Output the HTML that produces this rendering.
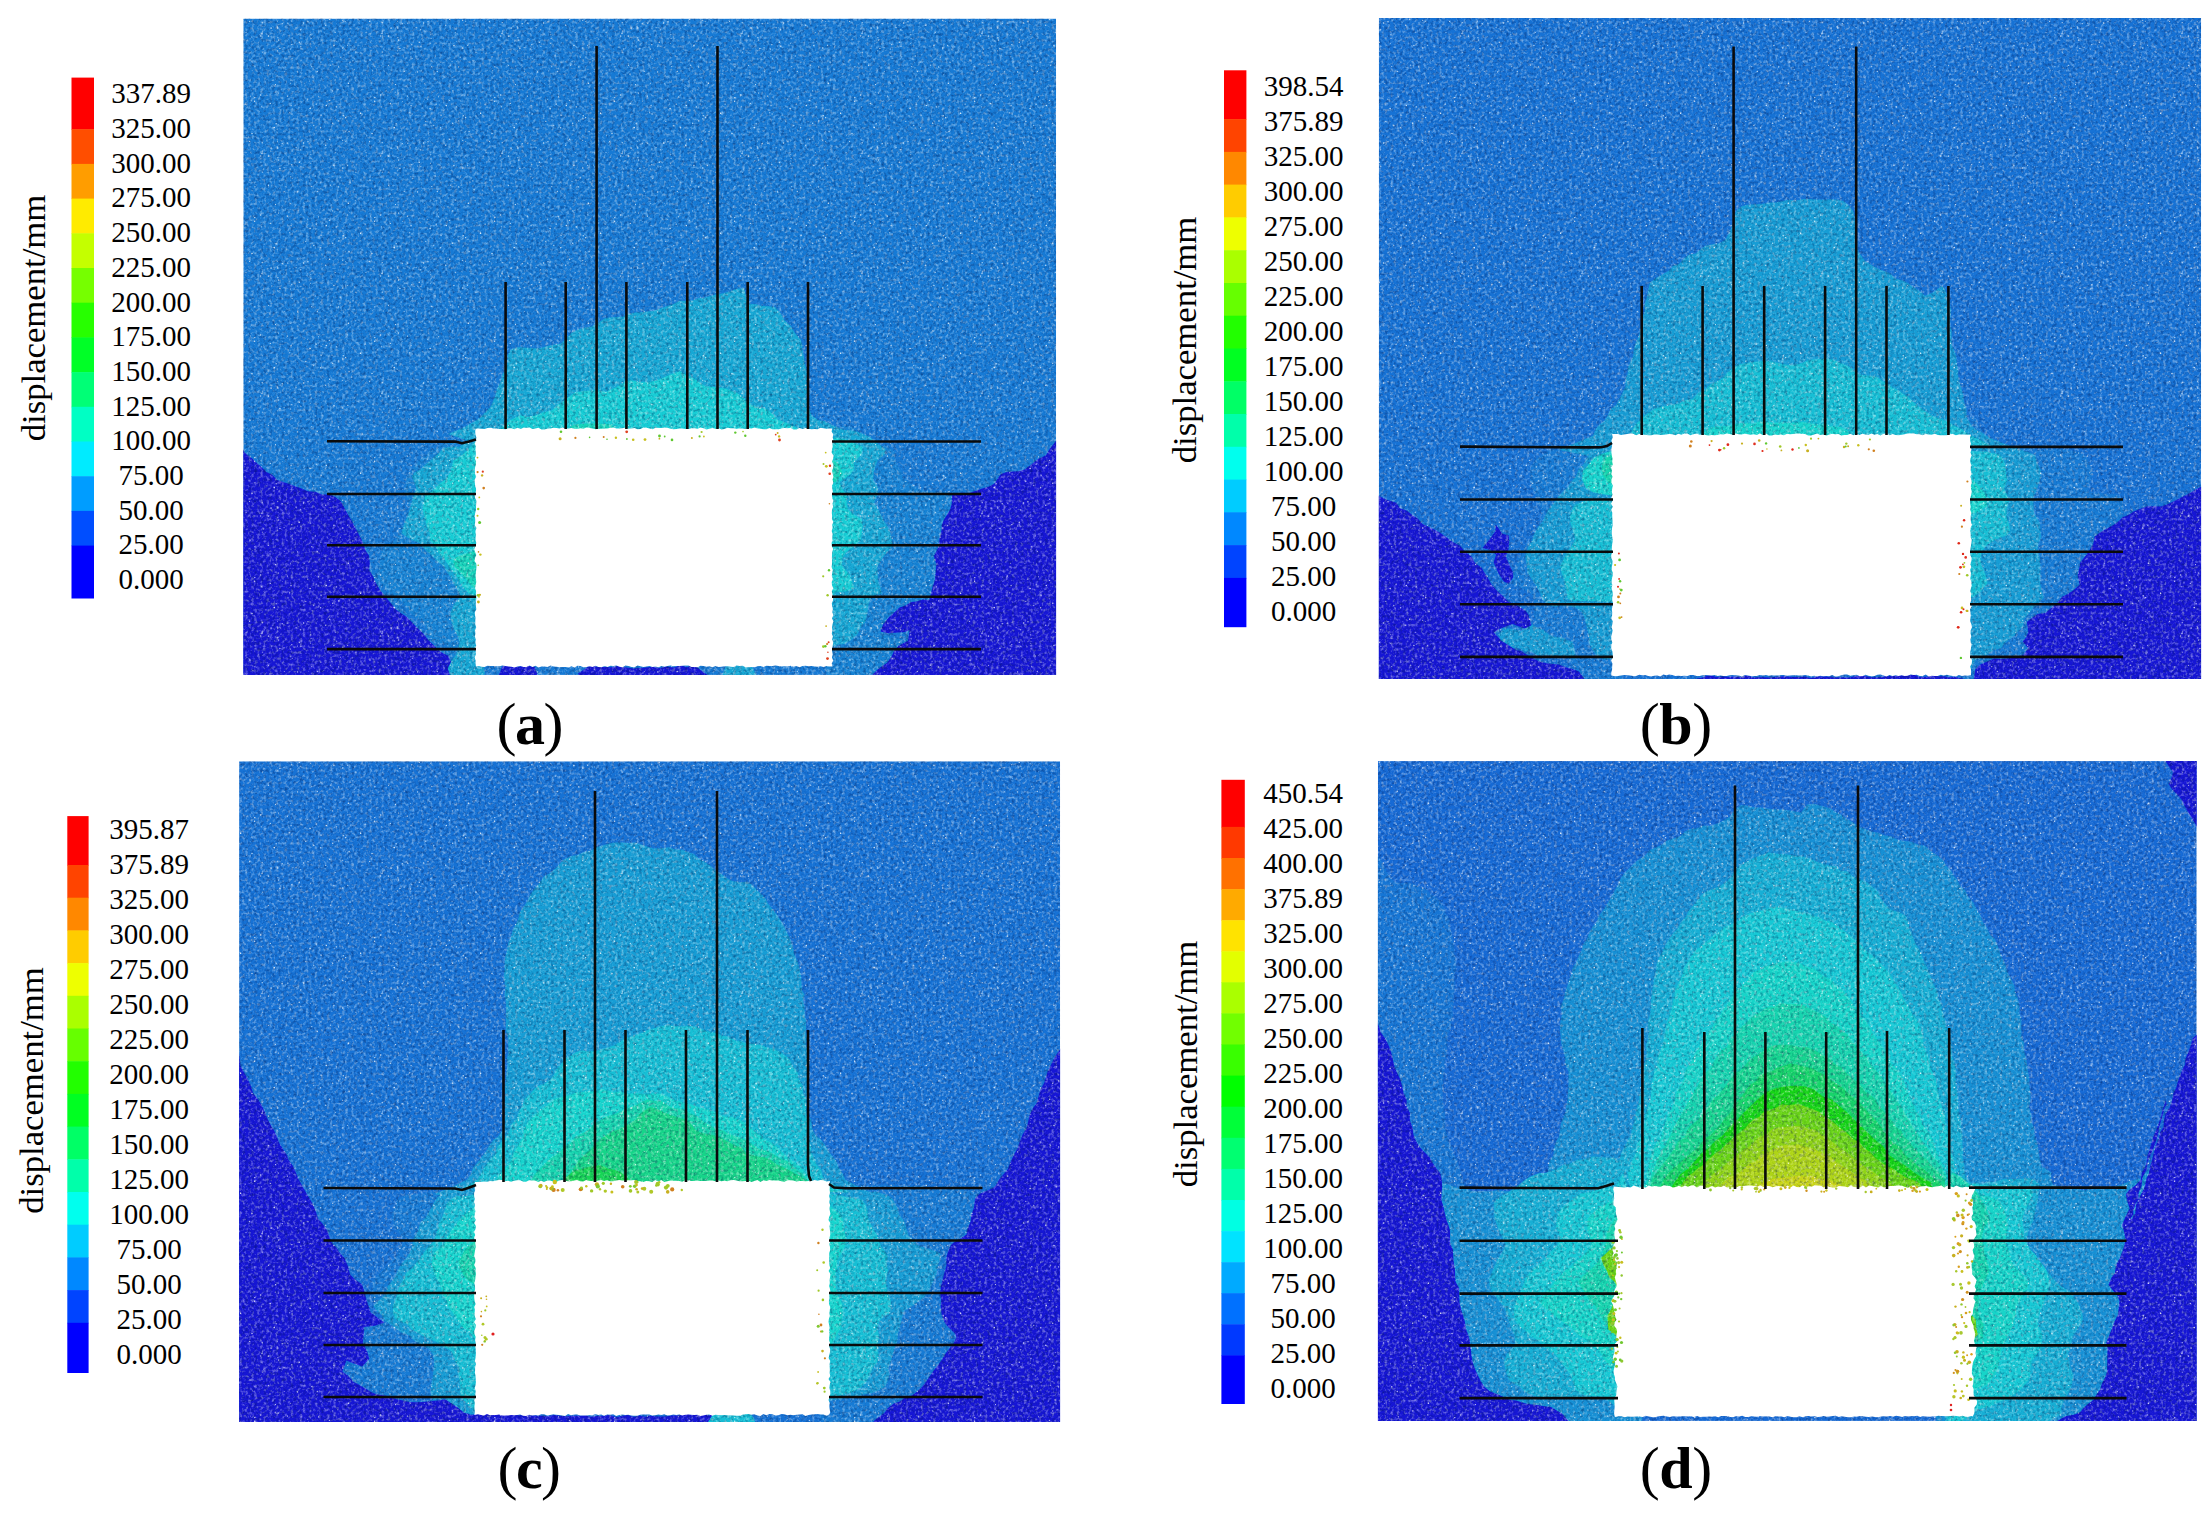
<!DOCTYPE html>
<html lang="en"><head><meta charset="utf-8"><title>Displacement contours</title>
<style>html,body{margin:0;padding:0;background:#fff}svg{display:block}text{font-family:"Liberation Serif","Times New Roman",serif;fill:#000}.lab{font-size:29px;text-anchor:middle}.ttl{font-size:34.7px;text-anchor:middle}.cap{font-size:60px;text-anchor:middle}.cap .b{font-weight:bold}</style></head><body>
<svg width="2212" height="1520" viewBox="0 0 2212 1520">
<defs>
<pattern id="sp" width="120" height="120" patternUnits="userSpaceOnUse"><circle cx="28.6" cy="65.3" r="0.60" fill="#fff" fill-opacity="0.65"/><circle cx="75.1" cy="7.9" r="0.46" fill="#fff" fill-opacity="0.77"/><circle cx="31.1" cy="28.1" r="0.85" fill="#fff" fill-opacity="0.59"/><circle cx="100.4" cy="57.2" r="0.71" fill="#fff" fill-opacity="0.43"/><circle cx="76.2" cy="104.2" r="0.66" fill="#fff" fill-opacity="0.72"/><circle cx="80.6" cy="7.7" r="0.75" fill="#fff" fill-opacity="0.65"/><circle cx="36.2" cy="3.7" r="0.80" fill="#fff" fill-opacity="0.59"/><circle cx="86.3" cy="105.5" r="0.74" fill="#fff" fill-opacity="0.81"/><circle cx="47.4" cy="96.1" r="0.63" fill="#fff" fill-opacity="0.82"/><circle cx="105.5" cy="11.7" r="0.50" fill="#fff" fill-opacity="0.46"/><circle cx="115.9" cy="52.3" r="0.70" fill="#fff" fill-opacity="0.50"/><circle cx="60.9" cy="46.3" r="0.59" fill="#fff" fill-opacity="0.64"/><circle cx="70.1" cy="108.5" r="0.72" fill="#fff" fill-opacity="0.81"/><circle cx="102.8" cy="118.9" r="0.72" fill="#fff" fill-opacity="0.43"/><circle cx="103.3" cy="115.8" r="0.81" fill="#fff" fill-opacity="0.63"/><circle cx="85.7" cy="25.3" r="0.78" fill="#fff" fill-opacity="0.64"/><circle cx="34.2" cy="7.6" r="0.79" fill="#fff" fill-opacity="0.84"/><circle cx="10.6" cy="96.1" r="0.61" fill="#fff" fill-opacity="0.43"/><circle cx="35.3" cy="92.3" r="0.80" fill="#fff" fill-opacity="0.37"/><circle cx="73.7" cy="5.4" r="0.74" fill="#fff" fill-opacity="0.52"/><circle cx="105.7" cy="117.7" r="0.65" fill="#fff" fill-opacity="0.85"/><circle cx="37.2" cy="9.2" r="0.69" fill="#fff" fill-opacity="0.37"/><circle cx="23.7" cy="49.0" r="0.69" fill="#fff" fill-opacity="0.43"/><circle cx="5.1" cy="104.1" r="0.58" fill="#fff" fill-opacity="0.83"/><circle cx="107.6" cy="45.3" r="0.63" fill="#fff" fill-opacity="0.61"/><circle cx="77.3" cy="71.5" r="0.67" fill="#fff" fill-opacity="0.66"/><circle cx="112.9" cy="60.8" r="0.62" fill="#fff" fill-opacity="0.71"/><circle cx="28.5" cy="36.1" r="0.84" fill="#fff" fill-opacity="0.61"/><circle cx="65.8" cy="1.4" r="0.62" fill="#fff" fill-opacity="0.64"/><circle cx="2.4" cy="73.9" r="0.70" fill="#fff" fill-opacity="0.38"/><circle cx="75.3" cy="56.0" r="0.72" fill="#fff" fill-opacity="0.53"/><circle cx="84.8" cy="88.6" r="0.46" fill="#fff" fill-opacity="0.38"/><circle cx="81.1" cy="115.6" r="0.55" fill="#fff" fill-opacity="0.58"/><circle cx="71.1" cy="38.4" r="0.60" fill="#fff" fill-opacity="0.51"/><circle cx="44.3" cy="71.5" r="0.57" fill="#fff" fill-opacity="0.54"/><circle cx="92.7" cy="3.2" r="0.68" fill="#fff" fill-opacity="0.72"/><circle cx="37.2" cy="26.7" r="0.77" fill="#fff" fill-opacity="0.47"/><circle cx="22.5" cy="52.2" r="0.73" fill="#fff" fill-opacity="0.40"/><circle cx="38.6" cy="40.1" r="0.78" fill="#fff" fill-opacity="0.57"/><circle cx="102.7" cy="20.3" r="0.58" fill="#fff" fill-opacity="0.68"/><circle cx="106.2" cy="54.1" r="0.54" fill="#fff" fill-opacity="0.41"/><circle cx="63.6" cy="22.9" r="0.77" fill="#fff" fill-opacity="0.77"/><circle cx="22.0" cy="33.4" r="0.77" fill="#fff" fill-opacity="0.67"/><circle cx="96.8" cy="41.4" r="0.50" fill="#fff" fill-opacity="0.50"/><circle cx="95.3" cy="32.5" r="0.59" fill="#fff" fill-opacity="0.56"/><circle cx="50.4" cy="49.1" r="0.82" fill="#fff" fill-opacity="0.43"/><circle cx="0.6" cy="113.2" r="0.80" fill="#fff" fill-opacity="0.84"/><circle cx="52.1" cy="114.0" r="0.82" fill="#fff" fill-opacity="0.46"/><circle cx="89.5" cy="100.4" r="0.72" fill="#fff" fill-opacity="0.61"/><circle cx="34.7" cy="40.9" r="0.54" fill="#fff" fill-opacity="0.38"/><circle cx="70.6" cy="34.4" r="0.77" fill="#fff" fill-opacity="0.37"/><circle cx="108.4" cy="83.2" r="0.82" fill="#fff" fill-opacity="0.80"/><circle cx="108.0" cy="69.2" r="0.46" fill="#fff" fill-opacity="0.72"/><circle cx="20.6" cy="36.0" r="0.72" fill="#fff" fill-opacity="0.61"/><circle cx="49.7" cy="112.7" r="0.69" fill="#fff" fill-opacity="0.52"/><circle cx="30.3" cy="103.4" r="0.64" fill="#fff" fill-opacity="0.74"/><circle cx="42.2" cy="23.7" r="0.66" fill="#fff" fill-opacity="0.76"/><circle cx="20.6" cy="95.0" r="0.82" fill="#fff" fill-opacity="0.75"/><circle cx="98.8" cy="0.9" r="0.70" fill="#fff" fill-opacity="0.78"/><circle cx="6.0" cy="32.6" r="0.56" fill="#fff" fill-opacity="0.61"/><circle cx="50.8" cy="56.7" r="0.76" fill="#fff" fill-opacity="0.35"/><circle cx="6.6" cy="15.2" r="0.50" fill="#fff" fill-opacity="0.38"/><circle cx="117.0" cy="102.5" r="0.48" fill="#fff" fill-opacity="0.60"/><circle cx="37.9" cy="37.7" r="0.59" fill="#fff" fill-opacity="0.67"/><circle cx="70.4" cy="43.3" r="0.53" fill="#fff" fill-opacity="0.51"/><circle cx="14.9" cy="66.7" r="0.74" fill="#fff" fill-opacity="0.54"/><circle cx="9.6" cy="21.4" r="0.60" fill="#fff" fill-opacity="0.65"/><circle cx="93.9" cy="45.6" r="0.77" fill="#fff" fill-opacity="0.66"/><circle cx="51.8" cy="44.7" r="0.65" fill="#fff" fill-opacity="0.70"/><circle cx="50.5" cy="83.3" r="0.63" fill="#fff" fill-opacity="0.47"/><circle cx="64.3" cy="83.4" r="0.48" fill="#fff" fill-opacity="0.56"/><circle cx="51.1" cy="105.6" r="0.82" fill="#fff" fill-opacity="0.54"/><circle cx="107.7" cy="94.9" r="0.55" fill="#fff" fill-opacity="0.58"/><circle cx="14.8" cy="97.6" r="0.71" fill="#fff" fill-opacity="0.79"/><circle cx="95.1" cy="80.1" r="0.74" fill="#fff" fill-opacity="0.63"/><circle cx="12.4" cy="70.5" r="0.45" fill="#fff" fill-opacity="0.42"/><circle cx="92.9" cy="5.3" r="0.49" fill="#fff" fill-opacity="0.40"/><circle cx="105.7" cy="21.5" r="0.46" fill="#fff" fill-opacity="0.77"/><circle cx="14.6" cy="101.3" r="0.72" fill="#fff" fill-opacity="0.77"/><circle cx="114.3" cy="69.5" r="0.77" fill="#fff" fill-opacity="0.37"/><circle cx="92.1" cy="61.4" r="0.74" fill="#fff" fill-opacity="0.40"/><circle cx="89.9" cy="112.1" r="0.47" fill="#fff" fill-opacity="0.51"/><circle cx="67.7" cy="99.4" r="0.55" fill="#fff" fill-opacity="0.44"/><circle cx="30.0" cy="73.9" r="0.75" fill="#fff" fill-opacity="0.55"/><circle cx="44.1" cy="47.6" r="0.59" fill="#fff" fill-opacity="0.56"/><circle cx="10.0" cy="60.0" r="0.84" fill="#fff" fill-opacity="0.56"/><circle cx="89.7" cy="19.3" r="0.73" fill="#fff" fill-opacity="0.73"/><circle cx="80.9" cy="62.1" r="0.64" fill="#fff" fill-opacity="0.67"/><circle cx="107.7" cy="17.9" r="0.49" fill="#fff" fill-opacity="0.72"/><circle cx="110.0" cy="62.1" r="0.63" fill="#fff" fill-opacity="0.71"/><circle cx="22.3" cy="32.1" r="0.53" fill="#fff" fill-opacity="0.64"/><circle cx="37.8" cy="27.9" r="0.73" fill="#fff" fill-opacity="0.83"/><circle cx="35.5" cy="84.6" r="0.62" fill="#fff" fill-opacity="0.78"/><circle cx="70.2" cy="32.1" r="0.54" fill="#fff" fill-opacity="0.36"/><circle cx="57.5" cy="45.9" r="0.52" fill="#fff" fill-opacity="0.53"/><circle cx="38.6" cy="92.9" r="0.51" fill="#fff" fill-opacity="0.85"/><circle cx="57.6" cy="71.9" r="0.64" fill="#fff" fill-opacity="0.77"/><circle cx="98.6" cy="66.9" r="0.64" fill="#fff" fill-opacity="0.71"/><circle cx="102.8" cy="48.0" r="0.74" fill="#fff" fill-opacity="0.83"/><circle cx="56.1" cy="27.6" r="0.54" fill="#fff" fill-opacity="0.71"/><circle cx="81.0" cy="115.0" r="0.79" fill="#fff" fill-opacity="0.47"/><circle cx="22.8" cy="31.0" r="0.52" fill="#fff" fill-opacity="0.70"/><circle cx="103.0" cy="108.0" r="0.55" fill="#fff" fill-opacity="0.78"/><circle cx="37.6" cy="50.8" r="0.74" fill="#fff" fill-opacity="0.39"/><circle cx="11.1" cy="100.1" r="0.57" fill="#fff" fill-opacity="0.53"/><circle cx="69.6" cy="81.1" r="0.45" fill="#fff" fill-opacity="0.52"/><circle cx="52.3" cy="58.3" r="0.53" fill="#fff" fill-opacity="0.64"/><circle cx="114.6" cy="46.9" r="0.67" fill="#fff" fill-opacity="0.41"/><circle cx="33.0" cy="79.9" r="0.50" fill="#fff" fill-opacity="0.79"/><circle cx="109.1" cy="11.6" r="0.83" fill="#fff" fill-opacity="0.54"/><circle cx="92.7" cy="90.9" r="0.57" fill="#fff" fill-opacity="0.69"/><circle cx="78.5" cy="96.7" r="0.56" fill="#fff" fill-opacity="0.73"/><circle cx="115.4" cy="80.7" r="0.66" fill="#fff" fill-opacity="0.41"/><circle cx="59.3" cy="42.3" r="0.74" fill="#fff" fill-opacity="0.69"/><circle cx="68.0" cy="21.8" r="0.71" fill="#fff" fill-opacity="0.67"/><circle cx="21.5" cy="106.8" r="0.71" fill="#fff" fill-opacity="0.41"/><circle cx="111.8" cy="17.0" r="0.58" fill="#fff" fill-opacity="0.71"/><circle cx="71.7" cy="66.6" r="0.71" fill="#fff" fill-opacity="0.58"/><circle cx="37.5" cy="21.2" r="0.48" fill="#fff" fill-opacity="0.71"/><circle cx="90.5" cy="65.2" r="0.75" fill="#fff" fill-opacity="0.53"/><circle cx="31.9" cy="46.0" r="0.80" fill="#fff" fill-opacity="0.37"/><circle cx="60.6" cy="29.7" r="0.76" fill="#fff" fill-opacity="0.53"/><circle cx="39.9" cy="48.4" r="0.67" fill="#fff" fill-opacity="0.74"/><circle cx="42.3" cy="101.6" r="0.49" fill="#fff" fill-opacity="0.49"/><circle cx="12.0" cy="13.5" r="0.76" fill="#fff" fill-opacity="0.71"/><circle cx="22.2" cy="22.7" r="0.62" fill="#fff" fill-opacity="0.72"/><circle cx="97.9" cy="89.8" r="0.69" fill="#fff" fill-opacity="0.42"/><circle cx="47.8" cy="23.2" r="0.66" fill="#fff" fill-opacity="0.63"/><circle cx="24.2" cy="30.0" r="0.76" fill="#fff" fill-opacity="0.37"/><circle cx="96.4" cy="106.9" r="0.83" fill="#fff" fill-opacity="0.54"/></pattern>
<filter id="mot" x="0" y="0" width="100%" height="100%" color-interpolation-filters="sRGB"><feTurbulence type="fractalNoise" baseFrequency="0.33" numOctaves="2" seed="4"/><feColorMatrix type="matrix" values="0 0 0 0 1 0 0 0 0 1 0 0 0 0 1 1.1 0 0 0 -0.53"/></filter>
<filter id="mod" x="0" y="0" width="100%" height="100%" color-interpolation-filters="sRGB"><feTurbulence type="fractalNoise" baseFrequency="0.33" numOctaves="2" seed="11"/><feColorMatrix type="matrix" values="0 0 0 0 0 0 0 0 0 0.08 0 0 0 0 0.3 0 1.0 0 0 -0.47"/></filter>
<clipPath id="c0"><rect x="243.3" y="18.6" width="812.8" height="656.3"/></clipPath>
<clipPath id="c1"><rect x="1378.8" y="18.0" width="822.3" height="661.0"/></clipPath>
<clipPath id="c2"><rect x="239.1" y="761.3" width="821.0" height="660.8"/></clipPath>
<clipPath id="c3"><rect x="1377.9" y="761.1" width="818.8" height="659.8"/></clipPath>
</defs>
<g clip-path="url(#c0)">
<rect x="243.3" y="18.6" width="812.8" height="656.3" fill="#167ad5"/>
<path d="M476.7,438 472,438.2 464.6,439.5 455.8,440.7 448.7,442.1 442.3,443.5 436.9,448.2 430.2,450 426.1,455.3 419.9,459.2 415.6,464.1 411.3,470.8 406.8,477.1 405.5,485.9 404.5,492.1 407.4,500.3 408.8,507.9 406.1,514.1 405,520.5 401.4,526.3 398.8,532.9 395.7,540.3 387.2,544.5 381.4,550.9 380.4,554.7 380.3,560.7 379,568.8 378.8,574 379.8,580.9 383.9,586.3 387.4,590.7 391.6,595.2 397,598 402.7,602.4 407,607.7 411.1,613.8 417.1,618.4 422.4,620.6 425.6,625.7 427.9,633.3 431.9,639.8 437.1,643.5 443.8,643.4 449.5,648.5 450,653.9 450.8,663.5 451.5,671.8 452.7,676.5 457.8,683.3 466.1,689.3 471.8,694.6 478.7,692.3 484.2,676.1 483.2,673.2 484.4,669.8 486.1,666 485.3,661.3 486,655 486.7,651.5 486.9,645.9 485.9,639.1 485.3,633.5 485.3,625.7 485.7,619.3 486.1,612.2 485.3,605.4 485.6,598.7 485.4,592.6 486.8,583.4 485.9,576.4 486.1,568.3 487.2,562.7 486.2,553.9 485.2,545.4 485.8,538.2 486.8,530.4 484.8,524.9 485.8,515.6 485.8,508.2 485.6,503.4 486.3,495.9 484.7,488.4 484.3,483 485,476.8 484.4,469.6 485.4,465.9 485.4,460.2 485.2,455.1 483.7,450 483.9,444.7 483,441.6 483.4,439.3Z" fill="#1683d5"/>
<path d="M828.7,443.2 832.9,434.4 838.8,427.5 844.1,425.7 851.8,427.1 860.9,432.2 869.3,435.6 876.1,441 880.9,444.4 887.6,446.7 895,451.5 895,459.7 897.7,465.7 901.4,471.3 903,478.5 907.8,481.1 911.3,484.7 918.9,489.2 924.2,491 934.2,491.6 939.7,492.2 947.1,492.1 954.1,496.2 953.3,503.9 950.9,511.5 944.5,519.1 941.7,524.7 940.6,531.9 939.5,538 937.2,545.5 935.5,550.7 934.7,557.6 935.1,565.1 936.4,571.4 934.9,578.7 932.5,587.2 927.8,599.7 922.9,600.6 917.2,601.7 910.1,602.7 904.7,605.8 898.6,608.4 893.1,611.8 889.1,617.4 883.5,624.6 882.1,630.2 885.7,634.7 892.2,638.2 903.1,639.6 899.4,648 896,652.2 891.6,655.9 886.7,662.7 888.2,669.1 882,676.3 877.7,677.7 872,682.3 866.9,687.1 858,690.7 851.6,692.3 844.8,695.3 836.5,693.4 831.4,686.7 828.8,677.2 826.1,672.9 826.3,668.9 824.9,664.7 825.6,659.4 824.6,655.4 822.8,649.8 823.7,644.5 821.9,639.7 823.3,633.3 821.2,625.1 820.7,619.6 821,611.1 821.1,605.8 821.8,597 820,591.1 820.9,583.1 819.6,573.9 821,567.2 819.5,560.7 820.8,552.7 819.6,545.2 819.6,537.6 820.7,528.9 821.1,522.9 820.6,513.7 821.5,506.8 820.7,499.7 820.9,493 821.9,486.8 823.4,480.5 823.3,474.2 823.4,468.2 823.7,462.9 825.4,459.2 824.8,454.4 827.2,449.4 827.7,446.4Z" fill="#1683d5"/>
<path d="M232.6,446.2 236.7,432.3 244.2,452.1 247.4,455.1 252.8,459 256.9,462.9 261.2,466.7 266.3,472.1 272.1,474.7 277.3,480 285.4,482.8 289.5,484.1 295.7,486.6 301.6,488.4 308,491.3 315.3,491.8 321.9,494.6 329.6,494.5 335.2,497 340.9,501.2 343.5,506.3 346.3,511.5 349.3,516.9 352.1,521.6 355.5,527.9 358.8,534.4 361.8,540.3 364.2,546.6 365.7,550.8 369.1,555.7 369.9,563.5 369.1,570.1 372.5,575.4 376.1,583.3 380,590 385.1,596.6 390.7,602.9 395.9,609.4 401.3,613.6 406.2,616.6 411.8,622 417,627.8 423.6,633.8 428.4,640.3 432.7,644.3 438.8,650.4 443.4,653.4 448,655.6 452.6,665.3 465.4,674.3 453.3,681.9 450.1,684 445.7,683.1 441.4,684.4 437.4,684.9 432.1,684.4 425.5,685.7 421.1,686.8 414.6,687.1 407.1,688.8 401.9,690.9 395.1,691 387.6,692.5 380.3,692.8 374,694.1 366.7,696.8 356.8,696.7 351.1,698.8 342.6,697.9 334.4,700.3 326.8,700 319.1,700.3 313.5,699.7 305.8,700.8 298.8,701.3 290.2,701.6 283.9,699.1 276.1,699.7 270.8,698.4 264,697.4 258.7,697.3 252.5,695.6 249.4,692.2 245,691.5 240.6,688 235.6,685.5 233.8,682.8 229.6,679.2 227,674.5 224.4,672.3 222.9,668 221.2,661.4 220.4,656 218.8,652.2 219.1,646 217.6,640.1 217.8,632.8 216.8,624.9 216.5,619 216.5,612.4 215.4,603.8 217.1,596.7 216.3,589.8 216.2,583.2 218.4,574.5 218.2,567 218.6,559.6 218.4,551.4 219.3,545.6 220.9,536.5 222.7,530.9 222.6,521.5 222.9,514.3 224.2,507.2 224.9,500.8 226.6,495.7 227.9,488.2 228,482.3 228.7,476 228.7,470.3 231.6,464.7 231.1,461.1 232.5,455.6 231.5,451.6 232.1,448.4Z" fill="#1616d5"/>
<path d="M1062.7,435.8 1056.7,440.3 1049.8,448.7 1046,455.2 1038,459.1 1030.1,465.5 1024.8,469.5 1018.6,471.3 1007.9,471.8 1000.9,474.1 994.5,483.5 988.6,486.7 982.3,488.6 975.2,491.1 968.9,493.1 960.9,492.8 952,495.2 951.8,503.3 950.2,509.5 943.8,520 942,524.6 941.5,530.5 939.6,538.1 939.2,544.8 936.8,550.7 933.9,556 936.4,564.6 935.9,570.2 934.9,580.3 932.5,587.4 929.4,600 923,599.6 916.3,601.4 911,602 905.3,605.7 899.5,607.5 894.9,611.9 889.2,616.8 882.9,624.9 880.6,631.4 888.4,633.3 894.9,632.7 904.8,632 909.7,630.1 908,640.7 898.6,645.8 894.1,650.8 891.3,657 887.2,662.8 879,668.3 869.5,677.5 883.5,680.8 886.6,682.1 889.9,682.7 893.9,682.8 899.2,684.6 906.3,685.3 912.2,686.7 917,689.6 924.7,690 929.8,691.6 937.7,694 944.6,694.1 953.8,694.6 960.3,697.7 968.8,697 974.8,698 984.6,699.3 991.8,701.5 998.4,700.3 1007.2,701.3 1012.7,701.3 1019.8,699.8 1025.7,700.1 1034.2,698.7 1040.2,695.6 1044,694.7 1050.8,693.4 1054,688.8 1058.1,685.9 1062.7,681.2 1064.5,679.3 1066.4,675.7 1067.5,670.6 1068.3,666.2 1070.8,660.8 1070.5,657.2 1071.6,650.2 1071.9,645.6 1073.3,640.6 1075.2,634.4 1074.1,625.7 1074,620.1 1075.6,613.1 1074.5,606 1075.3,599.4 1075.5,592.5 1075,583.4 1075.1,576.4 1074.1,569.1 1074,561.1 1072.3,553.7 1071.5,547.7 1071.9,538.8 1070.8,533 1070.4,523.8 1070.4,517.6 1070.1,509.1 1068.2,503.8 1068.3,497.2 1065.7,489.1 1065.2,482.4 1066.5,477.1 1065.8,470.7 1065,465.2 1063,460.6 1064.2,453.9 1062.9,450.4 1061.6,445.4 1061.1,441 1061.2,438.4Z" fill="#1616d5"/>
<path d="M502.4,666.3 508,665.9 518.4,666.7 526.4,665.6 534.7,667.1 537.2,673.5 535.7,682.1 532.1,682.1 524.6,684.1 517.8,683.4 510.1,684.8 503.8,683.2 499.7,681.8 498.6,675.7Z" fill="#1616d5"/>
<path d="M588.7,666.3 593.6,665.6 597,667 604.2,666.9 611,667.3 618.3,666 624.7,667.3 633.4,668.5 639,667.9 645.9,667.5 652.1,666.7 660.1,667.9 666.1,666.5 674.7,667.4 679.7,665.2 687.3,667.2 691.2,665.3 696,666.7 707.3,674.8 697.8,681.2 694.2,681.7 688.9,683.6 684.6,682.3 677.3,683.1 671.5,683.2 663.6,683.1 657.7,684.7 648.5,684 642.6,682.8 635.2,682.9 627.1,683.9 619.8,683.2 612.4,683.7 605.9,683.7 600,682.9 593.8,683 590.5,681.8 587.6,682.7 577.8,673.7Z" fill="#1616d5"/>
<path d="M725.9,666.6 733.1,664.3 743,664.4 752,666.4 755.7,673.9 754.6,682.7 749.6,682.1 742.8,683.4 736.3,682.9 729.3,684.4 724.6,682.8 721.9,676.1Z" fill="#16a8d5"/>
<path d="M471.8,442.1 447.9,434.1 463.9,427.5 478.7,418.7 485.4,412.1 490.7,406.6 493.3,400.8 495.1,396.6 497,388.7 500.4,382.3 502,375.3 504.8,370.4 507.6,363 507.6,355.5 510.7,349.5 518.6,347.2 527.8,347.8 535.7,348.4 540.8,347.9 548.5,345.7 554.9,344.4 560.5,343.7 565.2,339.4 571.2,332.8 578.1,329.6 585.5,327.4 591.5,326.8 597.7,322.9 604.7,318.4 609,317.6 616.5,317 622.7,316.8 628.2,314.1 635.3,312.5 640.3,312.2 646.8,311.4 652.9,311 659,309 666.7,306.2 673.9,303.8 679.4,300.8 685.3,300.9 693.7,300.3 698.9,298.1 703.4,298.1 711.4,295.7 717,294.2 723.5,293.3 729.5,291.6 737,288.8 744.1,288.2 746.2,296.4 749.2,303.8 756.3,304.3 760.9,305.8 768.4,306.3 774.9,306.9 779.9,312.3 784.5,320.3 790.8,326.1 794.5,332.6 800.6,339.4 802.1,344.2 802.3,348.9 803.5,354.8 804.8,363.1 806.5,370.2 807,375.2 806.8,382.8 807.5,390.5 806.3,398.1 808.4,403.4 808.9,408 811.8,415.6 818.5,420.2 824.8,421.3 830.8,424.6 855.8,434.4 836.2,441.4 833.1,442.2 829.2,442 826,442.2 821.4,442 817.5,441.1 812.1,442 807,442.8 802.1,440.8 796.8,443.1 791.9,441.3 785.5,441.1 781.2,442.7 775.2,443 767.5,442.7 761.8,443.4 756.4,443.6 747.9,443.6 743.1,443.9 734.3,442.2 727.2,441.8 721.8,443.8 714.1,443.9 706.7,442.6 698.1,442.2 692.2,442.5 683.6,443.1 675.4,442.7 668.4,443.8 661,442.9 654.8,443.3 647,443.6 637.4,443.1 630.8,444 623,443.8 616,442.6 609.3,442.3 601.8,442.5 592.5,442.5 587.1,444.4 578.1,443.2 572.3,443.8 564.6,443.1 558.2,443.8 551.3,444 544.8,442.2 539.5,442.8 531.8,443 525.7,443.3 521.4,443.2 515.6,442.1 509.6,442.1 505.5,441.2 500.5,440.9 494.1,441.4 491.3,441.8 485.8,442.6 481.4,441.4 478.4,441.9 475.6,441.5Z" fill="#16a8d5"/>
<path d="M515.2,440.6 495.8,436.5 499.9,428.5 510.7,420.1 520.2,415.3 528.6,417 537,415.1 542.7,412.6 551.8,410.5 558.5,404.3 564.1,400.8 570,395.9 574.9,392.5 584.5,390.9 590.2,390.4 596.6,390.3 606.3,391.9 611.5,389.2 617.1,386.7 623.8,382.6 630.7,380.2 640.3,382.2 649.3,382.3 657.4,380.1 663.9,377.6 671.5,374.1 679.7,371.2 687.1,375.2 694.4,378.7 705.1,386.2 711.6,386.7 719.3,387.7 725.3,388.6 731.7,391 737.4,393 745.3,399.8 750.6,404.6 758.1,407.2 766.5,408.9 772.6,414 777.4,419.5 789.4,424 804.3,431.8 809.6,436.9 793.3,441.6 792.1,441.2 786.6,441.6 783.9,442.2 779.6,442.2 775.8,442.1 770,443.3 764.3,442.9 759.3,443.2 753,443.9 747.6,441.8 741.2,442.8 734.1,443 728.5,443.8 721.6,442.8 714.3,444.1 708.9,443.7 700,444.4 693,443.1 685,444.5 679.1,444.2 670.7,444.1 662.5,445 655.2,444.3 648.7,444.7 640.3,443.5 632.9,443 626.1,443.6 618.7,443.3 610.1,443.2 603,443 594.8,444.2 588.5,443 581.7,443.4 575.3,443.7 569.4,442.9 563.8,443.9 555.7,443.7 551.9,443.5 544.5,443.4 540.5,441.2 534,443.3 531,441.4 525.3,440.9 521.7,442.2 518.4,440.4Z" fill="#16cdd5"/>
<path d="M568.3,441.7 564,434.1 571.6,425.7 577.1,424.2 584.7,423.7 590.5,423.5 598.3,423.5 605.2,424.1 611.2,424.5 618.9,432.3 619,439.9 615,441 609,442.5 601.7,443.7 592.2,443.8 585.2,443 578.1,443.3 571.2,441.6Z" fill="#16d5bb"/>
<path d="M485.1,441.2 479.9,426.7 472,429.4 466.6,440.3 459.6,446.8 451.1,446.6 443.9,448 437.6,453.8 430.9,460 425.5,464.4 420.4,469.4 414.6,472.4 411.9,476.6 414.1,481.6 416.3,488.2 413.5,496.1 410.4,506.7 408.1,515.2 404.9,522.2 401.4,533.1 406.5,536.9 411.7,540.1 419.9,543.3 422.7,547 427,551.5 433.7,557.2 437.9,562.1 443.3,566.3 446.6,570.9 450.7,577.7 453.6,583.6 458.1,591 460.7,597 454.4,603.5 450.4,612.6 450.8,619.9 454,629.4 457.4,635 459.6,642.3 458.2,647.7 456.1,654.8 452.1,659.7 447.8,668.3 450.5,676.9 455.8,681.4 461.2,688.9 471.2,695.4 479.9,691.9 483.8,675.7 484.8,672.7 484,668.6 484,666.1 484.6,662.3 484.9,657.2 485.2,650 486.9,645 487.2,639 485.8,634.4 487.5,628.2 487.7,619.8 487.6,614.5 487.3,608.1 486.9,601.1 488.1,591.6 486.5,585.8 488.4,577 487.2,571.1 486.9,563.9 487.6,554.4 487.3,548.2 487.4,540.9 486.6,533.8 487,526.1 487.5,518.3 486.8,512.1 488,505.2 486.9,497.3 485.5,492.4 486.8,485.7 485.7,479.1 487,473.8 485.9,467.1 485.2,463.3 484.9,458 485.1,454.1 485.3,448.6 483.1,444.9Z" fill="#16a8d5"/>
<path d="M483.8,447.6 477.1,440.3 465.8,451.6 459.9,456.4 453.4,460.5 450.6,472.1 445.7,479.2 439.1,484 432.4,490.9 425.1,495.9 424,501.1 422.7,509.4 424.5,516.8 426.9,526.7 429.7,533.1 430,540.5 435.5,546 439.7,554.4 445.5,560.4 449.7,567.4 454.4,573.5 459.3,581.3 462.7,586.9 466.7,591.2 475,600.6 485.2,592.5 483.4,589.8 485.3,584.6 485.2,580.3 485.2,574.2 484.3,570.8 486.5,563.3 485.9,556.1 486.6,549.6 487.1,543.2 486.8,536.2 485.5,526.5 485.4,519.2 485.1,511.3 486.2,505.8 485.9,498.6 486.9,489.2 486,483.1 484.7,477.8 484.8,470.6 485.5,465.8 485.3,459.2 484.5,453.9 485.5,451.9Z" fill="#16cdd5"/>
<path d="M483.3,449.7 476.6,453.9 474.7,465.5 479.7,470.2 484.7,471.8 485,466.3 483.6,455.8Z" fill="#16d5bb"/>
<path d="M484.6,551.1 478.7,548 470.5,552.4 462.5,554.8 456,557.3 453.2,561.2 454.6,566.9 460.5,572.8 466.2,578.9 470.9,585.3 478.1,590 484.9,588.6 484.1,583.2 484.7,577.6 486.9,569.1 485.9,560.6 486.1,554.3Z" fill="#16d5bb"/>
<path d="M827.9,442.4 831.3,433.6 838.6,430.3 844.6,430 853,430.4 861,433.3 870.6,437.6 876.2,442.3 882.3,446.9 885.7,449.1 884.8,454.4 877.8,460.1 875.4,466.2 873.5,472.6 873.4,480.4 877.8,487.2 878.3,491.6 876.8,495.8 874.2,502.7 877.4,507.7 881.2,515.4 884.2,521.6 889.2,529 891.1,537.8 893.1,544.9 889.4,549.8 884,556.1 881.6,559.6 877.3,566.5 877.7,575 878.1,580.7 880.9,588.7 881.8,593.7 875.4,595 870.6,598.8 868.6,604.2 867.4,613 865.3,622 860.9,626.8 857.6,634.3 852.5,639 844.6,643.9 838.2,644.6 832.9,647.1 826.5,647 827.4,643.6 826.5,640.2 828,636.1 826.6,630.9 826.5,625.7 825.5,620.4 827.3,613.4 826,607.2 825.7,599.3 826.5,592.9 824.3,585.5 824.2,579.9 823.3,570.7 824.7,563.3 822.8,556.6 823.9,548.7 824,540 824.2,533.8 822.1,524.7 823.1,518 822.5,509.7 822.8,502.4 823.3,497.1 822.4,489.5 824,481.9 824.4,477.4 823.7,470.2 825.2,464.8 824.6,460.6 826.1,454.4 825.4,450 826.6,447.8Z" fill="#16a8d5"/>
<path d="M826.5,448.9 831.1,440.6 835.9,437.2 845.8,439.4 851.7,441.5 859,445.1 862.7,446.9 861.5,454.6 854.1,461.8 853.9,469.2 850.8,474 844.2,479.1 839.6,481.8 841.9,488.5 846.5,495.3 846.7,504.4 848.2,510 854.4,515.1 861.9,519.3 862.5,526.3 861.7,532.9 860.8,539.5 854.7,545.5 846.1,552.1 842.3,558.4 841.9,565.6 849.2,574.4 852.1,582 854.3,588.2 846.2,591.3 836.1,592.1 830.2,597.9 826.1,586 825.1,582 824.6,578.5 824.7,573.8 823.5,567.9 825.2,561.7 824.2,556 823.3,550.5 823,543.1 822.5,534.2 824,527.7 821.8,520.1 822.6,513.5 821.7,504.8 823.7,498.7 821.8,490.6 822.4,484.5 823.2,478.3 823.9,471.2 824,466 824.5,460 825.1,455.9 826,450.4Z" fill="#16cdd5"/>
<path d="M826.7,459.6 832.7,459.9 838.7,463.8 842.6,473.5 835.7,482 826.1,482.6 824.5,476.3 825,466.8Z" fill="#16d5bb"/>
<rect x="243.3" y="18.6" width="812.8" height="656.3" filter="url(#mod)"/>
<rect x="243.3" y="18.6" width="812.8" height="656.3" filter="url(#mot)"/>
<rect x="243.3" y="18.6" width="812.8" height="656.3" fill="url(#sp)"/>
<path d="M475.5,428.7 478.5,428.4 481.5,428.7 484.5,428.9 487.5,427.9 490.5,427.8 493.5,428.5 496.5,428.6 499.5,429.1 502.5,428.9 505.5,429.2 508.5,428.3 511.5,428.3 514.5,429.3 517.5,427.7 520.5,428.9 523.5,427.8 526.5,427.8 529.5,427.6 532.5,429.1 535.5,428.6 538.5,427.7 541.5,429.5 544.5,429.4 547.5,428.4 550.5,428.5 553.5,427.7 556.5,428 559.5,428.4 562.5,427.5 565.5,428.5 568.5,428.5 571.5,428.1 574.5,428.7 577.5,428.8 580.5,428.3 583.5,428.8 586.5,427.6 589.5,428.1 592.5,428.4 595.5,429.3 598.5,428.8 601.5,428.7 604.5,428.4 607.5,428.4 610.5,427.7 613.5,427.6 616.5,428.5 619.5,428.6 622.5,428.3 625.5,427.5 628.5,428.8 631.5,428.4 634.5,427.9 637.5,429.2 640.5,428.9 643.5,427.5 646.5,427.8 649.5,428.5 652.5,429.3 655.5,427.7 658.5,428.1 661.5,427.9 664.5,427.5 667.5,427.7 670.5,428.7 673.5,429.2 676.5,428.9 679.5,428.5 682.5,428.5 685.5,429.1 688.5,429.1 691.5,428.2 694.5,428.3 697.5,428.8 700.5,427.5 703.5,428.2 706.5,429.4 709.5,428.7 712.5,427.9 715.5,428.9 718.5,428.1 721.5,429.5 724.5,428.9 727.5,427.8 730.5,428.3 733.5,428.2 736.5,429.1 739.5,428.5 742.5,428.4 745.5,429 748.5,428.2 751.5,428.4 754.5,427.5 757.5,428.4 760.5,428.7 763.5,429.3 766.5,429.2 769.5,428 772.5,429.3 775.5,429.3 778.5,429.2 781.5,428.5 784.5,427.9 787.5,428.3 790.5,427.9 793.5,429.4 796.5,429.5 799.5,428 802.5,428.9 805.5,428.1 808.5,428.8 811.5,429.2 814.5,429 817.5,429.3 820.5,427.7 823.5,428.3 826.5,428.8 829.5,428.6 832.3,428.5 831.6,431.5 833.3,434.5 832.7,437.5 833.4,440.6 832.4,443.6 832.7,446.6 832,449.6 831.6,452.6 833.4,455.6 833.2,458.6 832.1,461.6 833.3,464.7 833.1,467.7 832.1,470.7 832.7,473.7 833.4,476.7 832.5,479.7 833.4,482.7 832,485.7 832.3,488.8 832.9,491.8 831.9,494.8 832.1,497.8 833.3,500.8 832.5,503.8 833.1,506.8 832,509.8 831.8,512.9 832.2,515.9 831.9,518.9 833.4,521.9 832.1,524.9 832.6,527.9 831.7,530.9 832.6,533.9 832.3,537 832.3,540 831.6,543 831.7,546 833.2,549 832.2,552 832,555 831.9,558 832.1,561.1 832,564.1 831.6,567.1 832.8,570.1 832.2,573.1 831.8,576.1 832.9,579.1 831.7,582.1 832,585.2 833.2,588.2 831.8,591.2 832.4,594.2 833.2,597.2 833.1,600.2 831.8,603.2 832.2,606.2 832.9,609.3 832.3,612.3 833.4,615.3 831.9,618.3 833.4,621.3 832.5,624.3 832,627.3 832.4,630.3 831.8,633.4 832.9,636.4 832,639.4 833.3,642.4 832.7,645.4 832.2,648.4 832,651.4 832.7,654.4 831.9,657.5 833.2,660.5 831.7,663.5 832.5,666.5 829.5,666.6 826.5,666 823.5,667 820.5,666.3 817.5,666.8 814.5,666.6 811.5,666.1 808.5,666.3 805.5,665.7 802.5,665.9 799.5,667.2 796.5,666.1 793.5,666.8 790.5,665.7 787.5,666.6 784.5,666.2 781.5,666.5 778.5,666.1 775.5,665.6 772.5,666.1 769.5,666 766.5,665.8 763.5,666.9 760.5,666.1 757.5,666.3 754.5,667.3 751.5,667 748.5,667.3 745.5,667.2 742.5,665.8 739.5,666.1 736.5,665.6 733.5,666.9 730.5,666.8 727.5,666.2 724.5,666.3 721.5,666.8 718.5,666.9 715.5,666 712.5,667.2 709.5,666.2 706.5,666.8 703.5,665.9 700.5,665.7 697.5,667.3 694.5,667 691.5,666.9 688.5,665.6 685.5,665.6 682.5,665.8 679.5,665.9 676.5,666.1 673.5,666.3 670.5,665.6 667.5,666.1 664.5,666.8 661.5,665.9 658.5,667.2 655.5,666.6 652.5,666.9 649.5,666 646.5,666.4 643.5,666.9 640.5,666.2 637.5,665.5 634.5,667.2 631.5,667.1 628.5,666.1 625.5,665.6 622.5,667.2 619.5,666.7 616.5,665.6 613.5,666 610.5,665.7 607.5,667.1 604.5,665.9 601.5,667.3 598.5,667 595.5,665.7 592.5,666.9 589.5,666.3 586.5,667 583.5,667.2 580.5,666.1 577.5,665.7 574.5,667.4 571.5,666.3 568.5,667.4 565.5,666.9 562.5,667 559.5,667.2 556.5,666.8 553.5,666.4 550.5,665.6 547.5,666.9 544.5,666.4 541.5,666.5 538.5,667.4 535.5,665.8 532.5,667 529.5,665.6 526.5,666.9 523.5,667.1 520.5,666 517.5,666.6 514.5,667.4 511.5,666.8 508.5,666.6 505.5,666 502.5,665.6 499.5,666.2 496.5,666.3 493.5,665.9 490.5,666.1 487.5,665.8 484.5,666.9 481.5,666.8 478.5,666 476,666.5 475.5,663.5 475.6,660.5 474.6,657.5 475.8,654.4 475.9,651.4 474.7,648.4 476.2,645.4 475.4,642.4 475.8,639.4 474.9,636.4 475.4,633.4 475,630.3 476.2,627.3 475.2,624.3 475.3,621.3 475.6,618.3 475,615.3 474.8,612.3 476.3,609.3 475.9,606.2 475.8,603.2 476.1,600.2 476.4,597.2 475.9,594.2 476.1,591.2 475.1,588.2 475.6,585.2 476.3,582.1 475.9,579.1 475.6,576.1 475.8,573.1 476.2,570.1 476.4,567.1 476.5,564.1 474.5,561.1 475,558 476.3,555 475.1,552 474.5,549 475.4,546 476.3,543 475.5,540 475.6,537 476.1,533.9 475.4,530.9 476.5,527.9 474.7,524.9 475.2,521.9 475.2,518.9 474.6,515.9 475.2,512.9 476,509.8 476,506.8 476.2,503.8 476.4,500.8 475,497.8 474.8,494.8 475.9,491.8 476.1,488.8 475.2,485.7 474.8,482.7 474.6,479.7 476.2,476.7 474.9,473.7 474.8,470.7 475,467.7 475.8,464.7 476.1,461.6 474.8,458.6 475.9,455.6 475.8,452.6 475.4,449.6 475.8,446.6 474.8,443.6 476,440.6 476.4,437.5 475.4,434.5 475.2,431.5Z" fill="#fff"/>
<circle cx="659.5" cy="436.0" r="1.4" fill="#60c830"/>
<circle cx="659.4" cy="438.7" r="0.9" fill="#c8b020"/>
<circle cx="664.7" cy="436.5" r="0.9" fill="#60c830"/>
<circle cx="626.7" cy="431.8" r="1.4" fill="#e04020"/>
<circle cx="699.6" cy="436.4" r="1.1" fill="#60c830"/>
<circle cx="703.9" cy="436.5" r="0.9" fill="#c8c020"/>
<circle cx="743.0" cy="431.6" r="0.8" fill="#a0c828"/>
<circle cx="691.9" cy="438.0" r="1.0" fill="#c8b020"/>
<circle cx="745.3" cy="435.7" r="1.2" fill="#60c830"/>
<circle cx="561.0" cy="431.8" r="1.3" fill="#60c830"/>
<circle cx="779.5" cy="440.0" r="1.4" fill="#e04020"/>
<circle cx="615.9" cy="437.8" r="1.2" fill="#c8c020"/>
<circle cx="575.4" cy="437.9" r="1.1" fill="#d08020"/>
<circle cx="645.0" cy="439.6" r="1.4" fill="#c8c020"/>
<circle cx="607.0" cy="439.3" r="0.8" fill="#60c830"/>
<circle cx="775.7" cy="434.6" r="0.9" fill="#e04020"/>
<circle cx="603.7" cy="437.1" r="1.0" fill="#d08020"/>
<circle cx="633.2" cy="439.7" r="1.3" fill="#c8c020"/>
<circle cx="589.6" cy="437.4" r="0.8" fill="#60c830"/>
<circle cx="735.3" cy="432.6" r="1.2" fill="#60c830"/>
<circle cx="672.0" cy="439.9" r="1.3" fill="#60c830"/>
<circle cx="701.6" cy="432.0" r="1.1" fill="#a0c828"/>
<circle cx="560.1" cy="438.8" r="1.5" fill="#c8b020"/>
<circle cx="626.9" cy="439.0" r="0.9" fill="#60c830"/>
<circle cx="779.1" cy="436.4" r="1.2" fill="#c8c020"/>
<circle cx="777.6" cy="432.9" r="1.0" fill="#c8b020"/>
<circle cx="479.3" cy="497.4" r="0.9" fill="#c8c020"/>
<circle cx="478.5" cy="551.9" r="0.8" fill="#d08020"/>
<circle cx="479.6" cy="522.5" r="1.5" fill="#60c830"/>
<circle cx="482.8" cy="471.7" r="1.1" fill="#e04020"/>
<circle cx="478.1" cy="595.3" r="1.4" fill="#a0c828"/>
<circle cx="482.1" cy="475.4" r="1.2" fill="#c8b020"/>
<circle cx="478.4" cy="602.0" r="1.4" fill="#c8b020"/>
<circle cx="477.5" cy="457.6" r="0.9" fill="#c8b020"/>
<circle cx="483.7" cy="488.1" r="1.3" fill="#d08020"/>
<circle cx="479.9" cy="594.8" r="1.1" fill="#c8b020"/>
<circle cx="478.2" cy="565.3" r="0.8" fill="#a0c828"/>
<circle cx="480.4" cy="554.6" r="1.2" fill="#c8c020"/>
<circle cx="479.0" cy="596.8" r="0.9" fill="#c8c020"/>
<circle cx="477.5" cy="515.8" r="1.0" fill="#c8c020"/>
<circle cx="478.2" cy="509.0" r="1.2" fill="#a0c828"/>
<circle cx="477.6" cy="472.1" r="1.1" fill="#d08020"/>
<circle cx="827.6" cy="595.2" r="1.2" fill="#a0c828"/>
<circle cx="827.1" cy="644.0" r="1.1" fill="#d08020"/>
<circle cx="827.9" cy="652.2" r="0.8" fill="#e04020"/>
<circle cx="823.5" cy="464.1" r="1.0" fill="#a0c828"/>
<circle cx="830.0" cy="465.8" r="1.2" fill="#e04020"/>
<circle cx="823.3" cy="646.6" r="1.3" fill="#a0c828"/>
<circle cx="828.6" cy="642.2" r="1.0" fill="#e04020"/>
<circle cx="826.3" cy="466.3" r="1.4" fill="#c8c020"/>
<circle cx="829.0" cy="570.3" r="1.2" fill="#60c830"/>
<circle cx="825.7" cy="452.6" r="0.9" fill="#c8c020"/>
<circle cx="827.5" cy="658.6" r="1.4" fill="#e04020"/>
<circle cx="825.3" cy="646.2" r="1.3" fill="#60c830"/>
<circle cx="826.1" cy="626.1" r="0.9" fill="#c8b020"/>
<circle cx="823.2" cy="576.3" r="1.1" fill="#a0c828"/>
<circle cx="829.7" cy="473.7" r="1.3" fill="#e04020"/>
<circle cx="829.4" cy="503.7" r="0.8" fill="#d08020"/>
</g>
<path d="M596.6,46.0L596.6,429.0M717.5,46.0L717.5,429.0M505.6,282.0L505.6,429.0M565.7,282.0L565.7,429.0M626.4,282.0L626.4,429.0M687.3,282.0L687.3,429.0M747.7,282.0L747.7,429.0M808.0,282.0L808.0,429.0M327.0,494.0L476.0,494.0M327.0,545.2L476.0,545.2M327.0,596.8L476.0,596.8M327.0,649.1L476.0,649.1M832.0,441.5L981.0,441.5M832.0,494.0L981.0,494.0M832.0,545.2L981.0,545.2M832.0,596.8L981.0,596.8M832.0,649.1L981.0,649.1" stroke="#0a0a0a" stroke-width="2.6" fill="none" stroke-linecap="butt"/>
<path d="M327,441.2 455,441.6 462,443.2 469,441.5 476,439.5" stroke="#0a0a0a" stroke-width="2.6" fill="none"/>
<rect x="71.5" y="77.6" width="22.5" height="52.1" fill="#ff0000"/>
<rect x="71.5" y="129.2" width="22.5" height="35.2" fill="#ff4e00"/>
<rect x="71.5" y="163.9" width="22.5" height="35.2" fill="#ff9d00"/>
<rect x="71.5" y="198.6" width="22.5" height="35.2" fill="#ffeb00"/>
<rect x="71.5" y="233.3" width="22.5" height="35.2" fill="#c4ff00"/>
<rect x="71.5" y="268.0" width="22.5" height="35.2" fill="#76ff00"/>
<rect x="71.5" y="302.7" width="22.5" height="35.2" fill="#27ff00"/>
<rect x="71.5" y="337.4" width="22.5" height="35.2" fill="#00ff27"/>
<rect x="71.5" y="372.1" width="22.5" height="35.2" fill="#00ff76"/>
<rect x="71.5" y="406.8" width="22.5" height="35.2" fill="#00ffc4"/>
<rect x="71.5" y="441.5" width="22.5" height="35.2" fill="#00ebff"/>
<rect x="71.5" y="476.2" width="22.5" height="35.2" fill="#009dff"/>
<rect x="71.5" y="510.9" width="22.5" height="35.2" fill="#004eff"/>
<rect x="71.5" y="545.6" width="22.5" height="52.9" fill="#0000ff"/>
<text class="lab" x="151.0" y="103.1">337.89</text>
<text class="lab" x="151.0" y="138.0">325.00</text>
<text class="lab" x="151.0" y="172.7">300.00</text>
<text class="lab" x="151.0" y="207.4">275.00</text>
<text class="lab" x="151.0" y="242.1">250.00</text>
<text class="lab" x="151.0" y="276.8">225.00</text>
<text class="lab" x="151.0" y="311.5">200.00</text>
<text class="lab" x="151.0" y="346.2">175.00</text>
<text class="lab" x="151.0" y="380.9">150.00</text>
<text class="lab" x="151.0" y="415.6">125.00</text>
<text class="lab" x="151.0" y="450.3">100.00</text>
<text class="lab" x="151.0" y="485.0">75.00</text>
<text class="lab" x="151.0" y="519.7">50.00</text>
<text class="lab" x="151.0" y="554.4">25.00</text>
<text class="lab" x="151.0" y="589.1">0.000</text>
<text class="ttl" transform="translate(45.0,318.0) rotate(-90)">displacement/mm</text>
<text class="cap" x="530.0" y="743.5">(<tspan class="b" dx="-1.6">a</tspan><tspan dx="-1.6">)</tspan></text>
<g clip-path="url(#c1)">
<rect x="1378.8" y="18.0" width="822.3" height="661.0" fill="#1672d5"/>
<path d="M1608,435.9 1603.2,440 1596.5,444.1 1589.4,448.7 1583.5,451.5 1577.3,452.3 1569.4,453.6 1561,450.2 1554.8,449.7 1549.6,449.6 1542.3,454.7 1536.4,458.4 1531.4,464.9 1530.3,471.4 1530.2,479.7 1532.4,489.2 1535.3,494.3 1537.4,502 1541.2,508.7 1541.5,514.8 1540.1,521.8 1538,528.7 1533.4,534.7 1529.6,540 1526.3,544.1 1522.9,551.2 1519,556.9 1517.9,562.2 1515.2,566.6 1511.6,577.7 1512,583.5 1519,587.3 1525.3,590.2 1531.6,594.7 1533.4,599.8 1534.8,606.4 1533.9,613.2 1534.9,620.6 1531,626.1 1526,627 1518.8,627.9 1510.6,628.4 1503.9,628.9 1496.8,635.6 1501,637.2 1505.3,640.5 1511.4,645.8 1518.3,648.8 1525.7,650 1532.6,652.9 1537.7,653.9 1546,652.9 1554.8,654.6 1561.2,654.8 1566.8,656.7 1570.2,661.8 1572.6,668.1 1575.4,673.6 1579.4,679.5 1584.2,683.7 1589.7,687.9 1596.7,695.4 1602.4,701.1 1610,703.4 1617,698.9 1620,683.1 1621.9,681.3 1622.3,675.4 1622.4,671.5 1622.6,668.7 1621.8,664.2 1623.5,657.5 1622.5,652.5 1624.3,647.1 1622.7,639.8 1622.9,635.4 1623.2,628.3 1623.6,621.9 1623.9,613.8 1625.1,607.7 1624.7,601.1 1625.3,591.9 1623.9,584.9 1624.2,579.2 1624.9,569.6 1623.4,564 1624.5,555.4 1623.9,547.3 1624.7,540.3 1624.7,533.4 1622.6,525.3 1622.8,519.4 1623.6,510.2 1622.4,503.9 1623,497.5 1622.6,490.3 1621.5,484.4 1622.1,476.8 1622.2,473.1 1621.1,465.3 1622.4,460.2 1621.2,455.6 1621,451 1621.5,447.5 1622.4,441.2 1621.2,439.3 1621.8,436.1 1615.9,419.1Z" fill="#167bd5"/>
<path d="M1965.6,429.7 1970.1,417 1975.2,417.4 1979.4,426.9 1986.9,437.5 1993.6,443.6 1998.9,444.9 2003.8,445.7 2010.9,448 2018,447.1 2024.2,447.4 2031.1,447.6 2036.6,450 2045,449.4 2052.9,449.3 2059.4,448.9 2066.8,449.8 2074.2,451.2 2079.9,452.1 2087.1,457.8 2089.2,463.6 2092.7,472.5 2091,479.3 2088.2,487 2088.1,491.8 2094.5,493.1 2099.8,493.1 2107.2,494 2115.5,494.5 2119.7,496.3 2123.3,504 2123.2,510.2 2122.2,518.6 2118.5,521.6 2113.8,527 2105.7,528.5 2098.6,533 2096.3,538.2 2093.5,542.5 2087,554 2080.9,561.8 2079.6,567.5 2077.8,573.7 2079.5,584.5 2073.3,591 2068.2,593.7 2061.7,596.7 2057.7,603.2 2052.6,607.1 2044.9,612.3 2037.4,614 2030.9,617.4 2028.2,620.9 2030,631.9 2025.7,637.7 2022.5,642.8 2027.8,648.8 2022.9,653.2 2014.4,658.4 2007.9,658.3 2000.6,660.1 1993.2,658.9 1985.6,662 1978.7,663.4 1977.4,670.9 1976.8,677.7 1975.7,682.8 1966.6,682.4 1964.7,679.3 1964.7,676.6 1965.8,671.7 1966.6,667.8 1964.5,662.5 1965.8,659.2 1964.3,651.7 1965.7,646.5 1966,641.1 1965.1,634.5 1965.4,628.3 1964.1,622.7 1963.5,615.5 1963.3,608.3 1964,601.6 1963,593.6 1963.8,587.1 1965,578.9 1963.2,570.5 1963.2,563.4 1963.1,555.3 1964.3,548.8 1963.1,542.1 1962.9,533.5 1962.7,526.8 1964.5,518 1964.2,512.1 1963.1,503.9 1963.6,498.2 1962.9,491 1964,483.8 1964.1,478.5 1963.3,472.3 1963.8,466.2 1965.1,459.2 1965.3,455.8 1964.1,448.5 1963.9,446.1 1963.9,441.7 1964.5,437.4 1964.7,432.5Z" fill="#167bd5"/>
<path d="M1373.3,490.9 1379.3,496.3 1387.3,499.9 1396.3,502.7 1400,508.3 1406.9,510.7 1412.2,515.1 1417.7,518.4 1422.5,523.9 1428.9,527 1434.2,529.4 1440.1,532.7 1445.7,536.8 1452.8,542 1460.1,545.7 1465.1,551.7 1471.4,556.5 1475,563.1 1481.6,567.7 1483.5,571.3 1486.9,576.3 1491.3,584.2 1497.5,591.2 1502.4,595.5 1508.5,601.7 1514.2,604.1 1520.4,607.6 1525.7,610.9 1528.3,614.6 1531.8,626.4 1524.8,628.4 1518.3,626.2 1512.6,624.1 1501.4,628 1493.7,632.4 1500.9,640 1506.6,644 1515.7,649.9 1521.3,651.1 1526.6,654.8 1532.3,657.9 1540.1,661.8 1547.9,663.5 1558.8,664.6 1566.4,667.5 1572.3,669 1578.7,671.2 1583.8,678 1585,687.1 1582.1,686.6 1578.3,687.5 1573.1,688.1 1568.5,689.3 1564,689.5 1558.7,689.7 1552.2,689.7 1547.8,691.4 1540.5,692.3 1534.5,692.5 1526.1,694.9 1519.8,695.4 1513.5,696.9 1506.2,695.7 1497.6,698.5 1491.1,697.6 1482,698.6 1474.3,699.5 1468.4,700.5 1460,700 1452.5,702.5 1445.8,701.4 1438.1,702.3 1431.7,700.7 1424.7,701 1417.7,700.3 1410.9,699.9 1404.9,698.3 1398.6,698.6 1392.8,696.4 1389.4,695.1 1383.7,693.2 1380.7,690.8 1376.5,690.3 1372.2,686.7 1370.5,683.8 1366.7,678.6 1364.5,675 1363.2,670 1360.8,665.5 1360.4,659.2 1358.3,653.7 1358.8,646.4 1358.4,641 1356.7,634 1356.5,625.5 1357.6,619 1357.4,611.9 1358.8,605 1357.3,597 1359.1,589 1360.9,581.3 1360.9,574.9 1361.8,566.4 1363.1,559.8 1364.5,552.3 1365,543.6 1366.8,537.9 1368.1,531.9 1367.5,524.2 1368.4,519.7 1369.3,512.3 1371.7,508.2 1370.7,503.7 1372.8,498.9 1371.6,495.6Z" fill="#1616d5"/>
<path d="M1495.8,524.5 1502.4,533.7 1508.9,535.5 1509.1,542 1508.5,549.5 1505.8,556.3 1509.3,564.8 1512.7,571.6 1513.2,577.2 1508.6,583.7 1503.8,581.5 1498.6,573.4 1493.6,562.6 1496.1,554.8 1490.8,550 1482.5,548 1489.9,539 1495.3,531.3Z" fill="#1616d5"/>
<path d="M2207.8,482.8 2202.1,486.5 2195.7,489.5 2187.8,494.3 2181,497.6 2175.4,500.6 2167.7,504.3 2160.8,506.4 2153,506.2 2147.6,506.2 2141.2,508.6 2133.8,511.6 2128.3,514.9 2122.3,517.5 2117.9,522.1 2112.6,525.4 2106.9,528.5 2100.4,532.2 2094.5,536.8 2093.2,544.2 2087.2,553.8 2080,563 2079.6,567 2077.8,574.4 2079.5,585 2073.2,590.4 2068.1,593.8 2061.9,597.1 2057.7,602.6 2052.3,607.3 2045.4,613 2037.5,613.9 2031.4,618.6 2026.9,622 2028.3,632 2026.2,637.3 2022.8,641.4 2028.3,648.3 2023.3,655 2014.9,657.8 2006.8,658.4 2000.5,658.9 1994.3,658.5 1985.5,662.3 1979.9,664.7 1975.3,669.4 1974,677.5 1974.5,686.2 1977.9,685.9 1980.8,688.5 1984.3,688.8 1989.5,687.2 1993.6,688.7 1998.6,690 2003.9,690.9 2010,689.9 2016.8,690.7 2023.1,693.2 2029.8,693.3 2035.2,694.3 2042.3,695.5 2049.5,696.2 2057.3,696.6 2065.4,696.9 2071.6,699.5 2079.5,700 2088.3,699.8 2094.1,699.5 2103.4,700.1 2110,701.6 2116.5,701.8 2124,702.2 2132,702 2138.4,702.1 2145.4,701.3 2152.2,702.8 2159.4,702.5 2164.6,702 2171.9,700.9 2177.9,699.7 2182.6,698.8 2187.6,696.3 2192.2,695 2197.9,693 2202.9,690.6 2205.8,688.7 2209.1,687.5 2212.7,682.4 2214.5,679.8 2218.9,674.1 2220.2,670.8 2222.5,664.7 2224,659.3 2225.5,652.2 2226.4,646.8 2225.8,639.4 2225.8,634.1 2227,625.6 2226.1,618.2 2225.5,611 2225.3,605.2 2226.3,597.1 2224.3,588.7 2224.2,582 2223.2,573.6 2220.8,565.9 2221.2,558.8 2218.3,551.2 2217.7,542.5 2218,536.7 2216.3,528.5 2215.3,523.8 2214.4,517 2213.2,511.2 2211.7,504.7 2211.5,500.3 2210.9,494.3 2210.5,490.5 2210.1,485.7Z" fill="#1616d5"/>
<path d="M1701.1,677.7 1702.8,677.5 1706.7,675.7 1711.6,675.6 1716.5,677.1 1722.3,676.6 1727.3,676.8 1734.3,676.6 1741.1,677.1 1746.5,675.5 1754.1,677.4 1760.6,677 1769.2,677.6 1774.9,677 1782.8,676.2 1792.7,677 1800.3,677.1 1804.8,676.5 1810.4,678 1817,676.6 1821.9,676.5 1829.9,676.8 1836.5,677.6 1842.1,677.2 1848.9,677.5 1856.5,676 1865.6,676.1 1871.1,677.3 1879.3,677.2 1886,676.2 1894.5,676.1 1901.6,675.3 1908.2,675.2 1914.2,674.8 1919.8,677 1926.7,676.7 1932.2,675.6 1937.4,676.2 1944.5,676.2 1948.1,677.3 1953.7,676.8 1955.6,676.9 1959.9,677.9 1985.9,683.8 1960.3,689.7 1956.8,690.6 1954.1,690.3 1948.8,691.6 1943.7,691.4 1940.5,690.8 1934.8,691.4 1930.6,691.4 1924.6,689.9 1917.7,690.2 1913,692.1 1904.7,691.5 1899.2,690.2 1892,692 1885.6,690.9 1878.9,691 1871.1,691.3 1864.9,691.9 1857,692 1848.6,692.7 1841.8,692.1 1833.2,690.8 1826.4,692.4 1819.4,691.3 1810.3,691.7 1804.6,690.8 1796.9,690.8 1788.5,690.5 1781.3,691.2 1775.8,692.5 1767,690.9 1762.1,690.6 1754,691.1 1747.1,690.6 1741.7,690.8 1737.1,690.4 1729.7,691.9 1724.9,691.6 1720.3,691.3 1714.8,689.7 1711.5,690.4 1707,690.7 1703.8,689.6 1699.7,691 1677.6,683Z" fill="#1616d5"/>
<path d="M1587.3,456 1558.6,449.7 1576,442.8 1592.9,435.8 1595.8,429.1 1599,425 1604.6,420.5 1607.6,415.7 1610.7,409.1 1616,405 1619.7,398.5 1623,391.8 1625.5,386.6 1625.5,379.5 1627.8,373.1 1627.9,368 1630.6,361.3 1633.1,356.4 1633.9,348.9 1635.9,342 1638.4,337.4 1640.3,330.3 1641.1,323.5 1642.2,317.5 1644.8,311.1 1644.4,305.2 1647.2,295.5 1648.4,288.9 1650,282.7 1656,278.1 1663.1,274.1 1669.2,270.6 1673.4,265.5 1679.7,263.4 1684.2,258.3 1689.3,254.6 1695.6,253.4 1701.1,248.8 1706,245.5 1713.8,244 1719.3,243.2 1725.5,239.8 1729.2,232.5 1732.7,224.4 1733.6,218.4 1736,211 1741.2,206.6 1747,204.8 1754.8,204.3 1763.1,203.7 1770.7,202.3 1775.3,202.4 1781.6,201.3 1788.6,199.7 1796.3,200.5 1803,198.9 1809.6,198.9 1815.9,199.6 1824.7,199.7 1831.4,199.3 1838.3,199.7 1843.8,201.3 1848.9,205.4 1853.6,211.5 1854.9,220.8 1855.9,226.7 1856,234.5 1857.3,240.8 1857.4,248 1858.7,252.2 1865.2,261.1 1873.1,265.9 1880.4,269.8 1887,272 1890.5,273.8 1895.7,278.6 1902.6,280.6 1907.5,282.7 1912.7,286.4 1921.1,292 1924.9,295.7 1933.2,292.2 1941.3,285.9 1944.5,287.8 1948,297.1 1949.7,303.5 1951.1,310.4 1950.4,318.5 1950,324.6 1951.8,331.7 1951.6,337.3 1952,345.2 1954.6,351.5 1956.2,356.6 1956.8,362.9 1958.3,370.5 1958,375 1959.5,382.6 1961,386.8 1963.6,396.5 1963.9,401.4 1966.4,408.8 1966.8,417.2 1972,426.3 1976.8,429.9 1982.3,432.8 1989.3,437.6 2006.3,444.5 2024.3,450.8 1996.6,456.8 1993.9,457.2 1990.1,455.8 1987.2,455.9 1982.7,456.8 1979.1,457.7 1973.8,457.7 1970.3,457.4 1964.2,458.5 1960.4,456.6 1954.3,458.9 1949,457.6 1944.8,458.7 1938.7,458.6 1931.4,457.2 1927.6,459 1919.1,457.2 1913.3,459.4 1906.8,458.9 1901.9,458.9 1895.1,458 1886.5,457.5 1881,457.8 1874.5,459.3 1865.5,459.6 1858.2,458.9 1850.8,459.6 1845.4,460 1835.8,459.8 1829.7,459.8 1822.1,459.3 1814.8,459.8 1806.1,458 1799.7,458.6 1791.7,457.9 1785,458 1777.7,459.8 1769.2,458.2 1762.2,458.4 1754.2,458.1 1748.1,459.2 1739.2,458.1 1732.8,459.8 1725.8,458 1717.4,458.5 1711.2,458 1703.8,460 1697.3,457.6 1688.8,457.8 1683.5,458.9 1676.5,458.5 1669.8,458.8 1664,459.5 1658,459.1 1652.4,459.1 1646,457.1 1640.2,459 1634.1,458.9 1628.1,459 1623.6,458.3 1618.1,457.2 1613.6,457.1 1608.4,457.3 1606.2,457.7 1602,457.8 1597.9,458.2 1594.1,456.3 1589.5,456.5Z" fill="#169dd5"/>
<path d="M1621.2,455.9 1598.6,451.8 1612.3,443.2 1629.3,435.7 1633.5,428.3 1636.9,423 1642.7,417.4 1648.2,412.9 1655.2,408.6 1659.9,407 1666.1,405.9 1672.3,404.6 1679,403.6 1685.2,400.1 1692.6,399.3 1698,393 1706.1,389.1 1710,384.4 1716.9,381.6 1722.8,378.2 1727.1,372.7 1732,369.1 1738.1,364.5 1746.1,363.2 1751.6,361.9 1757.8,361.4 1765.7,360.5 1773.1,361.8 1780.9,363.6 1787.8,365.1 1796.5,364.5 1802.1,363 1808.8,360 1817.9,359.1 1826.6,358.7 1833.2,359.4 1839.7,362.6 1845.8,364.9 1851.9,368.6 1857,373.3 1861.9,374.9 1867.2,375.5 1877,376.7 1881.7,380.5 1887.2,383.2 1891.9,387 1899,390.7 1903.7,394.3 1908.1,396.4 1912.3,401.3 1919.2,407 1925.7,411.4 1932.3,415.9 1939.9,418.8 1948,421.3 1954.5,426.1 1961.3,428.8 1968.2,434.1 1982.6,441.2 1998.2,450.1 1974.1,456.5 1971.6,455.7 1967.6,457.7 1962.9,456 1959.3,456.3 1955.1,457.9 1949.6,456.7 1945.7,456.9 1940.1,457.7 1934.5,457 1929.6,458 1925.3,458.4 1917.3,457.7 1912.8,458.6 1906.8,459.7 1900.3,457.7 1893.9,458.8 1885.5,458 1880.1,458.2 1871.3,458.4 1866.2,458.9 1858.5,458.1 1850.6,458.7 1842.6,459.6 1835.5,458.3 1829.5,459.2 1820.1,458.1 1813.6,459.3 1804.6,459.2 1798.7,459.4 1789.9,459.3 1783.2,459.6 1774.5,460 1768.9,459.8 1761.2,458.9 1753.9,458.4 1744.9,459.4 1739.2,458.1 1730.3,457.9 1723.8,458.1 1716.2,459.5 1710.3,459.9 1703.1,459.2 1695.5,459.7 1689.6,458.5 1684,459.5 1677.9,459.5 1672.3,457.6 1667.1,457.4 1661.9,457.9 1654.8,459 1650,457.5 1645.2,458 1639.9,457.1 1635.9,458.1 1631.5,457.4 1628.4,456.8 1625.7,457.3Z" fill="#16bfd5"/>
<path d="M1696.4,455.9 1685.2,451.5 1692.2,440.9 1701.5,434.9 1706.5,429.7 1710.5,427.5 1718.2,426.3 1723.9,426.2 1731.4,425.3 1739.8,423.3 1748.2,423.1 1752.3,423.9 1759.1,421.5 1766.7,421.9 1775.5,423.1 1781.5,422.2 1789.6,423 1796.3,422.5 1802.5,422.1 1811.2,423.4 1818.7,424.7 1825.7,423.7 1829.3,426.3 1839.6,426.8 1846.7,429.9 1850.5,434.4 1859.8,442.3 1865.5,451 1855.6,456.5 1852.4,457.7 1846.8,457.3 1843.8,458.2 1838.6,457.2 1833.7,458.9 1825.9,458.3 1821.2,458 1813.1,460 1807.2,458.4 1799.5,458.8 1791.9,459.9 1783,458.6 1775.6,458.7 1767.5,458.4 1760.8,459 1752.6,459.3 1747.4,459.2 1738.9,459.4 1732.3,457.9 1725.9,457.3 1720.3,457.4 1713.9,459.1 1709.8,458.5 1704.9,457.7 1701,458.1Z" fill="#16d5ce"/>
<path d="M1620.2,442.9 1611.9,441.7 1605.7,444 1597.8,448.3 1592.4,451.5 1586.3,458.4 1583.8,463.9 1578.7,469.1 1575.8,476.6 1571.8,480.9 1568,486.9 1564.9,489.7 1558.4,496.3 1554.9,501.3 1548.7,509 1545.2,515.4 1542.2,522.1 1537.9,527.1 1534.4,532.9 1532.2,540.2 1528.5,546.1 1527.1,550.8 1525.1,556.1 1526.8,565.5 1527.5,573.1 1531.9,579.5 1535.6,585 1539.5,591.8 1541.9,599 1548.3,605.2 1555.8,606.7 1562.1,605.3 1570.8,606.7 1575.6,607.4 1581.6,611.9 1584.7,618.4 1586.1,625.1 1588.7,634.6 1589,642.9 1592.1,649.6 1597.3,656.5 1604.8,659.6 1611.6,659 1621.3,658.9 1620.2,655.6 1621.8,653.3 1621.7,649.4 1622,643.2 1621,639.2 1620.4,633.6 1620.6,626.6 1621.7,620.8 1622.7,616.3 1621.7,608.1 1620.9,602.1 1621.9,594.8 1622.4,588.1 1622.6,579.8 1620.9,573.1 1621.9,565.3 1622.4,557.7 1621.5,550.8 1622.5,544 1621.6,535.7 1623,529.4 1622.2,520 1621.8,514.1 1621.3,505.5 1623,500.6 1620.9,492.8 1622,485.9 1620.6,480.7 1622.2,473.9 1620.5,468.1 1620.4,464.1 1620.2,457.5 1621.9,452.6 1620.2,448.2 1620.2,445.6Z" fill="#169dd5"/>
<path d="M1532.8,624.5 1520.9,631 1512.7,629 1503.7,628.1 1498.9,634.6 1500.8,640.4 1508.9,645.1 1512.9,647.7 1518.9,648.3 1525,651.4 1531.3,651.5 1536.3,654.9 1542.4,655.8 1548.7,655.5 1558,657.1 1567.3,656.9 1575.6,659.1 1575.1,652.2 1572.6,641.6 1568.2,640.4 1562.9,637.7 1553.9,636.4 1549.3,634.8 1543.7,630 1537.7,627.9Z" fill="#169dd5"/>
<path d="M1620.3,497.5 1612,498.3 1605.8,498 1597.4,500 1589.6,499.8 1584.2,501 1575,504.9 1572,510.1 1569.9,515.9 1570.3,522 1573,530.9 1575.5,538.9 1571.3,546.4 1566.9,553.1 1562.6,560.9 1560.2,566.2 1561.8,573.3 1564.2,579 1565.1,585.1 1566.6,591.8 1567.5,598.6 1574.5,601.2 1582.6,600.9 1589.5,600.9 1597.8,601.3 1606.9,602.1 1611.3,602 1621.5,602.3 1621,599.2 1622.1,595.9 1621.1,589.7 1622.6,583.2 1622.7,577.1 1621.4,570.3 1622.1,561 1622.2,555 1622,546.5 1621.7,539.8 1622.3,530.7 1621.5,523.9 1622.8,518 1620.6,512.4 1620.2,506.2 1621,501.9Z" fill="#16bfd5"/>
<path d="M1620.7,448.1 1615.8,451.6 1609.3,451.6 1599.7,454.8 1593.6,458 1587.6,465.7 1582.8,471 1582.1,479.2 1586,487.9 1592.5,492.1 1599.6,493.7 1608.6,495.1 1614.9,496.4 1622.1,495.4 1621.9,489.9 1622.4,484.2 1622.2,477.1 1621.2,469 1620.7,459 1621.2,454.5Z" fill="#16d5ce"/>
<path d="M1621.9,453.6 1610.7,455.2 1605.8,456.9 1602.4,463.5 1601.7,469.9 1603.2,475.9 1607.5,481.5 1612.3,484 1619.7,486.3 1622.1,482.2 1621.4,473.3 1622.1,464.5 1621.9,458.6Z" fill="#16d5af"/>
<path d="M1961.8,445.9 1973.3,446.3 1977.7,446.5 1982.3,447.1 1990.4,445.7 1997.6,447.1 2002.8,446.7 2011.6,448.8 2016.6,449 2023.5,451.1 2027.1,451.4 2035.3,455.3 2037,462.5 2040.9,470.5 2040.4,479.2 2038.4,484.9 2036.1,491.4 2033.6,496.9 2033.4,505.8 2034.3,513.4 2036.5,517.1 2039.7,522.6 2040.4,528.5 2041.1,537.4 2038.6,543.1 2037.6,549.6 2039.9,557.7 2040.4,566.3 2040.5,572.8 2040.3,583.1 2041.7,590.6 2043.9,597.7 2038.6,602.7 2032.7,608.8 2028.1,614.4 2023.9,619.1 2023.2,626 2019.1,630.3 2014.2,635.8 2010.5,638.7 2005.3,642.4 2001.1,648.2 1993.8,650.1 1988.4,654 1981.5,658.2 1975.9,659.6 1968.9,673.9 1962.5,659.1 1962.1,656.4 1962.8,651.8 1961.7,647.8 1961.5,644.4 1961.8,637.7 1961.2,633.6 1960.7,627.4 1960.2,620.1 1960.2,615.2 1960.4,607.1 1960.1,600.3 1961.7,594.3 1962.1,587.6 1961.2,580.1 1960,572.6 1960.9,563.3 1961.6,557.2 1960.8,547.8 1962,541.7 1961.3,534.7 1960,525 1960.3,517.5 1961.7,511.7 1960.4,503.5 1960.6,497.7 1961.9,491.8 1961.2,485.4 1961.5,477.9 1961.2,471.7 1963,468 1962.5,461 1961.3,456.2 1961.9,453.3 1961.3,449Z" fill="#169dd5"/>
<path d="M1961.2,449.7 1967.5,451.5 1972.8,450.9 1980.2,451.5 1986.2,451.4 1994.4,453.5 1999.4,454.4 2002.5,458.1 2005.5,465.6 2005.8,472 2007.2,480.2 2004.1,489.1 2006.9,494.9 2008.9,500.9 2006.7,509 2006.4,516.8 2009,523.5 2010.1,530.6 2007.1,535.2 2000,537.8 1994.5,540.2 1986.8,545.1 1982.5,550.3 1980.4,558.1 1981.3,564.9 1985.1,573.4 1987.5,583.1 1980.5,591.7 1973,597.2 1967.9,597.7 1961.9,596.9 1961.3,593.5 1960,589.4 1961.3,585.4 1960.9,579.6 1960.8,574.7 1959.2,568 1960.6,560.6 1960.4,553.8 1959.7,548.1 1961,540.8 1959.8,532.2 1960.7,525 1959.9,517.6 1959.7,510.2 1959.9,500.7 1960.7,493.5 1960.5,486.3 1961.3,480.8 1960.8,473.5 1960.7,468.2 1959.8,463.9 1959.4,458.3 1959.7,455.1Z" fill="#16bfd5"/>
<path d="M1961.8,473.6 1964.2,476.4 1970.4,478.8 1975.8,482.6 1980.3,487.2 1985.5,494.4 1987.4,505.5 1982.7,508.6 1977.2,512.3 1966.6,515.2 1961.8,515.1 1961.5,511.1 1961.4,504.2 1960.6,495.2 1961.2,486.6 1959.6,480.6Z" fill="#16d5ce"/>
<rect x="1378.8" y="18.0" width="822.3" height="661.0" filter="url(#mod)"/>
<rect x="1378.8" y="18.0" width="822.3" height="661.0" filter="url(#mot)"/>
<rect x="1378.8" y="18.0" width="822.3" height="661.0" fill="url(#sp)"/>
<path d="M1612,433.9 1615,434.1 1618,434 1621.1,435 1624.1,434.6 1627.1,433.9 1630.1,433.6 1633.1,433.7 1636.1,435.2 1639.2,434.1 1642.2,434.4 1645.2,434.7 1648.2,435.2 1651.2,435.2 1654.2,434.6 1657.3,434.5 1660.3,435 1663.3,434.8 1666.3,434.4 1669.3,434 1672.3,434.3 1675.4,435.2 1678.4,433.7 1681.4,434.8 1684.4,433.6 1687.4,433.5 1690.4,435.2 1693.5,434.3 1696.5,433.6 1699.5,434.7 1702.5,434.4 1705.5,434.9 1708.5,435.4 1711.6,435.1 1714.6,435.3 1717.6,434.9 1720.6,434.2 1723.6,434.4 1726.6,433.6 1729.7,434.1 1732.7,434.8 1735.7,433.6 1738.7,434.2 1741.7,434.4 1744.7,433.8 1747.8,434.2 1750.8,434.8 1753.8,434.3 1756.8,434.9 1759.8,433.6 1762.8,435 1765.9,433.6 1768.9,435.4 1771.9,435.5 1774.9,434.4 1777.9,435.1 1780.9,434.5 1784,435.3 1787,433.8 1790,434.2 1793,434.1 1796,433.6 1799,433.5 1802.1,434.1 1805.1,434.1 1808.1,435.5 1811.1,435.4 1814.1,434.6 1817.1,433.6 1820.2,434.9 1823.2,434.4 1826.2,435.5 1829.2,434.7 1832.2,433.7 1835.2,434.3 1838.3,433.9 1841.3,435.5 1844.3,435.1 1847.3,435.1 1850.3,433.8 1853.3,435.3 1856.4,433.6 1859.4,435 1862.4,433.7 1865.4,434.5 1868.4,434.9 1871.4,433.6 1874.5,434.7 1877.5,434.1 1880.5,435.4 1883.5,433.8 1886.5,433.5 1889.5,435.3 1892.6,434 1895.6,435 1898.6,435.2 1901.6,434.8 1904.6,434.2 1907.6,433.6 1910.7,433.5 1913.7,433.5 1916.7,434.3 1919.7,434.2 1922.7,435.2 1925.7,434 1928.8,434.4 1931.8,434.8 1934.8,433.7 1937.8,435 1940.8,435.2 1943.8,435.2 1946.9,435.2 1949.9,434.3 1952.9,433.9 1955.9,435.2 1958.9,434.5 1961.9,434.4 1965,434.4 1968,434.7 1971.1,434.5 1970,437.5 1970.1,440.5 1970.8,443.5 1970.5,446.6 1971.5,449.6 1970.5,452.6 1971.6,455.6 1970.5,458.6 1970.2,461.6 1971,464.6 1970.8,467.6 1970.7,470.6 1971.5,473.7 1970.4,476.7 1971.3,479.7 1971.7,482.7 1970.9,485.7 1971,488.7 1971.8,491.7 1971.2,494.8 1970.4,497.8 1970.1,500.8 1970.2,503.8 1970.7,506.8 1970.2,509.8 1971.3,512.8 1970.8,515.8 1970.6,518.9 1971,521.9 1971.9,524.9 1970.5,527.9 1970.3,530.9 1970.6,533.9 1970.6,536.9 1971.8,539.9 1971.4,543 1970.9,546 1970.3,549 1970.1,552 1970.2,555 1971.7,558 1971.3,561 1970.3,564 1971.3,567 1970.1,570.1 1971,573.1 1970.7,576.1 1970.2,579.1 1971.5,582.1 1971.4,585.1 1971,588.1 1970.3,591.1 1971.3,594.2 1970.9,597.2 1971.3,600.2 1970.2,603.2 1971.8,606.2 1970,609.2 1970.4,612.2 1970.8,615.2 1970.4,618.3 1970.2,621.3 1971.4,624.3 1972,627.3 1970.7,630.3 1970.5,633.3 1971.3,636.3 1970.4,639.4 1970.8,642.4 1971.4,645.4 1970.9,648.4 1970.3,651.4 1970.1,654.4 1971.1,657.4 1972,660.4 1971.8,663.5 1970.2,666.5 1971,669.5 1971,672.5 1971,674.9 1968,675.8 1965,675.5 1961.9,676.1 1958.9,675.1 1955.9,676.4 1952.9,676.1 1949.9,675.4 1946.9,674.8 1943.8,675.5 1940.8,674.8 1937.8,675.9 1934.8,675.9 1931.8,675.7 1928.8,676.5 1925.7,674.6 1922.7,675.9 1919.7,676.1 1916.7,674.7 1913.7,675.1 1910.7,674.6 1907.6,675.7 1904.6,675.9 1901.6,675.2 1898.6,675.9 1895.6,675.2 1892.6,675.9 1889.5,675.1 1886.5,676.5 1883.5,675.4 1880.5,674.5 1877.5,674.7 1874.5,676 1871.4,676.2 1868.4,675.8 1865.4,674.8 1862.4,676.2 1859.4,675.9 1856.4,674.7 1853.3,675.3 1850.3,675.8 1847.3,674.5 1844.3,674.6 1841.3,675.2 1838.3,676.2 1835.2,676.5 1832.2,675.1 1829.2,676.3 1826.2,676.1 1823.2,676.2 1820.2,675.7 1817.1,676.4 1814.1,675.8 1811.1,676.4 1808.1,675.6 1805.1,674.9 1802.1,675.5 1799,675.5 1796,675.2 1793,675.2 1790,675.5 1787,675.7 1784,674.9 1780.9,675.1 1777.9,675.5 1774.9,675.5 1771.9,675.3 1768.9,675.8 1765.9,674.9 1762.8,675.6 1759.8,675.1 1756.8,676 1753.8,675.9 1750.8,676.1 1747.8,675.5 1744.7,675 1741.7,676.4 1738.7,675.5 1735.7,675.3 1732.7,675.1 1729.7,675.3 1726.6,675.9 1723.6,676.1 1720.6,675.5 1717.6,676 1714.6,674.9 1711.6,675.4 1708.5,675.2 1705.5,675.1 1702.5,675.2 1699.5,676 1696.5,676 1693.5,674.9 1690.4,675 1687.4,676.1 1684.4,675.8 1681.4,675.9 1678.4,675.8 1675.4,675.9 1672.3,675 1669.3,674.6 1666.3,675.2 1663.3,674.6 1660.3,676.4 1657.3,675.5 1654.2,675.8 1651.2,676.4 1648.2,676.1 1645.2,675 1642.2,675.2 1639.2,674.7 1636.1,676.1 1633.1,676 1630.1,675.5 1627.1,675.2 1624.1,675 1621.1,675.5 1618,675.9 1615,676.3 1611.3,675.5 1611.3,672.5 1612.1,669.5 1612.2,666.5 1612.4,663.5 1611.1,660.4 1612.6,657.4 1612.7,654.4 1612.4,651.4 1611.2,648.4 1611.3,645.4 1612.3,642.4 1611.3,639.4 1611.2,636.3 1612.1,633.3 1612.6,630.3 1611.5,627.3 1612.3,624.3 1612.8,621.3 1611.2,618.3 1612.1,615.2 1612.2,612.2 1611.8,609.2 1612.5,606.2 1613,603.2 1612.2,600.2 1612.2,597.2 1613,594.2 1612.3,591.1 1611.5,588.1 1612.3,585.1 1611.6,582.1 1611.8,579.1 1612.6,576.1 1613,573.1 1611.7,570.1 1611.8,567 1612.4,564 1612.6,561 1611.3,558 1611.2,555 1612.5,552 1611.8,549 1611.9,546 1612.4,543 1612.9,539.9 1612.3,536.9 1611.7,533.9 1611.8,530.9 1612,527.9 1612.8,524.9 1612.6,521.9 1612.4,518.9 1612.2,515.8 1612.3,512.8 1611.2,509.8 1612.8,506.8 1611,503.8 1612.5,500.8 1611.3,497.8 1612.5,494.8 1611.8,491.7 1612.2,488.7 1612.9,485.7 1611.4,482.7 1611.4,479.7 1612.5,476.7 1611.4,473.7 1612,470.6 1611,467.6 1612.9,464.6 1612.2,461.6 1612.5,458.6 1611.8,455.6 1611.4,452.6 1611.3,449.6 1611.9,446.6 1612.2,443.5 1611.4,440.5 1612.8,437.5Z" fill="#fff"/>
<circle cx="1780.2" cy="446.5" r="1.3" fill="#a0c828"/>
<circle cx="1762.5" cy="451.0" r="1.1" fill="#e02818"/>
<circle cx="1844.0" cy="447.0" r="1.2" fill="#c8b020"/>
<circle cx="1690.3" cy="446.1" r="1.5" fill="#d08020"/>
<circle cx="1720.8" cy="449.8" r="0.8" fill="#e03020"/>
<circle cx="1727.9" cy="444.7" r="1.4" fill="#e02818"/>
<circle cx="1766.9" cy="449.0" r="0.8" fill="#c8c020"/>
<circle cx="1845.7" cy="446.6" r="1.0" fill="#60c830"/>
<circle cx="1869.9" cy="439.5" r="1.1" fill="#a0c828"/>
<circle cx="1792.5" cy="449.5" r="1.2" fill="#e02818"/>
<circle cx="1858.3" cy="445.2" r="1.2" fill="#c8c020"/>
<circle cx="1766.1" cy="443.4" r="1.2" fill="#60c830"/>
<circle cx="1805.8" cy="445.0" r="1.2" fill="#c8c020"/>
<circle cx="1873.8" cy="450.7" r="1.3" fill="#d08020"/>
<circle cx="1868.8" cy="449.3" r="1.1" fill="#d08020"/>
<circle cx="1711.6" cy="441.1" r="1.1" fill="#c8b020"/>
<circle cx="1798.9" cy="447.9" r="0.9" fill="#60c830"/>
<circle cx="1846.3" cy="443.6" r="1.2" fill="#a0c828"/>
<circle cx="1818.4" cy="438.6" r="0.9" fill="#c8b020"/>
<circle cx="1709.5" cy="445.1" r="0.9" fill="#e02818"/>
<circle cx="1742.0" cy="443.6" r="1.1" fill="#c8b020"/>
<circle cx="1811.0" cy="438.7" r="1.1" fill="#a0c828"/>
<circle cx="1754.5" cy="443.9" r="1.3" fill="#e03020"/>
<circle cx="1781.4" cy="450.4" r="0.9" fill="#c8b020"/>
<circle cx="1759.2" cy="440.5" r="1.3" fill="#c8b020"/>
<circle cx="1691.3" cy="441.5" r="1.3" fill="#d08020"/>
<circle cx="1724.1" cy="448.3" r="1.2" fill="#a0c828"/>
<circle cx="1807.6" cy="450.8" r="1.5" fill="#c8b020"/>
<circle cx="1719.4" cy="450.1" r="1.4" fill="#e02818"/>
<circle cx="1848.1" cy="446.3" r="1.0" fill="#c8b020"/>
<circle cx="1618.0" cy="586.7" r="1.0" fill="#e02818"/>
<circle cx="1621.6" cy="617.1" r="0.9" fill="#d08020"/>
<circle cx="1618.9" cy="553.4" r="1.0" fill="#e03020"/>
<circle cx="1618.1" cy="602.2" r="1.3" fill="#a0c828"/>
<circle cx="1619.9" cy="589.1" r="0.8" fill="#c8c020"/>
<circle cx="1619.6" cy="559.9" r="1.4" fill="#60c830"/>
<circle cx="1615.1" cy="565.0" r="1.1" fill="#c8c020"/>
<circle cx="1618.5" cy="596.9" r="1.4" fill="#d08020"/>
<circle cx="1620.1" cy="581.3" r="1.2" fill="#60c830"/>
<circle cx="1620.3" cy="593.5" r="1.0" fill="#d08020"/>
<circle cx="1619.1" cy="578.9" r="0.9" fill="#e02818"/>
<circle cx="1619.7" cy="617.8" r="1.4" fill="#c8c020"/>
<circle cx="1621.3" cy="590.1" r="1.4" fill="#60c830"/>
<circle cx="1620.3" cy="603.3" r="0.9" fill="#d08020"/>
<circle cx="1967.3" cy="610.9" r="1.2" fill="#c8b020"/>
<circle cx="1964.1" cy="520.3" r="1.2" fill="#e02818"/>
<circle cx="1961.9" cy="526.7" r="1.1" fill="#d08020"/>
<circle cx="1958.8" cy="543.2" r="1.3" fill="#e02818"/>
<circle cx="1961.1" cy="612.2" r="1.3" fill="#e02818"/>
<circle cx="1964.4" cy="562.8" r="0.9" fill="#a0c828"/>
<circle cx="1962.9" cy="564.3" r="0.9" fill="#e02818"/>
<circle cx="1963.9" cy="566.8" r="1.4" fill="#c8c020"/>
<circle cx="1967.4" cy="481.5" r="1.1" fill="#d08020"/>
<circle cx="1966.5" cy="610.8" r="1.0" fill="#c8b020"/>
<circle cx="1967.2" cy="575.2" r="1.3" fill="#a0c828"/>
<circle cx="1963.0" cy="553.9" r="1.2" fill="#e02818"/>
<circle cx="1960.5" cy="567.3" r="1.4" fill="#e03020"/>
<circle cx="1965.7" cy="557.4" r="1.3" fill="#e03020"/>
<circle cx="1962.0" cy="607.9" r="1.3" fill="#c8c020"/>
<circle cx="1963.5" cy="609.3" r="1.0" fill="#e02818"/>
<circle cx="1958.2" cy="627.3" r="1.4" fill="#e02818"/>
<circle cx="1961.1" cy="505.8" r="1.0" fill="#c8b020"/>
<circle cx="1959.3" cy="574.0" r="1.1" fill="#d08020"/>
<circle cx="1960.9" cy="657.9" r="1.2" fill="#60c830"/>
</g>
<path d="M1733.6,46.5L1733.6,435.0M1856.2,46.5L1856.2,435.0M1641.7,286.0L1641.7,435.0M1702.6,286.0L1702.6,435.0M1764.2,286.0L1764.2,435.0M1825.1,286.0L1825.1,435.0M1886.5,286.0L1886.5,435.0M1948.4,286.0L1948.4,435.0M1460.0,499.5L1613.0,499.5M1460.0,551.7L1613.0,551.7M1460.0,604.2L1613.0,604.2M1460.0,656.9L1613.0,656.9M1970.0,446.9L2123.0,446.9M1970.0,499.5L2123.0,499.5M1970.0,551.7L2123.0,551.7M1970.0,604.2L2123.0,604.2M1970.0,656.9L2123.0,656.9" stroke="#0a0a0a" stroke-width="2.6" fill="none" stroke-linecap="butt"/>
<path d="M1460,446.6 1590,447.4 1601,447.2 1607,446 1612,443" stroke="#0a0a0a" stroke-width="2.6" fill="none"/>
<rect x="1224.0" y="70.3" width="22.4" height="49.3" fill="#ff0000"/>
<rect x="1224.0" y="119.1" width="22.4" height="33.3" fill="#ff4400"/>
<rect x="1224.0" y="151.9" width="22.4" height="33.3" fill="#ff8800"/>
<rect x="1224.0" y="184.6" width="22.4" height="33.3" fill="#ffcc00"/>
<rect x="1224.0" y="217.4" width="22.4" height="33.3" fill="#eeff00"/>
<rect x="1224.0" y="250.2" width="22.4" height="33.3" fill="#aaff00"/>
<rect x="1224.0" y="283.0" width="22.4" height="33.3" fill="#66ff00"/>
<rect x="1224.0" y="315.7" width="22.4" height="33.3" fill="#22ff00"/>
<rect x="1224.0" y="348.5" width="22.4" height="33.3" fill="#00ff22"/>
<rect x="1224.0" y="381.3" width="22.4" height="33.3" fill="#00ff66"/>
<rect x="1224.0" y="414.0" width="22.4" height="33.3" fill="#00ffaa"/>
<rect x="1224.0" y="446.8" width="22.4" height="33.3" fill="#00ffee"/>
<rect x="1224.0" y="479.6" width="22.4" height="33.3" fill="#00ccff"/>
<rect x="1224.0" y="512.3" width="22.4" height="33.3" fill="#0088ff"/>
<rect x="1224.0" y="545.1" width="22.4" height="33.3" fill="#0044ff"/>
<rect x="1224.0" y="577.9" width="22.4" height="49.3" fill="#0000ff"/>
<text class="lab" x="1303.5" y="96.3">398.54</text>
<text class="lab" x="1303.5" y="131.3">375.89</text>
<text class="lab" x="1303.5" y="166.3">325.00</text>
<text class="lab" x="1303.5" y="201.2">300.00</text>
<text class="lab" x="1303.5" y="236.2">275.00</text>
<text class="lab" x="1303.5" y="271.2">250.00</text>
<text class="lab" x="1303.5" y="306.2">225.00</text>
<text class="lab" x="1303.5" y="341.2">200.00</text>
<text class="lab" x="1303.5" y="376.1">175.00</text>
<text class="lab" x="1303.5" y="411.1">150.00</text>
<text class="lab" x="1303.5" y="446.1">125.00</text>
<text class="lab" x="1303.5" y="481.1">100.00</text>
<text class="lab" x="1303.5" y="516.1">75.00</text>
<text class="lab" x="1303.5" y="551.0">50.00</text>
<text class="lab" x="1303.5" y="586.0">25.00</text>
<text class="lab" x="1303.5" y="621.0">0.000</text>
<text class="ttl" transform="translate(1196.4,340.0) rotate(-90)">displacement/mm</text>
<text class="cap" x="1676.0" y="743.5">(<tspan class="b" dx="-0.35">b</tspan><tspan dx="-0.35">)</tspan></text>
<g clip-path="url(#c2)">
<rect x="239.1" y="761.3" width="821.0" height="660.8" fill="#1672d5"/>
<path d="M483.8,1179.2 474,1184.9 468.7,1184.8 463.4,1185 456.8,1186.6 450.8,1188.8 444.5,1189.8 438.7,1191.5 433.1,1191.4 425.3,1192.7 418.3,1193.9 411.7,1194.5 406.4,1194.3 402.5,1196.7 396.9,1200.1 395.3,1206.8 391.6,1214 392.1,1219.3 394.3,1227.5 399.2,1233.3 403.4,1239.9 400.3,1246.4 397,1254.7 391.9,1260.5 386.2,1266.8 381.1,1271.6 376.3,1276.7 372.4,1281.8 372.8,1289.9 371.9,1296.7 373.5,1301.8 376.6,1309.2 381.3,1314.3 382.1,1318.9 377.4,1322.6 369.3,1325.1 363.9,1329.2 363.3,1335.6 363.6,1341.8 366.4,1349.7 367.3,1356.8 366.5,1360.2 360.1,1364.1 351.8,1363.3 345.5,1363.3 346.3,1371.1 351.3,1377.9 355.4,1380.9 361.6,1386.6 367.4,1388.2 374.8,1391 382.5,1394.3 385.8,1396.3 392.6,1397 399.4,1397 406.2,1396.7 412.8,1397.5 417.1,1397.9 423.5,1397.7 430.8,1398.4 436.5,1399.6 443.8,1402 452.3,1402.7 459.2,1402.5 465,1402.9 470.7,1404.8 474.7,1403.8 483.4,1405.5 484.7,1401.4 485.5,1396.6 485.3,1393.1 485.6,1388.5 484.3,1384.6 484.6,1378.7 486,1371.8 485.7,1366.2 484.7,1359.4 486.5,1353.2 485.5,1346.7 484.4,1340.3 486.2,1333.5 485.3,1324.5 485.3,1318.4 486,1310 485.7,1301.8 486.7,1295 485.7,1288.1 485,1280.3 485.3,1272.9 484.7,1264.1 485.9,1257.2 485.3,1250.1 484.9,1242.6 484.3,1236.5 484.8,1229.8 485.5,1222.8 485.6,1215.3 485.9,1209.7 486,1205.3 485.4,1200 484.7,1194.7 485.9,1188.9 483.7,1185.3 484.6,1181Z" fill="#167bd5"/>
<path d="M821.9,1182.1 830,1184.2 833.1,1185.4 837.4,1185.3 843.2,1185.3 848.7,1186.3 853.6,1186.6 860.5,1184.5 868.7,1185.8 875.3,1184.9 883.3,1185.1 890.7,1185 898,1186.1 905.1,1185.7 912,1186.3 921,1185.3 928,1186.9 934,1187.5 942.5,1186 947.4,1186.5 953.3,1187.1 959.2,1188.1 963.5,1189.4 967.7,1191.1 971.9,1190.5 977.8,1194.8 980.6,1201.2 980.7,1210 978.4,1216.1 972,1224.6 968.9,1231.3 966,1234.6 959,1240.5 952,1240 945.6,1246 945,1249.8 942.2,1255.3 942.8,1261.8 941.5,1269.2 940.4,1276.5 939.7,1283.7 941.2,1289.5 940.3,1297.6 943,1301.8 944.6,1309.2 948.1,1314.4 949.3,1319.5 953.1,1326.1 953.2,1331.8 953.8,1338.1 950.8,1342.4 949.3,1348 946.5,1352.4 943.9,1358.4 940.5,1364.1 935.9,1370.8 930.8,1376 926.6,1381.5 922.6,1385.6 919.8,1388.3 914.5,1393.9 908.9,1397 903.3,1400.7 898.6,1403.8 892.1,1406.1 888.8,1409 884.5,1413 881.8,1419.8 882.8,1424.7 877.9,1430 875.6,1431.6 868.7,1436.8 861.4,1439.9 854.4,1444.9 847.6,1449.2 838.4,1449.4 832.1,1446.1 826.5,1442.2 822.1,1430.4 822.4,1425.8 822.3,1422.3 820.3,1419.6 819.1,1414.4 818.9,1409.8 818.3,1403.8 818.5,1398.2 817.9,1392.7 818.7,1386.5 819.2,1380.9 817.7,1373.9 819,1366.8 818.7,1360 819.1,1353.6 818.3,1347.5 817.1,1338.3 818.6,1332.1 818.7,1323.8 818.3,1316.1 818.3,1308.7 818.8,1301.1 818.2,1294.4 818,1287.2 819.1,1278.3 818.4,1271.6 819.6,1264.8 819.5,1256.8 821,1249.4 821.4,1244 821.7,1237.4 820.1,1230.6 821.2,1222.9 822.4,1217.9 822.1,1212 820.6,1207.3 821,1200.7 822.3,1195.8 822.1,1192.6 821.3,1188.4 821.5,1184.3Z" fill="#167bd5"/>
<path d="M230.7,1045.6 231.9,1020.8 237.9,1043.4 240.4,1065.4 244.4,1072.9 247.6,1078.7 251,1086.2 253.1,1093.3 258.2,1099.4 261.6,1105.2 264.5,1111.2 267.5,1118.9 271.1,1125.7 274.2,1130.7 277.2,1137.5 279.3,1143.2 283.6,1150.1 287,1155.3 288.5,1159.8 292.8,1165.8 295.5,1171.4 298.3,1178.7 301.5,1184.6 305.4,1191.6 308.6,1197 312.2,1203.1 315.7,1210.9 318.1,1219 322.4,1223.6 327.2,1230.4 329,1235.9 332,1243.3 336.7,1248.1 339.4,1252.6 344.4,1257.9 348.3,1267.1 350,1274.4 355.1,1279.4 361.9,1284.3 364.2,1290.7 365.5,1296.8 367.9,1304.3 370.7,1312.6 379,1318.7 384.6,1322.6 375,1325.7 363.9,1327.1 363.8,1334.1 362.8,1342.5 367.3,1352.1 369.3,1358.7 362.3,1366.6 353.1,1363.2 346.4,1360.4 342.3,1371.4 347.8,1375.6 353.9,1382.3 357.7,1384 364.6,1388 372.5,1392.8 377.1,1394.6 383.8,1395.2 391.3,1397.1 396.1,1399.2 401.9,1400.2 409.2,1402.1 415.7,1402.3 422.9,1402 427.3,1401.4 436.6,1400.7 444.7,1399.5 450.6,1399.6 459.4,1403 463.5,1408.4 468.8,1413.4 474,1420.7 491.2,1429.3 476.2,1435.5 472.3,1434.4 468.2,1435.5 464.6,1435.7 459.9,1437.4 454.9,1438.5 448.7,1440.4 444.8,1441.4 437.3,1442.7 433,1445.1 426.3,1444.4 420,1447.5 411.7,1449.7 406,1451.3 397.5,1452.1 390.5,1453.1 384,1455.4 375.4,1456.7 369.3,1458.2 361.6,1459.6 354.1,1459.5 345.2,1461.9 338.2,1463.8 330.3,1463.4 322.8,1464.2 315.6,1465.6 306.6,1464.3 301.5,1463.7 294.3,1463.3 287.1,1464.6 279.5,1462.8 273.1,1462.4 267.6,1460.7 261.3,1458.9 257.2,1457.2 252,1453.4 246,1450.9 241.1,1448.6 236.5,1444.2 234.2,1441 229.1,1434.7 228.5,1433.2 225.9,1429.5 224.9,1425.2 224.7,1420.1 221.8,1416.1 220.1,1412 220.2,1408.1 217.7,1403.7 217.6,1397.1 217.5,1393.4 215.2,1388.2 215.9,1380.8 213.3,1376.5 214.6,1368.7 214,1364.1 213.2,1357.9 213.7,1350.3 213.1,1345.1 211.6,1337.8 212.3,1331.4 212,1323.1 211.2,1316.7 210.9,1310.3 212.8,1301.6 212.5,1295.4 211.3,1288.3 213,1279.7 211.7,1272.2 213.6,1265.2 214.1,1256.9 212.8,1249.9 215,1241.9 213.5,1235.8 214.1,1228 214.6,1219.5 216.5,1213.5 216.4,1205 216.1,1197.3 217.2,1191 218.9,1183.7 219.1,1176.3 218.7,1168.4 219.8,1161 221.5,1153.9 221.1,1147.2 223,1141.2 222.7,1134 224.4,1128.8 223.9,1121.5 225.4,1114.5 224.6,1108.1 225.7,1103.8 225.4,1097.2 228,1091.8 227,1087.3 228.7,1081 227.3,1076.6 229.2,1072.6 229.3,1066.6 229.3,1062.2 229.5,1058.6 230.8,1055.9 231.1,1051.3 231.3,1047.3Z" fill="#1616d5"/>
<path d="M1070,1030.1 1067.6,1004 1064.7,1024.5 1060.8,1048.5 1056.9,1053.8 1053.6,1059.4 1051.2,1064.5 1047.7,1071.5 1046.3,1076.1 1044.3,1082.8 1040.4,1089.8 1038.3,1097.4 1036.6,1103.2 1032.7,1108.4 1029.4,1115.8 1028.1,1122 1026.5,1128.3 1022.5,1134.8 1019.6,1142.4 1017.8,1147.9 1014.4,1153.9 1010.9,1161.3 1007.9,1168.9 1004.9,1172.8 999.4,1178.9 995.8,1185.6 992.9,1188.2 985.9,1191 979.2,1194.1 975,1198.7 974,1207.6 971.1,1215.5 970.7,1221.3 967.6,1229.1 966.6,1234.4 960.4,1238.8 954.5,1242.1 951.2,1244.8 948.3,1250.8 946.3,1257.9 946.5,1265.8 944.4,1272.4 942.7,1279.8 941,1286.1 940.2,1292.7 941.2,1300.9 940.7,1307.3 941.6,1314.6 945.1,1323.2 948.4,1327.3 954.8,1333.3 956.5,1337.3 953.6,1343.3 949.6,1348.4 945.4,1353.8 941.8,1359.7 938.4,1364.7 934.1,1369.9 929.8,1376.2 925,1383.2 920.7,1388.6 914.7,1393.4 910.1,1396.6 904.5,1397.9 900.2,1401.2 893.5,1403.8 887.6,1408.3 884.8,1412.5 874.7,1420.3 867.3,1428.1 880.4,1435.5 884.1,1435.1 886.9,1436.3 890.8,1437.5 897.1,1439.5 901.1,1441.6 906.6,1443.5 912.7,1443.9 919.4,1447 926.1,1450 934.6,1450.8 941.3,1453.9 948.1,1455 956.5,1458.7 961.8,1459.1 970.1,1460.5 978,1463.8 984.6,1464.9 992.9,1464 1001.7,1465.3 1007.4,1465.2 1014.9,1465.2 1021.4,1465 1029.1,1464.5 1034.8,1463.2 1042.1,1461.7 1046.7,1459.5 1053.1,1455.4 1057.3,1451 1060.8,1447.7 1065.9,1440.5 1070,1436.2 1069.2,1432.6 1071,1428.8 1073.6,1424.6 1073.9,1421.5 1074.3,1417.2 1075.8,1413.6 1076.1,1408.3 1076.6,1402.4 1077.6,1397.1 1079.3,1391.9 1080.6,1386.2 1080.7,1382.4 1080.1,1375 1082.1,1369.7 1082.9,1363.2 1081.9,1358.4 1082.1,1352 1083.7,1343.6 1083,1338.6 1082.2,1331.6 1083.8,1324.4 1083.5,1315.9 1084.4,1308.7 1083.9,1303 1082.7,1295.6 1082.8,1288.5 1081.8,1281.5 1082.5,1273.7 1082.5,1266.2 1081.8,1258 1080.9,1250.3 1080.8,1243.6 1081.9,1235 1082.3,1228.7 1081.9,1219 1080.9,1213 1080.3,1203.7 1080.6,1197.2 1079.4,1190.6 1078.2,1181.3 1079.3,1174.5 1076.7,1166.8 1078.6,1161 1076.2,1152.4 1077.4,1146.6 1076.2,1138.3 1075.3,1133.4 1073.8,1125.4 1073.5,1120.2 1073.2,1113.5 1074.5,1106.6 1072.1,1100.3 1072.8,1093.8 1071.5,1087.9 1072.7,1081.3 1072.5,1076.4 1070.7,1070.6 1070.8,1066.4 1070.7,1062 1070.3,1056.4 1071.1,1051.1 1068.6,1047.1 1069,1042.5 1069.1,1038.5 1070.2,1036 1069.9,1033.2Z" fill="#1616d5"/>
<path d="M470.6,1415.1 473,1414.6 476.9,1413.9 482.6,1414.3 486.9,1413.2 494.3,1414.4 500.8,1412.9 505.5,1413.1 513.4,1414.9 520.1,1415.3 526.8,1415.1 534.7,1415.6 541,1415.7 547.3,1416.3 554,1415 559.8,1415.8 565.9,1416.2 571.9,1415.8 578.3,1415.8 585.9,1415.2 589.9,1416.7 597.1,1416 603.8,1415.8 609.2,1415 616.9,1417.2 621.6,1416 627.6,1415.1 634.7,1416.9 638.8,1415.5 645.3,1416.7 649.9,1415.7 657,1416.6 666,1416.4 671.6,1415.4 680.9,1415.3 686.4,1413.6 691.8,1414.7 697.7,1414.7 704.3,1414 709.3,1415.4 712.3,1414 732.5,1423.2 713.4,1433 711.4,1431.3 706.5,1432 703.4,1432.2 698.6,1433.5 693.3,1433.4 688.6,1434.1 684.6,1432.8 678.1,1432.4 671.7,1433.8 666,1433.2 658.2,1432.8 652.8,1433 645.4,1434.1 639.8,1434 631.1,1434.2 623.9,1434.7 616.3,1433.5 609.6,1435.1 601.5,1433.4 593.9,1433.5 586.8,1433.9 580.4,1433.9 572.2,1433.9 565.5,1435.1 557.3,1435.1 549.7,1435.2 543.2,1434.4 535.9,1433.3 528.5,1434.7 522.4,1434.2 516.2,1433.7 509.4,1432.7 503.7,1433.8 498.5,1432 493.5,1432.9 486.9,1432.4 482.5,1433.5 478.9,1432.2 474.2,1431.9 470.7,1431.8 468.7,1432.7 448.5,1424.1Z" fill="#1616d5"/>
<path d="M712.4,1415.1 717.3,1412.3 725.4,1412.1 732.9,1411 737.8,1409.9 745.8,1411.4 749.6,1412.4 754.2,1418.6 755.8,1425.7 752.4,1431.7 748.9,1432.6 741,1433.1 735.5,1435.3 727.6,1434.5 719.6,1433.2 713.1,1434.2 708.9,1432.3 707.1,1423.5Z" fill="#16bfd5"/>
<path d="M462.3,1201 434.3,1193.9 451.2,1187.6 467.5,1179.2 471.3,1173 473,1167.6 477.5,1162.4 481.6,1157.1 486.7,1150.6 488.9,1145.8 493.4,1140.1 498.2,1136.6 503.2,1129.1 503.1,1125.4 504.7,1117.2 504.9,1111.7 504.4,1102.5 505.4,1094.6 504.5,1088.7 505.5,1082.7 505.9,1077.5 506.7,1070.7 507.6,1063.4 506.8,1058.9 508.3,1052.4 508.1,1045.1 508.1,1038.9 506.2,1031.8 505.8,1026.9 505.9,1019.5 506,1012.4 506,1007.9 505.9,1001.9 504.6,994.1 505.5,988.6 504.5,981 503.9,975.4 504.7,968.7 504.7,961.2 505.5,956.2 507.2,949.6 508.3,942.7 510.8,937.3 512.6,930.6 514.5,926.4 518.2,919.5 519.5,912.5 524.6,905.6 527.4,900.7 530.1,895.1 534.4,888.7 538.6,884.1 544,876.6 549.9,873.3 555.1,868.7 560.6,862.8 563.8,859.4 571.7,856.1 577.6,855 583.2,852.2 591,850.6 596.6,847 602.6,845.5 610.7,842.9 615.5,842.4 622.5,842.4 628.7,842.9 635.4,842.4 642.2,844.7 648.6,847 653.8,848.5 662.2,848 669.2,847.3 674.6,849.3 682.4,849.8 689.5,852.4 693.9,854.1 699,858.4 704.7,861.7 710.1,865.4 716,870.8 721.1,873.8 726.1,877.5 732.1,881.1 740.4,882.2 747.1,881.8 751.6,884.6 756.2,888.9 762.1,895.1 766.1,899.3 768,903.5 772.1,908.6 776.6,914.4 780.4,920.1 784,926.1 787.6,933.6 790.5,939.9 792.7,946.6 794.2,954.5 797.8,961.7 799.8,969.9 801.1,976.5 801.4,982.1 802,990.6 804.5,994.6 803,1000.5 804.6,1006.7 804.7,1013.5 805.9,1021 806.1,1024.8 805.9,1032.2 807.1,1038.1 805.9,1043.9 807.6,1051.5 808.2,1056.1 807,1064.8 807.6,1071.1 807.1,1075.3 808.9,1082.6 808.2,1089.7 808.4,1097.9 809.5,1104.4 808.2,1110.4 808.2,1115 811.1,1119.4 812.3,1129.1 815.4,1134.9 820.4,1139 824.5,1144 828,1149.6 830.6,1154 836.2,1160.7 838.8,1167.4 843.3,1174.4 845.1,1179.5 861.6,1188.6 878.1,1195.2 850.8,1199.8 847,1201 842.7,1201.2 838.6,1200.5 836,1199.7 832.7,1200.6 826.5,1200.6 822.8,1200.8 816.5,1200.1 813.1,1200.3 806.7,1202.1 802.6,1202.3 795.2,1200.3 790.8,1201.9 783.8,1200.6 777.7,1201.2 771.7,1203 764.3,1200.9 758.8,1201.1 750.9,1201.9 745.9,1201.7 737.3,1202.1 729.8,1202 723.9,1201.9 716.9,1201.6 707.9,1202.7 701.3,1203.4 693.1,1203 686.9,1202.1 678.1,1202.7 672,1202.4 663.8,1202.9 656.5,1202.3 647.9,1202.4 641.2,1203.4 634.7,1202.6 625.6,1201.8 618.8,1203 610.4,1202.9 604.8,1202.1 597.4,1202.2 589.4,1203.2 581.2,1201.9 575.9,1201.2 567.3,1202.1 561.5,1202.4 555.2,1202.4 546.3,1200.9 539.9,1201.7 533.5,1201.9 528.7,1201 523.2,1201.4 517.6,1201.2 511.1,1201.5 504.7,1202 498.8,1200.6 494.4,1202 489.9,1199.9 484.8,1201.1 481.6,1199.8 477.3,1200.3 472.8,1200.3 468.9,1201.5 466.6,1201.2Z" fill="#169dd5"/>
<path d="M473.1,1200.5 446,1194 462.3,1188.4 477.8,1179.6 479.6,1176 483.7,1168.4 487,1163.5 490.3,1159.3 496,1153.3 497.4,1146.8 501.3,1141.9 506.6,1136.5 510,1129.4 511.3,1124 516.8,1119.1 519.1,1111.1 522.8,1104.6 524.6,1098.8 530.3,1093.7 534,1089.6 537.7,1086.2 544.6,1083.5 551.1,1079 553.9,1075 556,1069.8 561.2,1063.9 564.3,1059.4 570.6,1055.8 575.5,1052.5 581.9,1050.6 587.9,1051.2 595.5,1050.9 601.2,1049.5 608.9,1047.3 614.8,1045.2 620.7,1041 627.9,1037.4 633.9,1035.5 642.2,1032.4 647.6,1030.1 655.8,1027.8 661,1026.3 668.1,1024.7 674.2,1025.9 682,1026.4 687.5,1025.7 695,1026.4 701.2,1029 708.3,1031.5 715.2,1032.8 721.9,1035.6 728,1036.4 736.2,1040.7 740.8,1040.9 747.7,1043.8 754.1,1043.8 761.8,1045.3 768.1,1047.7 774.3,1048.8 780,1052 785.1,1055.5 789.7,1059.6 792.7,1066.5 797.7,1072.4 798.8,1079.4 802.8,1086 802.8,1093.4 805.9,1098.8 806.3,1107.6 806,1112.8 807.6,1119.8 807.9,1126.1 807.7,1131.3 807.6,1139.6 810.9,1146 810.9,1151.8 813.7,1157 816.7,1164.5 821.1,1170.3 822.7,1176.1 824.4,1180.2 841.2,1187.9 855.3,1194.4 830.7,1199.2 826,1199.6 823.8,1200.7 819.7,1201.3 816.3,1199.9 811.5,1200 806.2,1200.1 801,1200.7 797.9,1201.5 790.8,1200.6 786.5,1201.5 779.5,1200.5 774.9,1201.9 767.6,1202.4 761.8,1202 756.1,1201.5 750.5,1201.7 742.6,1202.1 736.7,1203.3 729.6,1202.3 722.4,1202.6 715.8,1203.4 708.1,1201.7 700.3,1202.2 692.1,1203.1 684.6,1202.9 677.7,1202.3 670.7,1203 663.8,1203.7 655.8,1201.9 647.9,1202.5 640.9,1202.4 631.9,1201.3 624.7,1202.5 616.8,1201.5 609.7,1201.4 601.6,1202.2 594.7,1202.3 587.8,1202 579.7,1201.1 573.7,1203.3 566.1,1201.8 559.3,1202.6 553,1202.7 545.3,1201 539.4,1201.5 533.6,1201.4 528.9,1201.5 522.1,1202.6 516.6,1201.6 511.5,1200.9 504.4,1202.3 500.5,1201.2 494.6,1201.5 490.8,1201.1 486.3,1201.6 482.5,1199.9 480,1199.7 475.1,1200.1Z" fill="#16bfd5"/>
<path d="M491.2,1199.1 466.1,1195.3 479.4,1186.8 495.7,1180.5 499.3,1174 504,1170 508.3,1164.9 511.6,1159.8 513.3,1153.4 517,1147.2 519.2,1143.4 522.6,1137.6 523.7,1130.9 526.8,1124.3 529.4,1121 534.8,1115.1 539.6,1111.2 545.9,1106.3 548.9,1103.4 555.7,1098.5 562.1,1097 570.2,1094.9 575.8,1092.5 582.7,1092 588.2,1091.5 596.1,1091 602.5,1089.1 607.5,1090.7 613.5,1092.4 621,1091.6 627.1,1094.1 634.5,1093.3 639.1,1093.6 646.7,1094.6 652.6,1093.6 661.2,1093.8 666.9,1096.2 673.9,1099.8 681,1101.8 687.6,1103.6 692.2,1104.7 699,1107.2 707.8,1109.6 713.9,1111.5 720,1115.1 725.7,1116.7 733.2,1117.3 740.8,1120.5 744.1,1122.1 748.9,1126.3 755.3,1132.1 761.1,1135.9 764.1,1139.4 770.6,1142.3 776.2,1146.3 779.1,1149.3 784.3,1154.6 790.8,1159.8 794.4,1162.2 801.1,1166.9 806.6,1174.5 811.6,1180.7 828,1187 841,1193.4 817.8,1200.3 815,1200.2 809.9,1199.7 807.4,1199.5 802,1200.1 799.3,1201 793.5,1202.1 789.1,1200.5 783.9,1202.1 778,1201.2 772.8,1202.7 767.1,1200.9 760.9,1201.3 754.4,1202.3 746.8,1201.9 740.9,1202.2 735.4,1202 728,1201.6 720.1,1202.2 713.6,1201.6 706.9,1202.3 698.6,1201.8 692.3,1203.4 685.1,1201.8 675.5,1202.8 667.8,1203.3 661.8,1202.1 653.6,1202.9 645.3,1202.2 639.2,1202.9 631.2,1201.5 622.8,1201.9 614.9,1202.8 608.8,1203.4 601.4,1203.3 593.9,1202.3 586.3,1202.1 580.9,1202.1 571.7,1201.7 565.4,1202.3 559.6,1201.9 554.1,1202.5 545.8,1200.6 541.2,1201.9 535.2,1201.5 528.1,1201.3 524.6,1201.5 517.5,1200.2 514.6,1201.1 508.1,1201.3 505.6,1201.6 500.8,1201.3 495.6,1200.3 493.9,1199.8Z" fill="#16d5ce"/>
<path d="M524.1,1200.9 505.1,1193.4 515.7,1187.2 531.1,1180.3 535.2,1173.7 539.8,1169.1 544.6,1164.2 549.7,1158.9 555,1155.4 561,1150.6 563.6,1147.1 569.8,1143.5 574.9,1137.7 580.5,1134.2 586.2,1131.2 591,1127 594.6,1123.6 600.5,1119.9 606.1,1116.8 613.8,1114.3 619.2,1112.5 627.2,1108 633.2,1106.5 639.4,1103.2 647.2,1099.2 655,1100.9 661.3,1100.8 667.1,1105.1 672.5,1107.9 678.5,1108.4 684.8,1109.7 689.5,1113.3 695.3,1115.6 700.4,1119.1 704.7,1122.6 709.5,1124.8 715.5,1128.8 723.5,1130.4 727.5,1133.3 733.6,1135.5 740.4,1137.8 746.4,1140.2 752.5,1144.4 758.1,1148.3 762.7,1149.8 768.6,1151.2 775.9,1155.4 781.7,1158.9 789.7,1162.1 794.7,1167.9 802.3,1173.3 806.9,1179.3 821,1186.5 833.8,1195.5 813.6,1199.5 809.3,1199.3 805.4,1199.4 801.8,1201.7 798.1,1200.5 792.3,1202 786.9,1201.9 783.6,1200.2 778.3,1201.8 771.2,1201.4 765.7,1201.7 760,1202.7 752.3,1200.7 746.7,1202.4 739.6,1201.1 731.2,1203.1 724.8,1202.2 719,1201.6 710.8,1201.3 703.2,1203 694.7,1203.1 689,1203.3 680.9,1203.6 673.1,1202.6 665.7,1203.2 657.6,1202.9 648.8,1202.1 641.6,1203.3 635.2,1201.9 628.2,1201.3 618.6,1201.9 611.4,1203.3 604.9,1201.9 599.1,1202.2 591.8,1201.9 584.7,1203 577.8,1201.9 572,1200.8 565.2,1201.6 561,1201.2 553.7,1202.3 548.7,1202 543.5,1201.3 539.2,1200.2 535.5,1201.2 531.6,1200.2 528,1200.3Z" fill="#16d5af"/>
<path d="M562,1201.1 544.6,1193.7 556.4,1186.7 568,1178.9 571,1171.9 576,1164.5 579.3,1159.6 584.8,1154.5 590.4,1149.8 595.5,1144.1 599.9,1139.4 605.5,1135.4 612.3,1131.2 619.1,1129.2 624.2,1126.4 630.4,1123.3 636,1119.4 639.2,1114.5 643.8,1110.7 650.2,1106.9 657.2,1109 663.3,1112.2 670.4,1114.9 676.8,1116.9 686.1,1119.7 690.1,1122.9 695.3,1129.5 699.7,1132.2 706.5,1134 712.8,1135 720.4,1137.5 728.8,1142 735.9,1146.1 741.5,1147.2 745.7,1153.1 753.4,1155.3 758.5,1156.7 763.8,1157.3 770.1,1159.5 775.8,1163.9 783.8,1167.4 789.5,1170.2 795.2,1173.8 800.2,1176.3 805.1,1179.6 815.8,1186.6 827.5,1195.2 809.3,1199.2 806.4,1201 802.6,1200.8 798.1,1199.7 795.3,1200.9 789.1,1201 786,1201 779.7,1201.2 773.8,1200.5 768.7,1201.9 761.2,1201.3 754.3,1203 749.2,1201.8 741.8,1202.3 733.8,1201.1 727.9,1201.5 720.2,1201.2 711.5,1201.6 705.5,1202.7 698.8,1202.9 690.1,1201.3 683.6,1202.5 675.8,1201.4 668.2,1202.4 659.2,1202.2 651.5,1202.6 644.5,1202.8 637.2,1202.7 631.3,1202.7 625.2,1201.6 617.9,1201.7 611.9,1202.6 605.3,1202 598.1,1202.5 594.1,1202.5 587.2,1202 582.9,1201.9 578.4,1200.8 573,1201.4 569.7,1200.6 566.6,1199.1Z" fill="#16d589"/>
<path d="M558.8,1199.9 554.8,1195.3 559.1,1187.6 564.3,1179.1 569.4,1174.4 574.8,1170.2 580.4,1169.5 586.9,1167.2 593.7,1166.1 600.5,1165.3 607.9,1168.6 614.9,1170.1 619.6,1171.5 625.1,1175.5 630.9,1180.9 633.4,1187.1 638.2,1194.3 633.4,1199.2 628.4,1200.8 624.4,1201.3 617.4,1202.8 610.8,1202 603,1202.4 596.6,1202.2 588.9,1202.4 580,1203.3 573.9,1202 569.6,1200.7 562.5,1200.1Z" fill="#16d555"/>
<path d="M483.6,1184.6 475.5,1185.2 469.6,1187.5 462.4,1188.4 456.7,1190.4 448.1,1192.5 442.4,1194.1 437.5,1197 433.2,1203.8 429.9,1210.1 426,1217 420.2,1223.1 418.2,1230.7 413.7,1237.9 412,1245.3 410.4,1251.3 406.5,1257.9 401.7,1263.6 398.5,1269.3 395.5,1275.9 391.2,1282.1 387.7,1286.3 385.8,1293.2 381.4,1297.8 375.7,1303.2 373.3,1305.8 377.4,1311.4 382.3,1316 384.8,1320.2 391,1324.8 395.9,1328.5 401.6,1332.7 408.2,1334.8 414,1340.4 417.8,1342.9 423.4,1346.1 429,1348.8 433.3,1355.3 434.1,1361.5 433.8,1367.7 432.8,1376.9 431.2,1384.3 430.7,1391.6 431,1397 433.3,1400.1 443.9,1398.2 449.3,1402.1 457,1407.1 464.6,1412.9 473.3,1414.4 479.6,1411.3 484.6,1398.8 484.3,1395.4 486.4,1391.8 486.8,1388.4 485.7,1383.2 485.5,1379 487.2,1371.5 487.2,1366.5 487.8,1359.8 488.5,1354.1 486.6,1347.9 488.7,1339.7 488.3,1333.8 488.7,1324.6 488.6,1317.5 488.5,1311 487.6,1303.9 488.3,1296.4 488.6,1287.7 487.9,1280.2 487,1272.2 487,1263.9 486.3,1258 487.5,1250.3 486.9,1242.7 486.4,1236.1 484.9,1228.9 487,1221.8 485.6,1215.3 484.8,1211.3 484.1,1205.7 485.8,1200.7 484.3,1196.2 484.4,1190.7 485.6,1187.1Z" fill="#169dd5"/>
<path d="M484.8,1190.5 475.5,1193.4 470.2,1195.5 463.4,1196.5 457.2,1196 451.5,1198.7 446.4,1203.7 444.2,1212.8 441,1220.1 438.5,1224.5 436.8,1232 435.6,1236.4 432.4,1242.7 427.3,1248 423,1254.1 418.6,1259.8 412.8,1267.4 406.2,1272.8 403.5,1279 399.5,1285.9 397.9,1292 396.7,1296.5 393.2,1305.2 392.9,1312.5 395.1,1318.7 402.8,1322.4 407.7,1324.8 412.2,1329.9 418.3,1333 423.3,1335.9 431,1339.5 438,1342.8 444.2,1347 450.4,1350.4 453.1,1355 455.2,1362 458.6,1366.2 458.4,1374.6 459.9,1383 460.2,1390.1 460.3,1396.2 468.3,1404.9 477.1,1412.8 484.8,1395.9 483.8,1393.1 484,1388.8 484.3,1386.2 486.4,1379.7 486.4,1376.5 486.2,1369.7 486.8,1363.3 485.1,1359.3 485.6,1352.8 486.9,1344 485.4,1338.5 485.6,1331.5 486.9,1323.2 486.4,1315.8 487.3,1309.3 486.8,1301.8 485.3,1294.9 486.9,1286.4 486.4,1278.9 486.7,1271.5 485.5,1264.1 485.2,1255.6 485.8,1250.6 486.2,1242.2 485.6,1236.4 485.6,1229.7 485.3,1224.1 486.1,1217.9 485.7,1212.8 484,1206.7 484.3,1202.3 484.6,1197.9 485.7,1195.2Z" fill="#16bfd5"/>
<path d="M484.1,1202.2 479,1203.5 472.1,1208.9 463.6,1215.4 460.7,1218.8 454.8,1225.9 450.9,1231.2 446.8,1238.2 444.3,1243.8 439.3,1248 434.8,1252.1 432.4,1257.8 432,1264 433,1270.6 435.4,1275.5 439.8,1283.6 442.2,1292.4 446.4,1300.1 448,1306.4 452,1311.4 456.2,1318 458.9,1321.3 463,1328.1 470.2,1331.8 477.6,1341.9 485.5,1335.8 485.5,1332.4 484.2,1327 484.1,1322.9 484.4,1316.6 484.8,1312.4 486.4,1304.4 486.9,1297.3 484.9,1290.6 486.6,1282.6 486.5,1276.1 486.5,1268 484.6,1259.9 486.2,1253.3 486.2,1245.2 484.9,1238.1 486.1,1232.5 484.3,1226.1 483.9,1219.5 484.3,1214.7 485.2,1209.7 483.8,1204Z" fill="#16d5ce"/>
<path d="M484.7,1240.7 476.2,1239.7 470,1245 464.7,1250.1 461.9,1255.6 458.8,1261.4 460,1267.8 464,1275.9 468.3,1280.5 473.5,1283.4 485,1287.3 485,1282.7 484.7,1275.3 486.5,1268 485.8,1258.2 486.9,1251.3 485.7,1244.2Z" fill="#16d5af"/>
<path d="M816.5,1189 827.4,1192.4 832.7,1192.2 838.6,1192.3 844.6,1192.8 853.3,1191.8 860.2,1190.6 869.1,1192.4 876.2,1191.6 881.9,1193.6 887,1195 892.2,1198.5 895,1203.4 897.7,1208 899.3,1214.9 904.1,1220.7 906.7,1229.7 908.9,1236 913.9,1240.6 916.8,1244.5 922.2,1246.9 930.4,1249.4 936.6,1251.2 940.4,1253.4 940,1259.5 937.5,1267.2 936.2,1275.2 932.3,1283.4 929.6,1289.2 924.3,1297.1 920.2,1299.9 914.6,1304.4 910.2,1307.3 903.9,1311.1 901.3,1320.6 900.2,1326.5 897.9,1333.6 897.3,1341.5 894.7,1347.4 892.5,1355 890.7,1362 888.3,1368.4 889.5,1374.8 887.4,1381.8 884.9,1387.1 878.9,1390.3 872,1392.9 864.4,1394.2 857.7,1396.4 851.8,1396.9 844.5,1397.7 837.4,1400.1 830.5,1400.2 823.1,1412.5 818.3,1398.2 817.9,1396.4 817.7,1391.5 815.9,1388.2 817,1383.9 815.9,1378.6 817.6,1372.5 817.2,1368.4 816.7,1361.1 816,1354.8 815.3,1347.3 815.6,1340.7 817,1334.2 816.9,1327.5 816.9,1321 816.5,1312.6 815.3,1305.4 815.5,1298.5 814.9,1290.5 815.6,1282.5 816.1,1276.4 817.2,1267.5 817.2,1261.6 816.2,1253.5 815.5,1247.1 816.2,1240.2 817.4,1233.3 816.9,1226.8 815.7,1220.6 815.6,1214.2 817.9,1209.3 816,1204.4 815.9,1200.2 816.5,1195.1 817.6,1193.1Z" fill="#169dd5"/>
<path d="M816.2,1193.2 826.6,1194 831.9,1193.4 839.3,1195.1 847.5,1197 855,1197.9 861.8,1199.8 865.5,1204.8 867.8,1211.3 868.1,1218.5 872,1226.5 876.8,1234.6 878.8,1240.2 881.1,1246.7 884.8,1250.9 887.6,1257.1 886.4,1264.1 888.1,1269.8 886,1278.1 886.3,1284.9 887.5,1291.4 890.8,1300.7 890.9,1307.4 889.3,1313.6 883.7,1316 879,1321.7 877.2,1328.3 879.3,1336.2 878.1,1342.4 877.6,1350 878.6,1354.7 877.5,1362 873.2,1367.2 869.7,1375.3 866.4,1381.4 861.4,1386.7 854,1391.4 849.3,1393.1 842,1395.1 836.4,1396.3 831,1397.2 823.8,1409.9 817.6,1397.9 817.9,1393.1 816.1,1390.8 815.9,1386.5 817.8,1381.2 817.7,1376 817.1,1370.6 815.7,1363.5 816.9,1358.3 815.3,1352.2 815.6,1344.9 817,1338.9 816.7,1332.3 815.9,1324.2 815.9,1316.7 816.7,1310.6 815.5,1302.7 815.4,1293.5 816.5,1287.8 815.7,1280.9 816.6,1271.9 816.8,1265.8 815.4,1258.8 816.1,1250.2 816.1,1244 816.5,1236.8 815.5,1231.2 817.1,1225.3 816.4,1219.9 815.6,1212.7 815.8,1208.7 817.1,1203.3 817.2,1198.5 816.2,1197.1Z" fill="#16bfd5"/>
<path d="M818.3,1200.7 826.8,1204.3 833.8,1208.8 840.8,1215.6 843.2,1221 843.5,1227.5 845,1234.8 846.3,1241.3 844.4,1247 840.7,1254.4 836.9,1260.8 836.9,1267.4 835.3,1273.8 835.7,1279.9 835.8,1287.4 837.2,1293.7 840.8,1301.1 842.5,1306.4 842.9,1314.3 841.3,1322.2 840.5,1328 836.6,1335 832.5,1343 826.7,1349.2 817.6,1347.9 816.1,1344 816.6,1340.8 816.1,1335.7 816.2,1330.5 817,1324.6 817.1,1318.5 815.4,1311.9 816.3,1305.2 817.3,1297 817.1,1289.2 816.6,1281.1 817,1274.6 816.1,1267.1 815.9,1258.9 816.8,1252.4 815.3,1244.3 817.5,1237.4 816,1231.4 816.3,1226.1 817.9,1218.3 816.2,1213.1 816.9,1208.6 817.6,1206Z" fill="#16d5ce"/>
<rect x="239.1" y="761.3" width="821.0" height="660.8" filter="url(#mod)"/>
<rect x="239.1" y="761.3" width="821.0" height="660.8" filter="url(#mot)"/>
<rect x="239.1" y="761.3" width="821.0" height="660.8" fill="url(#sp)"/>
<path d="M475,1181.9 478,1181.9 481,1181.8 484,1181.4 487,1181.7 490,1181.1 493,1181.3 496,1180.5 499,1180.1 502,1180 505,1181.2 508,1180.7 511.1,1181.7 514.1,1180.8 517.1,1180.2 520.1,1180.2 523.1,1181.7 526.1,1181.7 529.1,1180.2 532.1,1180.6 535.1,1180.5 538.1,1181.9 541.1,1180.8 544.1,1182 547.1,1180.5 550.1,1180.4 553.1,1181.4 556.1,1182 559.1,1180.5 562.1,1180 565.1,1180.8 568.1,1181.3 571.1,1181.3 574.1,1180.4 577.1,1180.1 580.1,1181.3 583.2,1181.6 586.2,1180 589.2,1181.1 592.2,1181.1 595.2,1181.4 598.2,1180.6 601.2,1180 604.2,1181.1 607.2,1180.3 610.2,1181.2 613.2,1181.2 616.2,1180.4 619.2,1180.1 622.2,1180.5 625.2,1180.6 628.2,1180.3 631.2,1180.2 634.2,1180.1 637.2,1180.9 640.2,1181.2 643.2,1182 646.2,1180.9 649.2,1181.3 652.2,1182 655.3,1180 658.3,1181.4 661.3,1180.1 664.3,1182 667.3,1181.3 670.3,1180.4 673.3,1180.7 676.3,1180.7 679.3,1181 682.3,1181.8 685.3,1180.3 688.3,1180.5 691.3,1181 694.3,1180.9 697.3,1180.4 700.3,1181 703.3,1181 706.3,1181 709.3,1180.5 712.3,1180.5 715.3,1181.3 718.3,1180.4 721.3,1181.2 724.4,1180.7 727.4,1181.2 730.4,1180.2 733.4,1180.1 736.4,1180.4 739.4,1181.2 742.4,1181.3 745.4,1181.1 748.4,1180.8 751.4,1181.9 754.4,1180.9 757.4,1180.1 760.4,1181.9 763.4,1180.2 766.4,1180.9 769.4,1180 772.4,1180.6 775.4,1180.6 778.4,1180.5 781.4,1181.2 784.4,1181.8 787.4,1180.3 790.4,1180.2 793.4,1180.6 796.5,1181.6 799.5,1181 802.5,1181 805.5,1181.3 808.5,1181 811.5,1181.1 814.5,1180 817.5,1180.7 820.5,1180 823.5,1180.2 826.5,1181.6 830,1181 829.3,1184 829.7,1187 829.6,1190 830,1193 829.1,1196 829.9,1199 829.2,1202 830.1,1205 829.5,1208 829.8,1211 830.5,1214 829.1,1217 828.5,1220 830.3,1223 829.5,1226 829.8,1229 830.2,1232 830.3,1235 829.3,1238 830.5,1241 829.3,1244 830,1247 830.2,1250 829.2,1253 829.3,1256 829.2,1259 829.2,1262 829.3,1265 830.2,1268 828.6,1271 830.5,1274 830.1,1277 829.6,1280 829.8,1283 829.1,1286 830,1289 830.2,1292 829.3,1295 829.5,1298 828.9,1301 829,1304 830.2,1307 829.8,1310 829.4,1313 829.8,1316 828.9,1319 828.5,1322 829.2,1325 829.7,1328 828.9,1331 829.6,1334 829.2,1337 829,1340 830,1343 829.2,1346 830,1349 830,1352 829.3,1355 828.6,1358 830.2,1361 829.6,1364 829.7,1367 829.9,1370 829.6,1373 830.3,1376 828.5,1379 830.4,1382 829.7,1385 829.3,1388 830.3,1391 830.3,1394 829.7,1397 828.5,1400 829.7,1403 829.3,1406 829.6,1409 830.2,1412 829.5,1414.3 826.5,1415.7 823.5,1414.6 820.5,1414.5 817.5,1414.1 814.5,1414.2 811.5,1414.5 808.5,1415.1 805.5,1415.9 802.5,1414.3 799.5,1414.6 796.5,1414.7 793.4,1415.3 790.4,1414.7 787.4,1415.3 784.4,1414.3 781.4,1414.1 778.4,1415.2 775.4,1415.4 772.4,1414.3 769.4,1414.1 766.4,1415.3 763.4,1414.1 760.4,1415.9 757.4,1415.4 754.4,1414.3 751.4,1414.8 748.4,1414.1 745.4,1414.2 742.4,1414.7 739.4,1415.8 736.4,1415.8 733.4,1415.5 730.4,1415.3 727.4,1415.2 724.4,1415 721.3,1415.3 718.3,1415 715.3,1414.8 712.3,1415.7 709.3,1414.6 706.3,1414.8 703.3,1415.4 700.3,1415.9 697.3,1414.7 694.3,1414.9 691.3,1414.8 688.3,1414.4 685.3,1414.7 682.3,1415.6 679.3,1414.4 676.3,1415 673.3,1414.6 670.3,1415.2 667.3,1415.5 664.3,1414.2 661.3,1415 658.3,1414.4 655.3,1415.3 652.2,1415.4 649.2,1414.4 646.2,1414.5 643.2,1414.6 640.2,1414.7 637.2,1415.8 634.2,1415.7 631.2,1415.6 628.2,1414.8 625.2,1414.9 622.2,1414.4 619.2,1414.9 616.2,1415.9 613.2,1414.2 610.2,1414.8 607.2,1414.4 604.2,1415.7 601.2,1414.6 598.2,1415 595.2,1414.1 592.2,1415.4 589.2,1415 586.2,1415.6 583.2,1415.4 580.1,1415.5 577.1,1414.5 574.1,1414.5 571.1,1415.2 568.1,1414.1 565.1,1415.9 562.1,1415.4 559.1,1415 556.1,1414.7 553.1,1414.2 550.1,1415.1 547.1,1415.5 544.1,1414.2 541.1,1414.2 538.1,1415.4 535.1,1414.9 532.1,1415.6 529.1,1414.8 526.1,1416 523.1,1415.7 520.1,1414.6 517.1,1415.1 514.1,1415.2 511.1,1414.9 508,1415.6 505,1415.4 502,1415.6 499,1414.5 496,1415 493,1415.1 490,1415.2 487,1414 484,1415.6 481,1414.9 478,1414.3 474.3,1415 474.9,1412 474.5,1409 474.5,1406 474.8,1403 474.2,1400 475.9,1397 475.3,1394 475.7,1391 474.7,1388 475.6,1385 475.9,1382 475.7,1379 475.7,1376 474.9,1373 475.1,1370 475.1,1367 476,1364 474.9,1361 475.5,1358 475.8,1355 475.9,1352 475.7,1349 475.2,1346 475.7,1343 475.1,1340 475.7,1337 474.5,1334 474.2,1331 475.4,1328 475.9,1325 474.1,1322 475.8,1319 474.7,1316 474.5,1313 475,1310 474.2,1307 475.7,1304 474.6,1301 474.2,1298 474.2,1295 474.3,1292 475.1,1289 475,1286 474.3,1283 475.2,1280 475.5,1277 475.9,1274 475.6,1271 475.7,1268 474.1,1265 475.4,1262 475.3,1259 474.1,1256 474.6,1253 475.1,1250 475.8,1247 475.3,1244 475.4,1241 474.1,1238 475.2,1235 474.1,1232 475.5,1229 475.9,1226 474.2,1223 475.8,1220 474.4,1217 474.8,1214 475.4,1211 474.3,1208 475.1,1205 474,1202 474.9,1199 474.1,1196 474.1,1193 475.2,1190 474.6,1187 474.5,1184Z" fill="#fff"/>
<circle cx="581.4" cy="1188.9" r="1.8" fill="#a0c828"/>
<circle cx="644.3" cy="1188.7" r="2.0" fill="#b0c828"/>
<circle cx="657.4" cy="1183.3" r="1.6" fill="#a0c828"/>
<circle cx="659.2" cy="1182.3" r="1.2" fill="#b0c828"/>
<circle cx="637.3" cy="1182.1" r="1.3" fill="#a0c828"/>
<circle cx="553.6" cy="1189.9" r="2.1" fill="#d08020"/>
<circle cx="672.2" cy="1189.4" r="2.1" fill="#d08020"/>
<circle cx="596.9" cy="1184.3" r="2.1" fill="#c8b020"/>
<circle cx="630.3" cy="1186.3" r="1.4" fill="#80c830"/>
<circle cx="642.2" cy="1188.6" r="1.4" fill="#c8b020"/>
<circle cx="667.7" cy="1191.9" r="1.8" fill="#c8b020"/>
<circle cx="637.8" cy="1191.9" r="1.5" fill="#b0c828"/>
<circle cx="610.9" cy="1183.8" r="1.2" fill="#c8b020"/>
<circle cx="597.0" cy="1185.7" r="1.3" fill="#d08020"/>
<circle cx="603.3" cy="1183.3" r="1.6" fill="#a0c828"/>
<circle cx="630.5" cy="1190.9" r="1.8" fill="#a0c828"/>
<circle cx="551.7" cy="1188.5" r="2.1" fill="#80c830"/>
<circle cx="540.3" cy="1186.2" r="2.0" fill="#a0c828"/>
<circle cx="562.7" cy="1190.1" r="2.0" fill="#b0c828"/>
<circle cx="580.6" cy="1189.3" r="1.9" fill="#d08020"/>
<circle cx="681.8" cy="1190.0" r="1.2" fill="#b0c828"/>
<circle cx="600.0" cy="1189.2" r="1.2" fill="#b0c828"/>
<circle cx="636.6" cy="1189.2" r="1.3" fill="#c8b020"/>
<circle cx="546.8" cy="1189.0" r="1.0" fill="#c8b020"/>
<circle cx="656.4" cy="1185.4" r="1.4" fill="#a0c828"/>
<circle cx="666.0" cy="1187.6" r="2.1" fill="#a0c828"/>
<circle cx="551.1" cy="1188.4" r="1.7" fill="#c8b020"/>
<circle cx="651.2" cy="1191.7" r="2.0" fill="#b0c828"/>
<circle cx="554.8" cy="1182.0" r="2.2" fill="#c8c020"/>
<circle cx="605.3" cy="1191.1" r="1.7" fill="#b0c828"/>
<circle cx="552.4" cy="1186.7" r="1.4" fill="#c8c020"/>
<circle cx="540.9" cy="1185.3" r="1.6" fill="#c8b020"/>
<circle cx="622.7" cy="1186.7" r="1.8" fill="#d08020"/>
<circle cx="667.8" cy="1185.8" r="1.9" fill="#a0c828"/>
<circle cx="658.1" cy="1184.6" r="1.8" fill="#a0c828"/>
<circle cx="581.4" cy="1187.9" r="1.4" fill="#a0c828"/>
<circle cx="634.7" cy="1186.3" r="1.8" fill="#80c830"/>
<circle cx="546.1" cy="1186.0" r="1.1" fill="#c8c020"/>
<circle cx="636.0" cy="1182.0" r="1.9" fill="#a0c828"/>
<circle cx="611.9" cy="1191.9" r="1.5" fill="#c8c020"/>
<circle cx="586.3" cy="1186.3" r="1.2" fill="#c8c020"/>
<circle cx="557.9" cy="1190.2" r="1.3" fill="#d08020"/>
<circle cx="636.5" cy="1184.9" r="1.4" fill="#c8c020"/>
<circle cx="597.8" cy="1186.4" r="2.1" fill="#80c830"/>
<circle cx="547.0" cy="1187.4" r="1.2" fill="#c8c020"/>
<circle cx="591.6" cy="1190.9" r="1.7" fill="#a0c828"/>
<circle cx="486.3" cy="1339.2" r="1.4" fill="#b0c828"/>
<circle cx="481.0" cy="1316.3" r="1.1" fill="#d08020"/>
<circle cx="481.8" cy="1335.2" r="0.8" fill="#a0c828"/>
<circle cx="484.7" cy="1341.4" r="1.2" fill="#80c830"/>
<circle cx="481.4" cy="1311.6" r="0.8" fill="#c8b020"/>
<circle cx="486.3" cy="1296.3" r="0.9" fill="#c8b020"/>
<circle cx="485.3" cy="1310.4" r="1.1" fill="#a0c828"/>
<circle cx="486.7" cy="1306.4" r="0.9" fill="#c8c020"/>
<circle cx="486.5" cy="1299.2" r="0.8" fill="#c8b020"/>
<circle cx="485.0" cy="1337.6" r="1.5" fill="#b0c828"/>
<circle cx="483.0" cy="1324.2" r="1.4" fill="#b0c828"/>
<circle cx="484.9" cy="1340.5" r="0.8" fill="#c8c020"/>
<circle cx="482.2" cy="1344.8" r="1.1" fill="#d08020"/>
<circle cx="481.1" cy="1298.2" r="1.0" fill="#c8b020"/>
<circle cx="493.0" cy="1334.0" r="1.6" fill="#e02020"/>
<circle cx="817.2" cy="1270.3" r="1.0" fill="#a0c828"/>
<circle cx="824.6" cy="1391.7" r="1.1" fill="#a0c828"/>
<circle cx="824.9" cy="1358.3" r="1.1" fill="#d08020"/>
<circle cx="818.2" cy="1326.2" r="1.5" fill="#80c830"/>
<circle cx="818.6" cy="1290.7" r="1.1" fill="#a0c828"/>
<circle cx="817.2" cy="1383.5" r="1.1" fill="#c8b020"/>
<circle cx="818.4" cy="1243.0" r="1.2" fill="#d08020"/>
<circle cx="817.6" cy="1383.1" r="1.2" fill="#b0c828"/>
<circle cx="823.7" cy="1262.5" r="1.3" fill="#b0c828"/>
<circle cx="822.5" cy="1229.7" r="1.2" fill="#b0c828"/>
<circle cx="818.1" cy="1372.0" r="0.9" fill="#c8c020"/>
<circle cx="822.9" cy="1299.9" r="1.3" fill="#a0c828"/>
<circle cx="820.9" cy="1331.4" r="1.0" fill="#c8b020"/>
<circle cx="821.0" cy="1325.0" r="1.4" fill="#d08020"/>
<circle cx="822.2" cy="1331.4" r="1.2" fill="#80c830"/>
<circle cx="818.9" cy="1314.3" r="0.8" fill="#d08020"/>
<circle cx="824.3" cy="1388.1" r="1.4" fill="#a0c828"/>
<circle cx="822.5" cy="1351.1" r="1.3" fill="#c8b020"/>
</g>
<path d="M595.0,791.0L595.0,1182.0M717.0,791.0L717.0,1182.0M503.5,1030.0L503.5,1182.0M564.5,1030.0L564.5,1182.0M625.5,1030.0L625.5,1182.0M686.0,1030.0L686.0,1182.0M747.5,1030.0L747.5,1182.0M323.5,1240.5L476.0,1240.5M323.5,1293.0L476.0,1293.0M323.5,1345.0L476.0,1345.0M323.5,1397.0L476.0,1397.0M829.0,1240.5L982.5,1240.5M829.0,1293.0L982.5,1293.0M829.0,1345.0L982.5,1345.0M829.0,1397.0L982.5,1397.0" stroke="#0a0a0a" stroke-width="2.6" fill="none" stroke-linecap="butt"/>
<path d="M323.5,1188 455,1188.5 462,1190 468,1188 476,1185" stroke="#0a0a0a" stroke-width="2.6" fill="none"/>
<path d="M808,1030 808,1165 809,1176 811,1181" stroke="#0a0a0a" stroke-width="2.6" fill="none"/>
<path d="M829,1184 834,1187.5 845,1188.3 982.5,1188" stroke="#0a0a0a" stroke-width="2.6" fill="none"/>
<rect x="67.3" y="816.1" width="21.3" height="49.4" fill="#ff0000"/>
<rect x="67.3" y="865.0" width="21.3" height="33.2" fill="#ff4400"/>
<rect x="67.3" y="897.7" width="21.3" height="33.2" fill="#ff8800"/>
<rect x="67.3" y="930.4" width="21.3" height="33.2" fill="#ffcc00"/>
<rect x="67.3" y="963.1" width="21.3" height="33.2" fill="#eeff00"/>
<rect x="67.3" y="995.8" width="21.3" height="33.2" fill="#aaff00"/>
<rect x="67.3" y="1028.5" width="21.3" height="33.2" fill="#66ff00"/>
<rect x="67.3" y="1061.2" width="21.3" height="33.2" fill="#22ff00"/>
<rect x="67.3" y="1093.9" width="21.3" height="33.2" fill="#00ff22"/>
<rect x="67.3" y="1126.6" width="21.3" height="33.2" fill="#00ff66"/>
<rect x="67.3" y="1159.3" width="21.3" height="33.2" fill="#00ffaa"/>
<rect x="67.3" y="1192.0" width="21.3" height="33.2" fill="#00ffee"/>
<rect x="67.3" y="1224.7" width="21.3" height="33.2" fill="#00ccff"/>
<rect x="67.3" y="1257.4" width="21.3" height="33.2" fill="#0088ff"/>
<rect x="67.3" y="1290.1" width="21.3" height="33.2" fill="#0044ff"/>
<rect x="67.3" y="1322.8" width="21.3" height="50.2" fill="#0000ff"/>
<text class="lab" x="149.0" y="838.5">395.87</text>
<text class="lab" x="149.0" y="873.5">375.89</text>
<text class="lab" x="149.0" y="908.6">325.00</text>
<text class="lab" x="149.0" y="943.6">300.00</text>
<text class="lab" x="149.0" y="978.6">275.00</text>
<text class="lab" x="149.0" y="1013.6">250.00</text>
<text class="lab" x="149.0" y="1048.7">225.00</text>
<text class="lab" x="149.0" y="1083.7">200.00</text>
<text class="lab" x="149.0" y="1118.7">175.00</text>
<text class="lab" x="149.0" y="1153.8">150.00</text>
<text class="lab" x="149.0" y="1188.8">125.00</text>
<text class="lab" x="149.0" y="1223.8">100.00</text>
<text class="lab" x="149.0" y="1258.9">75.00</text>
<text class="lab" x="149.0" y="1293.9">50.00</text>
<text class="lab" x="149.0" y="1328.9">25.00</text>
<text class="lab" x="149.0" y="1364.0">0.000</text>
<text class="ttl" transform="translate(43.2,1090.5) rotate(-90)">displacement/mm</text>
<text class="cap" x="529.3" y="1487.6">(<tspan class="b" dx="-1.6">c</tspan><tspan dx="-1.6">)</tspan></text>
<g clip-path="url(#c3)">
<rect x="1377.9" y="761.1" width="818.8" height="659.8" fill="#166ad5"/>
<path d="M1369.9,878.4 1374.5,855.9 1379.9,857.2 1387,872.2 1394,881.8 1401.1,882.9 1408.3,882.4 1413.3,883.8 1420.6,887.5 1426.4,889 1429.5,893.2 1436.2,897.2 1441.1,902.5 1444.6,908.5 1445.7,913.9 1449.1,917.5 1449.7,924.9 1451.5,932.2 1452.6,938.1 1454.1,946.4 1454.3,953.9 1455.6,958.6 1456.2,965.3 1455.7,970.6 1453.8,976.1 1454.9,982.3 1454.5,989.4 1453.4,997 1453.9,1003.3 1452.4,1009.1 1453.1,1016 1451.5,1020.5 1451.2,1026.9 1448.2,1034.6 1447.3,1041.1 1447.3,1045.9 1446.7,1054.1 1445.1,1060.2 1444.7,1065.2 1444.3,1072.5 1443.7,1076.8 1442.7,1084.6 1442.6,1089.7 1442.8,1096 1443.1,1102.3 1444,1108.8 1445.1,1114.8 1445.1,1122.2 1445,1128.2 1447.3,1134.8 1448.4,1141 1452.2,1147.8 1453.2,1153.5 1457.2,1159.1 1458.6,1166.4 1460.7,1171.4 1461.7,1179.5 1464.8,1184.7 1467.8,1191 1470.3,1199.8 1474.9,1205.2 1476,1211.3 1476.5,1218.2 1476,1223 1472,1227.9 1467.8,1227.6 1462.1,1231.8 1456.6,1235.6 1450,1237.2 1445.3,1241.7 1436.8,1245.7 1427.9,1248.3 1420.6,1252 1413.6,1253.8 1404.3,1254.2 1398.5,1253.2 1390,1252.5 1385.1,1247.7 1378.6,1243.6 1373.4,1237.1 1368.6,1226.9 1368.2,1224.1 1368.4,1219.8 1366.3,1216.8 1366.9,1212.2 1366.3,1208.8 1364.5,1203.5 1365.3,1197.6 1365,1192.6 1364.7,1187.9 1364.3,1183 1363.4,1176 1362.3,1170.5 1362.9,1163.9 1362.8,1157.1 1361.7,1150.4 1360.6,1144.1 1360.2,1137.9 1361.4,1130.6 1361.8,1123.9 1361.4,1115.6 1360.6,1108.2 1360.2,1102.9 1360.1,1094.8 1360.8,1087.6 1362,1080.4 1362.4,1073.2 1361.1,1065.6 1362.1,1056.3 1361.3,1049.3 1362.7,1040.7 1363,1034.4 1362.5,1026.2 1362.2,1018.7 1363.3,1011.3 1363.6,1005 1362.3,995.6 1364.7,988.7 1364.6,982.1 1363.5,974.1 1364.3,968.6 1363.7,960.3 1364.6,955.8 1366,947.8 1365.5,941.8 1366.6,935.3 1366.1,929.9 1366.1,923.9 1367.6,918.5 1366.3,912.8 1367.8,907.4 1367.7,903.3 1367.9,897.7 1369.4,893.1 1369.8,889.1 1369.2,886.3 1369.1,883Z" fill="#1676d5"/>
<path d="M1428.3,1191 1430.4,1185.6 1437.6,1184.2 1443.6,1183.3 1449.5,1185.1 1457.4,1187.5 1463.9,1188.2 1472.4,1191.3 1478.6,1191.6 1484.1,1191.2 1491.1,1191.2 1497.4,1189.9 1503.8,1191.1 1511.3,1191.4 1517,1189.3 1524.3,1189.7 1530.5,1190.1 1536.3,1189 1542.2,1190.6 1549.3,1190.9 1556.6,1190 1563.4,1188.6 1568.4,1189.9 1574,1190.6 1580.5,1189.8 1587.3,1188.9 1594.7,1187.6 1601.1,1187.3 1609.1,1184.7 1616.5,1184 1620.6,1184.5 1625.9,1186.2 1631.1,1187.9 1632.6,1192.2 1633.3,1194.6 1634.4,1199.2 1635.4,1202.4 1633.4,1207.3 1634.7,1214 1633.1,1222.7 1631.8,1233 1633.1,1244.4 1632.6,1250.3 1632.5,1254.2 1633.1,1259.2 1633.7,1264 1635.6,1270.6 1636.6,1275.7 1636.1,1282.1 1638,1288.6 1638.4,1294.9 1639.1,1302.1 1640.9,1309.4 1642,1317.1 1641.4,1324.3 1643.7,1332.1 1644.3,1339.2 1644.5,1345.5 1645.6,1354.1 1645.7,1360.6 1646.4,1368.4 1645.5,1376.6 1646.7,1382.8 1646.7,1389.7 1645.2,1396.9 1645.9,1402.5 1644,1408.2 1642,1414.9 1642.5,1419.6 1640,1425.1 1636.9,1428.8 1635.2,1433.6 1632.8,1437.4 1631.1,1440.2 1625.8,1442.1 1623.6,1445.8 1618.3,1447.2 1612.7,1449.3 1609.3,1451.4 1602.3,1454.2 1596.9,1455.1 1590.8,1457.5 1585,1457.4 1576.5,1458.4 1569.4,1459.5 1561.6,1461.6 1554.8,1461.9 1548.5,1462.3 1539.1,1461.9 1533.4,1462 1525.1,1461.3 1518,1461.2 1509.3,1460.6 1502.1,1459.2 1495.2,1460 1487.9,1457.1 1480.2,1457.9 1472.7,1456.1 1467.5,1454.8 1460.3,1452.2 1455.2,1451 1449.3,1450.2 1444.4,1447.5 1440.1,1447.1 1435.5,1443.8 1431.2,1442.3 1427.8,1440.9 1423,1438.1 1419.7,1432.9 1417.6,1427.6 1415.9,1423.1 1414.3,1417.2 1411.4,1412.4 1411,1405.9 1410.7,1400.1 1412.1,1393.2 1411.2,1384.8 1413,1377.7 1414.2,1371.6 1415.9,1364.9 1416.4,1357.6 1417.4,1349 1417.7,1342.7 1420.4,1335.4 1421.3,1327.9 1423.4,1320.9 1422.5,1315.7 1424.7,1309.2 1425.8,1302.1 1423.9,1296.7 1424.7,1289 1425.2,1281.3 1425.4,1273.8 1423.5,1267.8 1423,1260.2 1422.8,1252.2 1423,1244.8 1423.6,1239.5 1423.6,1231 1421.4,1225.2 1423.2,1219.4 1424,1214.7 1423.7,1207.6 1423.7,1202.2 1424.5,1199.4 1425.5,1194.1Z" fill="#1690d5"/>
<path d="M1945.5,1179.6 1949.3,1170.2 1953.4,1164.7 1959.6,1160.9 1964.8,1159 1971.1,1156.2 1979.8,1155.1 1986.1,1156 1993.1,1156.8 2000.9,1158.6 2008.6,1160 2015.8,1161.9 2022.1,1162.5 2028.3,1164.7 2033.1,1167.4 2039.1,1167.8 2043.4,1167.3 2051.4,1172.5 2051,1179.3 2053.2,1184.9 2060.4,1186.2 2067,1187.9 2077,1188.8 2082.9,1190.3 2089.6,1189.2 2096.6,1188.9 2103.2,1188.2 2110.7,1188.8 2116.3,1186.3 2121.7,1184.3 2130,1181.3 2135.7,1179.4 2141,1178.1 2149.1,1169.1 2154.9,1160.1 2161.1,1178 2160.8,1182 2162.3,1184.8 2161.1,1189 2163,1193.9 2163.9,1199.5 2163.7,1204.3 2163.8,1209.8 2165.8,1214.6 2166.7,1220.4 2168.2,1227.6 2168.9,1234.4 2168.1,1241.3 2169.9,1247.3 2171,1255.3 2171.8,1261.2 2173.3,1270.2 2172.8,1277.6 2174.9,1283.7 2173.7,1291.1 2175.1,1298.5 2175.1,1307.5 2175.2,1314.8 2176.6,1322.7 2176.6,1329.7 2176.8,1336.1 2178.5,1344.4 2177.3,1353.1 2177.4,1359.3 2176.7,1366.1 2178.2,1373.9 2177.7,1380.9 2175.7,1385.3 2174.8,1393 2174.9,1398.3 2174.2,1403.7 2172.8,1409.6 2170.2,1415.6 2168.7,1420.5 2168.3,1424.1 2165.6,1427.6 2162.6,1432.5 2160.7,1435.4 2157.4,1438.3 2153,1442.8 2149.4,1444.5 2145.7,1447.4 2139,1450.2 2134.3,1454.2 2127.1,1456.8 2122.5,1458.7 2115.4,1459.6 2107.9,1460.9 2102.8,1462.4 2095.7,1465 2088.4,1464.4 2079.8,1466.9 2071.9,1466.1 2063.6,1467.2 2057.2,1466.6 2048.8,1467.7 2040.9,1467.8 2034.9,1466.5 2025.6,1466.2 2018.5,1464.3 2012.2,1464.3 2004,1462.3 1998.1,1462.5 1990.5,1460 1983.7,1457.8 1978.4,1455.3 1972.6,1453.6 1965.7,1450.1 1961.4,1447.4 1957,1445.6 1952.9,1443.1 1949,1439.5 1944.5,1436.2 1944,1432.2 1941.4,1428.5 1938.4,1423.4 1936.5,1420.3 1935.5,1416 1933.3,1411 1931.5,1403.3 1930.3,1398.9 1930,1392.2 1927.3,1387.1 1926.8,1381 1927,1372.6 1926.3,1367.3 1925.2,1360.7 1924.4,1351.6 1925.5,1345.6 1925.4,1338.8 1924.5,1329.2 1925.4,1322.4 1925.3,1314.9 1926.7,1307.1 1926.7,1300.1 1926.2,1293.4 1926.7,1284.4 1927.2,1277.8 1929.1,1269.6 1928.4,1262.8 1929.8,1255.5 1931.4,1247.2 1930.9,1242.2 1933.9,1233.8 1933.3,1228.1 1935.9,1221.5 1937.2,1214.9 1938.2,1209 1938.6,1205.7 1940.1,1200.4 1940.4,1195.6 1942.9,1189.4 1943.7,1186.8 1943.5,1181.7Z" fill="#1690d5"/>
<path d="M1538.3,1211.7 1502.4,1205.4 1522.3,1196.1 1542.9,1189.3 1544.7,1181.8 1547.8,1173.5 1548.7,1164 1549.8,1160.6 1553.6,1155.2 1553.7,1149.2 1556,1141.8 1558.9,1137 1560.1,1130 1560.7,1123.9 1562.9,1118.2 1565.4,1112.7 1565.9,1108.2 1567.6,1098.9 1567.8,1093 1568.5,1085.8 1568.3,1078.3 1568.5,1071.4 1565.4,1065.1 1565,1057.8 1563.3,1050.6 1561.1,1042.9 1560.7,1036.4 1559.8,1027.8 1560.4,1021.5 1562,1014.3 1560.5,1006.7 1563.9,998.5 1564.8,992.7 1567.4,985.3 1568.7,980.7 1571.7,974 1572.4,968.6 1575.8,963 1578.4,956.5 1581.4,950.7 1583.2,944.3 1587,938.7 1589.1,933.1 1592.1,927.5 1596.4,921.9 1598.5,916.1 1602,911.8 1605.7,906.2 1609,900.5 1612.2,895 1615.3,889.2 1618.1,884.5 1620.1,878.9 1624.3,873.2 1628.8,868.7 1634.7,862.6 1639.8,858.7 1645.3,855.2 1649.8,850.1 1657.1,846.7 1661.5,845 1666.5,840.7 1673.5,838.2 1680.4,836 1684.8,831.4 1690.6,828.8 1696,828.6 1703.6,825.6 1709.7,825.9 1718.7,823.1 1724.7,819.7 1730.3,816.3 1734.2,810.3 1741,805.1 1745.9,805.4 1753.6,807.3 1760.9,807.6 1767.8,808.5 1776.2,809.6 1783.7,809.4 1793.8,811.2 1801,812.5 1807,804.6 1814.3,803.8 1825.3,807.1 1830.1,808.2 1835,811.5 1841.4,814.8 1846.4,818.7 1852.6,821.9 1859.3,827.1 1864.2,828.4 1870.6,831.2 1879.1,833.1 1885.2,835.5 1891,836.3 1898.7,840.2 1905.7,840.9 1911.5,841.8 1919.3,844.9 1925.2,845.8 1931.2,851.5 1938.2,855.9 1943.8,861 1945.9,865.2 1951.5,871 1953.4,875.3 1957.6,880.3 1960.3,886.2 1965.3,889.9 1967.8,896.2 1973.5,902.7 1977,909.8 1980.1,914.6 1982.9,922.3 1986.9,927.4 1989.9,934.7 1995,939 1997.8,946.1 1999.6,951.3 2001.9,957.8 2005.2,963.7 2006.2,968.4 2008.3,973.7 2012.1,980.7 2014.4,986.3 2015.2,991.9 2017.9,998.2 2019.5,1006.4 2019.3,1012.8 2021.4,1019.7 2021.3,1027 2021.5,1035.9 2024.2,1043 2023.9,1050 2025.7,1056.5 2027,1063 2027.9,1070.8 2029.3,1078.8 2029.3,1085 2030.6,1093.5 2030.4,1100.8 2028.9,1107.3 2031.5,1115.3 2031.5,1121.8 2034.1,1127.9 2034.8,1136.8 2037.4,1143.5 2038.7,1151.2 2039.6,1157.4 2041.8,1165.9 2042.3,1174 2044.1,1181.3 2044.9,1189.5 2063,1198 2083.9,1206.2 2047.6,1210.6 2044.1,1210.7 2041.1,1211.4 2036.7,1211.4 2034,1212.4 2028.9,1212.7 2024.4,1213 2021.1,1213 2016.7,1213.7 2012.2,1212.5 2007.1,1212.9 2001.3,1212.4 1997.4,1213.7 1992.4,1213.5 1985.8,1212.9 1980.7,1213.6 1975.5,1213.9 1968.2,1212.9 1961.4,1214.1 1956.1,1213.3 1949,1213.6 1944.6,1213.2 1937.7,1214.4 1930.9,1214.1 1923.2,1214.3 1917.2,1215.1 1910.2,1213.6 1904.1,1214.3 1895.7,1214.5 1888.1,1213.4 1882.7,1214.1 1875.3,1213.5 1867.2,1213.6 1860.6,1214.5 1852.2,1214 1844.3,1213.6 1838,1213.9 1829.1,1214.1 1822.4,1215.6 1814.6,1214.2 1808.5,1214.9 1799.6,1214.2 1791.5,1213.6 1784.5,1214.7 1776,1214.4 1768.6,1214.6 1761.5,1214.8 1755,1214.1 1746.5,1213.3 1738.6,1214.6 1732.6,1213.4 1725.6,1215.3 1716.8,1214.3 1710.2,1213.8 1702.2,1214.7 1695.3,1214 1688.4,1213.2 1681.1,1213.6 1673.4,1214.1 1667.8,1214 1660.6,1214.3 1653.7,1215 1646.6,1212.6 1640.9,1214.2 1634.1,1213.4 1627.7,1212.9 1622.6,1214.3 1615.4,1213.5 1609.9,1212.4 1604.8,1213.3 1599.8,1214.1 1594.1,1212.5 1586.9,1213.7 1581.7,1213.3 1576.9,1213.2 1571.8,1211.6 1569,1212.6 1563.6,1213.5 1560,1211.6 1555.7,1211.9 1551.2,1211.6 1546.9,1211.4 1543.5,1211 1541.6,1211.4Z" fill="#1690d5"/>
<path d="M1356.1,1010.7 1360,982.1 1366.8,991.2 1373.5,1011.3 1379.3,1027.8 1380.9,1032.6 1385.6,1039.2 1389.1,1046.4 1391.6,1053.9 1393.1,1061 1394.6,1066.9 1397,1072.8 1399.9,1078.5 1402.4,1087.1 1403.4,1092.6 1406.6,1100.1 1406.5,1106.3 1410.1,1113 1409.8,1120.3 1412.6,1127.9 1413.3,1134.1 1414.9,1139 1419.2,1146.4 1422.9,1150.8 1429.4,1156.9 1432.1,1162.1 1436.2,1167.9 1440.4,1173.8 1441.8,1180.5 1442.2,1187 1441.5,1193.2 1441.5,1200.2 1443.2,1205.7 1444.5,1211.8 1446.1,1218.7 1448.5,1225.6 1450.1,1231.1 1450,1237.3 1450.3,1244.1 1452.9,1249.4 1453.2,1256.5 1453.8,1262.7 1455,1269.7 1455.1,1276 1455.6,1281.7 1459.1,1288.3 1459.2,1296.2 1459.6,1302.8 1461.3,1310 1463,1315.5 1464.8,1321.4 1466,1329.1 1468.4,1335.6 1469.8,1340.8 1470.8,1348 1471.6,1356.8 1473.3,1364.2 1475.5,1370.3 1480.1,1379.9 1484.4,1386.8 1489.7,1391.3 1495.6,1393.4 1503.7,1397 1510.1,1400 1516.2,1400.4 1524.5,1403.3 1529.8,1404.2 1537.3,1405 1544.3,1406.2 1551,1407 1556.7,1410.5 1561.8,1413.3 1568.2,1420.6 1580.8,1428.9 1568.7,1434.7 1565.6,1435.5 1560.5,1437.3 1557.5,1436.8 1552.1,1439.2 1546.7,1439.7 1541.5,1443 1534.5,1443.2 1529.2,1447 1523.9,1446.7 1516.2,1449.2 1508.2,1451.3 1501.7,1455.5 1495.4,1456.1 1487.8,1458.8 1478.2,1461.2 1471.1,1463.2 1463.1,1464.5 1456.4,1464.9 1448,1466 1441.9,1466.9 1435,1467.3 1427.6,1466.5 1420.1,1467.3 1413.5,1466 1405.9,1466 1399.1,1463.2 1394.4,1461.7 1387.9,1457.5 1383.2,1455.1 1377.1,1451 1372.3,1447.5 1369.9,1442.5 1366.2,1434.5 1364.1,1433.3 1361.6,1428.3 1360.7,1424.2 1359.7,1421.4 1358,1417.8 1357.7,1411.8 1355.8,1408 1355.4,1403.2 1353.9,1397.8 1353.9,1392 1353.1,1388.4 1352.5,1381.1 1351.9,1375.3 1350.1,1369.2 1350.4,1363.5 1349.2,1357.2 1350.2,1350.9 1349.2,1346 1348.2,1338.8 1347.5,1332.6 1348.1,1324 1347.8,1317.2 1347,1310.2 1346.8,1304.2 1347.2,1296.2 1345.5,1289.2 1347.5,1282.1 1346.7,1275.2 1346.7,1268.1 1347.5,1260.1 1347.1,1251.1 1345.9,1244.9 1346.7,1237.7 1347.3,1228.8 1346,1221.9 1346,1213.9 1346.6,1206.1 1347.7,1199 1347.8,1190.1 1348.7,1184.1 1349,1176.4 1348.7,1169.6 1349.2,1161.6 1347.8,1152.8 1349.7,1147.5 1349.2,1138.8 1349.7,1133.2 1350.8,1124.5 1349.8,1117.7 1351.4,1111 1352.1,1104.7 1350.7,1098.2 1350.9,1092.9 1351,1085.5 1352.2,1078.4 1352.1,1074.7 1354,1067.5 1354.3,1063 1354.6,1057.1 1354.2,1051.3 1354.8,1046.4 1355.7,1040.4 1355.8,1037.1 1354.9,1032.9 1354.7,1027.5 1355.6,1024.8 1355,1020.7 1356.1,1017.4 1355.4,1013.4Z" fill="#1616d5"/>
<path d="M2216.9,1010.9 2213.1,984.8 2207.7,993.1 2201,1016.1 2198.1,1033.6 2192.7,1038.3 2190.6,1046 2188.1,1052.8 2185.3,1059.6 2185.2,1064.2 2182.1,1070 2180.3,1075.2 2177.9,1081.6 2176.3,1087.8 2173.5,1093 2172.1,1100.3 2169.8,1107.3 2165.6,1113.9 2164.3,1119.3 2163.5,1127.1 2160.2,1132.3 2158.9,1138.9 2155.8,1145.6 2153.6,1153.9 2151.8,1161.2 2149.8,1167.4 2148.8,1173.7 2146.3,1179.1 2144.3,1188.1 2140.5,1195.2 2136.1,1204.7 2135.2,1213.3 2131.2,1220 2129.4,1223.2 2131.7,1219.5 2130.6,1218.5 2133.4,1214.7 2133.3,1210.8 2135.9,1203.4 2138.5,1199.2 2138.5,1193.2 2141.6,1185.7 2142.5,1177.4 2146.6,1169.4 2147.5,1161.9 2150.8,1154.5 2153.6,1147.7 2155.9,1141.4 2158.5,1132.7 2159,1127.5 2160.8,1121.8 2162.5,1115.7 2163.7,1111.3 2164.8,1106.8 2166.7,1105 2165.8,1099.9 2163,1108.8 2159.7,1120.6 2156.6,1129.2 2153.8,1135.1 2151.5,1143.1 2149.5,1150 2147.5,1155.4 2146.9,1161 2145.2,1167.5 2141.9,1172.5 2140.8,1179.4 2135.6,1185.2 2129.4,1189.8 2125.9,1194.2 2127.2,1200.9 2129.6,1208.4 2125.6,1216.5 2122,1225 2123.8,1230.7 2125.5,1239.1 2124.3,1245.6 2122.5,1251.2 2119.6,1258.5 2116.2,1264.7 2114.9,1272.9 2111.8,1276.9 2108.5,1284.7 2112,1289.4 2117.5,1295.7 2119.5,1301 2118.5,1309 2118.2,1314.3 2114.1,1322.4 2111.6,1329.2 2109.2,1335.5 2106.2,1342.7 2107.5,1348.9 2107.3,1357.3 2107.3,1363 2107.1,1370.9 2105.6,1376.6 2101.9,1383.8 2100.2,1389.6 2096.3,1394.9 2093.6,1399.7 2088.3,1403.7 2083.6,1407.9 2080.1,1412.2 2074.5,1414.6 2065.3,1416.3 2059.3,1419.7 2046.1,1428.5 2056.7,1436.5 2059,1435.7 2063.8,1436.8 2066.8,1438.4 2072.2,1439.8 2078.8,1442.2 2084.5,1444.6 2089.6,1448.3 2097.9,1450.8 2104.4,1452.3 2111.4,1456.6 2119.4,1458.5 2126.5,1459.9 2132.6,1463.7 2140,1464 2148.4,1466.5 2156.5,1467.8 2164.3,1466.8 2169.6,1466.2 2176.6,1465.3 2184.5,1464.8 2189.4,1461.1 2196.1,1458.2 2200.9,1453.9 2204.3,1448.4 2209,1442.3 2212.5,1435.8 2212.8,1431.2 2214.6,1428.4 2215.4,1424.7 2215.7,1420.2 2217.9,1417.3 2218.7,1412.9 2219,1407.2 2220.7,1403.2 2220.3,1397.6 2220.8,1394.1 2221.5,1388.3 2221.3,1382.2 2222.2,1375.6 2222.8,1370 2224,1364 2224.9,1357.1 2225.2,1351.4 2225.4,1344.8 2224.4,1339.4 2225.5,1332.2 2225.4,1325.4 2226.7,1318.5 2226.8,1310.5 2225.3,1304.6 2226.7,1297.4 2225.7,1288.9 2227,1281 2225.1,1273.5 2225.4,1266.6 2225.5,1259.2 2224.6,1251.3 2225.6,1243 2225.4,1237.5 2225.7,1229.9 2226,1221.2 2223.8,1212.5 2224.9,1206.8 2224.1,1197.5 2224.9,1190.9 2224,1182.4 2223.9,1175.9 2224,1169.2 2222.2,1161.7 2222.5,1153.3 2222.3,1147 2222.2,1138.1 2222,1131.1 2220.5,1123.9 2221.1,1117.9 2219.9,1110.4 2221.7,1104.7 2221.6,1098.1 2221.2,1092.1 2219.5,1084.2 2218.6,1079.9 2219.6,1072.7 2218.1,1067.7 2219.6,1061.1 2219.5,1056.3 2217.3,1050.2 2218.2,1046.9 2216.8,1040.4 2216.4,1035.6 2216.4,1031.6 2216.2,1028 2216,1023 2216.2,1019 2215.2,1015.3 2214.9,1013.4Z" fill="#1616d5"/>
<path d="M2164.9,760 2168.4,765.7 2173,772.3 2171.4,778.2 2168.9,784.2 2171.8,789.1 2176.5,794 2181.3,799.3 2185.7,808 2190,815.6 2195,823.3 2197.8,828.9 2206.5,829.7 2205.9,825 2206.2,821.5 2207.6,814.9 2209.1,806.1 2208.1,799.9 2208.5,791.3 2210.3,783.2 2208.9,777 2209.4,770.4 2208,763.3 2204.9,758.9 2202.1,755.9 2194.8,755.5 2184.9,756 2176.8,755.7 2169.8,759.7Z" fill="#1616d5"/>
<path d="M1608.1,1211.2 1581.8,1207.6 1587,1201.1 1602.2,1192 1612.9,1186.5 1614.5,1179.9 1614.7,1172.5 1617.8,1166.1 1619.4,1160.2 1621.1,1153.5 1624.7,1146.6 1627.5,1141 1631.2,1134.5 1631.9,1127.9 1634.2,1122.2 1635.2,1114.9 1636.8,1109.1 1639.4,1100.3 1639.1,1094.8 1641.3,1090.3 1641.7,1082.4 1643.2,1077.4 1643.7,1070 1644.4,1063.3 1646.2,1057.6 1646.6,1051.8 1646,1044.7 1647.7,1039.7 1648.9,1031.6 1647.9,1025.3 1648.3,1020.2 1650.4,1013.9 1650.9,1004.8 1651.3,998 1651.9,992.4 1653.4,985 1654,978.9 1656,970.8 1656.7,963 1659.8,955.7 1662.6,951.6 1666.4,943.4 1668.9,939.6 1672.9,933.5 1678,928 1680.8,922.5 1686.2,916.2 1688.3,911.6 1693,906.1 1696.8,901 1700.8,895.4 1705.8,891.7 1710.5,889.7 1718.1,886.9 1721.7,884.8 1728,880.6 1731.2,876.6 1735.3,869.7 1740.1,865.2 1745.4,862.2 1752.9,858.5 1760.5,855.2 1768.6,852.4 1777.7,853.7 1787.3,854.6 1794.3,855.4 1803.5,856.4 1809.8,858.6 1817.4,861.9 1825.1,864.3 1829.1,865.4 1836.4,866.3 1840.4,870.8 1847.8,871.5 1852.4,876.2 1859.2,879.1 1866.3,882 1873.3,887.5 1878.4,891.7 1880.4,898.1 1885.1,903.9 1891.1,909.7 1899.4,912.2 1905.5,915.6 1908.6,922.4 1909.1,928 1911.4,932.7 1914.3,940.3 1915.9,944.5 1919.7,950.3 1922.7,958 1924.3,962.4 1927.1,967.6 1930.2,975.3 1932,980.1 1934.6,986.6 1937.5,991.1 1937.9,998.2 1941.1,1003.8 1942,1009.6 1943.6,1014.3 1945,1021.2 1947,1028.6 1949.7,1034.8 1950.3,1041.8 1951.4,1048.7 1952,1056 1954.9,1064.6 1955.8,1071 1955.8,1077.6 1956,1086.8 1957.5,1092.6 1958.1,1100.1 1958.3,1107.1 1959.3,1115.5 1961.1,1121.3 1960.8,1128.4 1962.7,1135.6 1962.3,1142.5 1963,1150.6 1962.5,1157 1964.2,1165 1964.4,1170.5 1965.6,1176.4 1969.2,1181.4 1974,1185.5 1985.7,1190.2 2001.4,1199.4 2006.7,1206.9 1981.3,1211.9 1976.7,1212.5 1974.6,1211.9 1971.3,1211 1967.3,1212 1962.2,1213.2 1956.9,1212.6 1951.8,1211.7 1949.2,1212.3 1942.8,1212.2 1938.7,1213.3 1932.9,1212.9 1926.2,1212.9 1920.6,1214.2 1914.5,1214 1907.6,1215 1900.5,1213.2 1895.5,1215.2 1889.3,1213.6 1882.7,1214.2 1874.9,1214.7 1868,1215.3 1861.5,1214.1 1854.3,1214.1 1846.5,1213.8 1839.1,1214.2 1832.5,1215.1 1823.6,1215.8 1815.5,1215.3 1809.2,1213.6 1801.2,1213.9 1795,1213.8 1786.6,1214.9 1777.8,1215.8 1771.3,1215 1763.1,1213.9 1755.8,1213.6 1748.1,1214.6 1741.2,1215.2 1733.3,1213.9 1727,1215 1719.4,1213.7 1711.9,1214 1705.6,1215 1698.5,1213.8 1693,1213.4 1684.8,1215.1 1680.5,1213.5 1672.7,1213.7 1666.4,1214.4 1662.1,1214.1 1655.2,1214.2 1651,1212.5 1645,1212.4 1640.6,1213.7 1634.3,1213.4 1629.4,1211.6 1625.4,1211.5 1621.1,1213.2 1617.5,1211.6 1612.9,1212.1 1610.2,1212.7Z" fill="#16afd5"/>
<path d="M1617.9,1211.4 1595,1206.7 1598.4,1200.4 1614.4,1192.5 1624,1185.5 1627.1,1180.1 1627.6,1173.2 1630.1,1167.9 1631.3,1162.1 1634.5,1155.9 1636.6,1151.1 1636.9,1143.7 1639.8,1139.7 1641.5,1133.5 1642.7,1128.9 1644.5,1121.9 1645.3,1116.6 1647.1,1109 1649,1104.5 1650.8,1098.2 1651.4,1090.5 1651.6,1084.7 1653.2,1078 1654.2,1071.1 1657.4,1064.5 1657.8,1056.4 1660.7,1049.6 1663,1044.7 1664.1,1036 1665.7,1030.1 1666.9,1022.7 1669.3,1016.5 1671.4,1009.3 1672.6,1003.6 1674.3,997.1 1675.3,989.9 1677.7,984.6 1680.6,979.3 1683,973.2 1684,967.9 1687.2,963.2 1691.3,955.9 1694.5,951 1699.3,947.5 1703.5,943.7 1708.3,940.2 1714.6,934.6 1720.8,930.4 1725.1,926.7 1732.6,923.9 1738.2,920.9 1742.1,917.3 1747.8,914.3 1755.4,911.7 1761.4,911.1 1769.2,908 1777,906.6 1786.6,908.6 1794.5,910.6 1800,911.7 1807.2,913.4 1812.6,915.4 1819.3,917.3 1825.2,920.7 1831.1,921.6 1836.2,924.4 1842.7,929.8 1846.2,932.8 1852.3,937.9 1860.2,943.9 1864.3,948.9 1868.6,953 1874.2,956.5 1880.2,963 1885.3,968.4 1889.3,973 1893.6,980.9 1897.8,986.8 1901.4,993 1904,999.6 1908.4,1005.7 1912.1,1013.7 1918,1021 1919.5,1025 1921.3,1031.2 1923,1036.8 1923.3,1043.6 1924.8,1048.9 1927.8,1055.9 1930.1,1061.4 1930.3,1066.7 1932.6,1072.8 1935.2,1078.5 1937,1084.1 1937.6,1088.8 1939.1,1095.7 1940.1,1101.4 1941.9,1106.8 1945.4,1115.6 1945,1122 1947.2,1128 1948.1,1136.3 1949.9,1143.9 1950.5,1151.6 1953.2,1157.8 1954.6,1166.3 1957.3,1172.7 1958.3,1179.2 1960.1,1186 1969.6,1192.3 1985.7,1200 1989.6,1206.4 1965.6,1211.9 1962.7,1211.6 1959.1,1211.5 1955.9,1213.1 1950.8,1212.7 1947.2,1212.9 1943,1212.5 1936.5,1212.6 1932.6,1213.4 1928.2,1213.6 1922,1213 1916.6,1212.7 1910.8,1213.7 1903.6,1214.3 1897.4,1215.1 1889.9,1213 1884.4,1213.5 1876.7,1215.4 1870.4,1213.8 1863,1213.8 1855.5,1213.6 1850,1215.1 1841.1,1213.7 1835.2,1215.6 1825.6,1215.6 1819.1,1215.9 1811.3,1214.6 1802.6,1214.9 1795.5,1215.7 1787.8,1215.7 1780.5,1215.5 1773.8,1215.8 1765.8,1214.4 1757.5,1214.1 1749.7,1214.2 1742.7,1215.4 1734.6,1214.6 1728.6,1213.7 1721.8,1213.7 1714.9,1213.5 1708.3,1213.8 1699.6,1213.3 1693.1,1213.2 1686.9,1215.1 1680.7,1213.6 1675.4,1212.7 1667.8,1214.4 1662.6,1212.6 1656.7,1213.8 1653.2,1212.8 1647.5,1212.8 1641.4,1212.3 1637.1,1212 1633.8,1211.4 1628.8,1212.7 1624.2,1213.1 1622.1,1212.1Z" fill="#16c9d5"/>
<path d="M1638.2,1210.8 1618.4,1208 1620.4,1200.9 1635,1191.6 1644.9,1184.5 1646.8,1179.9 1646.7,1171.8 1648.7,1166.7 1649.4,1159.9 1651.5,1153.5 1653.9,1147 1657.3,1141.7 1660.7,1137.3 1662.6,1130.5 1664.8,1124.3 1666.6,1119 1668.8,1113 1672.2,1108.5 1674.2,1102.4 1675.5,1094.6 1677.6,1089.7 1681.2,1084.3 1683.9,1078.7 1684.8,1071.5 1688.1,1065.9 1691.9,1061.3 1694,1055.3 1697.4,1049.5 1700.5,1044.3 1705.2,1037.8 1709.6,1031.2 1712.9,1026.4 1715.7,1019.6 1720.2,1015.6 1722.9,1009.9 1728.6,1002.4 1731.7,997.3 1735.8,990.4 1740.5,986.4 1746.8,981.1 1750.7,975.5 1754.4,971.4 1760.7,969.6 1765,966.2 1770.9,965 1777.1,963.1 1786.9,961.2 1795.1,962.4 1800.2,963.6 1805.8,966.3 1813.7,968.5 1818.2,971.8 1823.5,976.3 1830.4,979 1834.7,983.6 1840.2,988.1 1845.3,993.4 1850.1,999.2 1854.1,1006.2 1860,1012.7 1861.8,1017.2 1866.1,1021 1869.9,1028 1872.2,1032.5 1877.4,1039.6 1880.9,1044.8 1885.8,1051.4 1888.9,1057.4 1891.1,1062.9 1896.8,1068.8 1900.4,1074.6 1903.5,1080.2 1905.8,1087.1 1908.4,1093.9 1910.3,1099.8 1914.1,1105.2 1916.2,1111.4 1920.2,1115.9 1921.9,1122.7 1925.7,1128.8 1929.5,1134.1 1932,1138.6 1934.9,1145.5 1936.3,1150.9 1939.1,1157.9 1943.5,1165.9 1946.3,1171.4 1949.9,1177.5 1950.9,1185.3 1960.2,1192.8 1975.7,1200.3 1978.3,1206.9 1956.9,1211.6 1954.3,1210.9 1951.6,1212.7 1947.6,1211.2 1942.2,1213 1939.2,1212.9 1934.9,1212.6 1928.3,1213 1923.3,1212.9 1919,1212.9 1913.2,1213.7 1905.7,1213.7 1901.6,1214.2 1895.3,1214.3 1889.3,1212.9 1881.3,1213.4 1875.3,1213.8 1868.2,1214.7 1859.7,1214.7 1853.3,1213.9 1846.9,1214.9 1838.5,1215.1 1830.8,1213.6 1825.3,1215.7 1818,1215.9 1810,1214.9 1802,1214.9 1795.4,1215.9 1786.7,1214 1779.4,1214.6 1772.6,1215.7 1764.7,1213.7 1757.1,1213.7 1749.8,1215.3 1742.9,1214.4 1734.6,1215.5 1729.3,1214.3 1720.4,1214.7 1714.5,1213.9 1707.9,1213.5 1700.9,1214.3 1695.5,1213.6 1690,1213.7 1682.7,1213 1678,1213.8 1672.8,1213.8 1667,1213.7 1662.6,1212.2 1656.8,1212.9 1654.2,1213.5 1650,1213 1645.7,1211.4 1641.6,1212.6Z" fill="#16d5c9"/>
<path d="M1641.3,1211.5 1623.6,1204.4 1643.9,1197.1 1647,1191.6 1646.9,1183.3 1651.1,1176.7 1653,1171.2 1655.8,1165.1 1656.9,1158.9 1661.5,1151 1665.4,1145.4 1667.6,1139.9 1671.1,1133.9 1673.2,1128.4 1677.6,1120.5 1680.9,1114.6 1684,1109.8 1688,1102.3 1690.3,1098.2 1694.7,1090.4 1698.4,1084.7 1700.8,1079.8 1704.8,1072.8 1710.3,1069.1 1713.1,1063 1717.4,1055.7 1721.3,1050 1727.3,1046.6 1729.9,1039.4 1734.3,1034.5 1739.4,1028.6 1745.5,1023.4 1750.1,1018.8 1755.5,1014.2 1760,1012.2 1766.4,1007.8 1773.9,1006.7 1780.3,1003.2 1787.5,1004.1 1794.2,1003.9 1801.6,1004.4 1807.7,1007.6 1815,1010.9 1819.5,1013.3 1826.2,1017.1 1830.5,1022.8 1836.7,1025.3 1841.1,1029.8 1847.8,1035 1851.9,1041.9 1857.2,1046.1 1860.6,1051.6 1866.2,1055.9 1869.1,1061.9 1874.2,1068.6 1878.2,1072.8 1882.5,1078.3 1885.1,1083.6 1890.3,1090.6 1894,1096.3 1897.3,1101.2 1902,1107.5 1905.5,1114.6 1909.2,1120.1 1912,1125.3 1915.7,1130.5 1919.8,1136.8 1923.5,1143.9 1927.7,1148.2 1931,1154.1 1936.5,1160.2 1940.4,1166.3 1943.4,1171.8 1947.2,1177.9 1948.5,1183.6 1952,1189.9 1952.1,1198.1 1974.6,1205.4 1956.2,1211.3 1952.9,1210.5 1949,1212.9 1945.5,1211.5 1941.5,1213.1 1936.7,1211.9 1932.8,1213.1 1926.4,1212.7 1921.4,1212.1 1917.1,1212.2 1911.6,1212.5 1905.6,1211.8 1898.3,1211.6 1893.1,1213.7 1885.7,1212.8 1880.2,1212.7 1871.8,1212.1 1866.3,1213.8 1858.3,1213.6 1851.8,1213.5 1842.8,1213.5 1837.3,1213.1 1828.8,1213.5 1820.7,1212.5 1814.4,1214.4 1805.5,1213.6 1798.9,1212.1 1790.5,1212.8 1784.2,1212.3 1775.9,1213.5 1769.3,1214.4 1762.1,1212.4 1754.1,1213.4 1746.8,1213.3 1739.2,1212.4 1732.8,1213.9 1725.9,1213.4 1719.7,1212.3 1712.2,1213.7 1705.8,1211.6 1699.2,1213.5 1692.3,1212.4 1688.2,1212.5 1681.4,1212.7 1676.7,1212.3 1671.6,1212.8 1665.4,1212.5 1660.4,1211 1656.4,1210.9 1651.8,1212.7 1649.6,1211 1644.2,1211.3Z" fill="#16d5af"/>
<path d="M1644.6,1210.7 1624.6,1205.9 1627.6,1199.2 1641.6,1191.3 1650.5,1186.3 1652.6,1177.7 1656.6,1172.8 1662.5,1164.6 1667,1158.8 1670.4,1154.4 1675.2,1146.9 1678.4,1141.3 1684.9,1137.2 1687.7,1129.2 1692.8,1123.8 1697.8,1119.9 1701.8,1114.3 1706.2,1109.4 1709.6,1104.2 1713,1099.1 1718.4,1094.7 1723.6,1088.2 1727.7,1083.4 1731.8,1077.2 1735.2,1073.1 1740.7,1070.2 1744.9,1065.5 1749.2,1060.2 1754.1,1056.7 1761.1,1052.5 1766.7,1049 1771.6,1046 1777.7,1044.9 1782.7,1044.7 1791.2,1044.9 1800.6,1047.6 1806.3,1046.9 1813,1049.6 1819.1,1052.7 1824,1056 1830.4,1059.2 1835,1064.3 1841.7,1067.3 1846.5,1073.1 1852.1,1078.4 1857.2,1082 1862.4,1087.3 1865.1,1091.4 1871.7,1096 1876,1100 1878.5,1105.3 1882.9,1110.1 1887.3,1116 1892.9,1121.7 1895.4,1126.8 1901.2,1130.6 1904,1137.1 1908.7,1140.8 1913.4,1147.3 1919.3,1152.7 1923.4,1157.4 1927.1,1160.1 1931.2,1164.9 1935.3,1169.1 1939.5,1172.8 1944.5,1180 1948,1185.5 1958.5,1190.4 1972,1199.3 1974.1,1207.4 1955.1,1210.6 1952.4,1212 1948.1,1211.3 1942.8,1212.7 1940.2,1211.7 1934.1,1212.9 1930,1212.5 1926.3,1213.2 1919.2,1213.7 1915.1,1213.6 1909.9,1213.5 1903.2,1212.7 1896.1,1213.4 1890,1214 1882.6,1214.6 1875.7,1213.6 1870.1,1213.2 1862.5,1215.2 1856.3,1214.2 1847.6,1215.2 1842,1213.6 1833.4,1214.8 1826.6,1214 1819.3,1215 1811.7,1215.8 1803.8,1215.2 1795.3,1214.2 1787.8,1215.5 1780.8,1214.2 1774,1214.8 1766.6,1215 1758.6,1214.3 1751.9,1214.5 1743.8,1214.3 1736.3,1213.6 1728.9,1214.1 1722.9,1213.4 1714.8,1214.5 1708.9,1214.9 1701.4,1213.7 1697.1,1214.3 1690,1213.6 1684.3,1212.2 1678,1212.6 1674.6,1212.3 1668.1,1213 1664.3,1213 1658.9,1212.1 1654.1,1212.9 1651.1,1211.5 1647.2,1211.8Z" fill="#16d590"/>
<path d="M1655.5,1211.1 1635.7,1205.9 1640.3,1199.2 1652.3,1192.9 1661,1185.3 1664.6,1178.1 1668.2,1173.6 1674.1,1167.5 1677.3,1165.2 1682.4,1160.2 1686.3,1157 1693,1151.5 1697.7,1147.5 1701.5,1142.3 1705.7,1138.2 1710.4,1134.9 1716.8,1128.9 1720.7,1124.2 1724.9,1118.1 1730,1113 1733.3,1107.8 1737.4,1101.5 1742.2,1096 1746.2,1090.2 1749.5,1085 1755.8,1081.5 1759.3,1075.8 1766.5,1072.8 1773.2,1070.7 1776.8,1067.8 1784.8,1065.6 1790.5,1063.6 1798.4,1064.9 1807.5,1067.3 1813.4,1068.8 1819.1,1072.4 1825.3,1075.1 1830.2,1079.9 1836.4,1083.4 1840.7,1086.2 1846.9,1091.8 1852,1096.6 1858,1100.8 1862.7,1106.3 1868.1,1112.4 1871.3,1115.6 1877.1,1122 1881.6,1127.4 1884.1,1131.8 1888.6,1137.1 1893.1,1142.9 1898.9,1145.9 1903.5,1152.2 1906.4,1156.2 1912.1,1160 1916.6,1164.9 1923.4,1169 1928.3,1172.9 1932.9,1178.1 1938.3,1181.1 1942.7,1186 1951.4,1190.6 1965.3,1198.6 1967.6,1206.4 1948.6,1212.5 1945.9,1211.6 1941.8,1212.3 1937.1,1211.8 1934,1213.6 1929.4,1212 1925.4,1213.7 1918.5,1212.8 1912.6,1214 1907.3,1214.3 1902.6,1214.3 1896.1,1213.2 1888.4,1214.2 1881.8,1214.1 1876.9,1213.3 1869.1,1214.4 1861.4,1213.7 1855.3,1213.7 1846.9,1213.9 1841.4,1215.6 1831.9,1214.9 1825.1,1213.6 1817.1,1215.1 1808.9,1215.9 1801.9,1214.4 1795.9,1213.9 1786.3,1214.7 1779.2,1214.3 1772.3,1215.8 1764.4,1213.5 1756.9,1215.4 1749.7,1213.4 1742.1,1213.8 1735.3,1213.9 1729.1,1214.7 1720.9,1213.2 1716.2,1214.9 1709.7,1213 1703.3,1212.6 1697.3,1212.8 1692,1214.2 1685.7,1213.7 1681.7,1213.9 1676.1,1213 1670.8,1213 1666.1,1212.2 1662,1211.1 1659.9,1211.6Z" fill="#16d56a"/>
<path d="M1664.3,1212.6 1666.6,1201.8 1669.3,1191.2 1673.9,1183.3 1680.1,1174.6 1687.3,1169.2 1694.9,1160.9 1700.6,1154 1707.7,1148.7 1714.9,1141.2 1723,1135 1728.9,1127.6 1737.8,1119.2 1743.3,1113 1750.2,1106.3 1759.1,1098 1766.1,1092.1 1775.2,1088.4 1785.8,1086.2 1795.6,1085.7 1805.1,1086.4 1813.9,1089.5 1822.1,1095.9 1832,1099.5 1839,1105.8 1847.2,1112.4 1854,1119.6 1861.5,1126.5 1869.1,1134.1 1875.7,1140.3 1883.3,1146.5 1888.7,1155 1897.9,1161.1 1906,1165.9 1914.4,1172.7 1922.8,1178 1930.9,1182.3 1933.3,1192.1 1936.7,1201.5 1937.5,1212.4 1934.3,1212.6 1931,1212.2 1927.9,1211.2 1922.9,1211.3 1918.8,1211.5 1913.8,1211.6 1907.5,1212.6 1902.3,1213.3 1896.8,1211.7 1891.5,1213.3 1884.3,1213 1877.7,1213.7 1871,1211.4 1863.4,1212.7 1857.8,1212.1 1850.2,1212.4 1842.8,1211.9 1835.8,1213.1 1827.1,1213.6 1820.1,1212.7 1812.5,1213.2 1805.3,1212.9 1797.7,1212.8 1789.3,1213.9 1782.6,1212.3 1776.1,1212.2 1768.5,1212.5 1759.5,1212.8 1752.6,1211.9 1747.1,1213.7 1738.8,1213.3 1732.4,1212.1 1724.4,1212.7 1718.1,1213 1712.8,1211.7 1707.1,1213.4 1700.6,1213.4 1694.9,1211 1689.7,1211.7 1685.8,1212.1 1681.2,1211.1 1675.5,1210.7 1670.7,1212.2 1667.1,1211Z" fill="#16d516"/>
<path d="M1673.5,1212.5 1655.8,1205.5 1659.7,1200.2 1669.8,1193.2 1680.3,1186.5 1683.7,1181.2 1687.9,1176 1692.9,1172.7 1697.3,1168.7 1701.6,1166 1707.9,1160 1711.9,1156 1716.6,1152.3 1722.2,1148.6 1725.8,1144.4 1731.4,1139.6 1734.7,1135.9 1740.5,1132.1 1745.3,1128 1748,1124.6 1753.2,1119.6 1759.3,1116.7 1763.5,1112.3 1769.2,1110.1 1776,1107.7 1782,1104.2 1788.4,1105.1 1798.8,1104.1 1806.4,1106.9 1813.5,1109.4 1818.7,1111.5 1823.1,1115.3 1829.4,1119 1835,1123.5 1839.7,1127.7 1845.5,1131.4 1848.5,1134.4 1853.7,1139.2 1859.6,1142.5 1863.7,1147.8 1870.1,1152.1 1874.8,1157.2 1880.4,1161.8 1884.7,1164.4 1892.7,1168.5 1898,1172.6 1905.4,1177.1 1910.7,1179.3 1917.9,1181.8 1921.6,1186 1930.4,1191.1 1941.6,1199.9 1945.8,1207.2 1928.4,1210.6 1924.9,1210.8 1920.6,1212.8 1916.4,1212.1 1912.1,1213.3 1909.6,1211.8 1903,1214.3 1897.4,1212.9 1893.5,1214.5 1886,1214.1 1880.8,1213.5 1872.5,1213.7 1867.4,1215.3 1860,1214.1 1852.8,1214.7 1844.8,1215.5 1839.7,1213.5 1830.1,1214.2 1822.9,1215.4 1817.1,1214.9 1809.7,1214.1 1800.3,1214.5 1793.3,1214 1786.8,1215.3 1777.8,1214.1 1770.3,1214.4 1763.7,1215.3 1757.2,1213.5 1748.2,1214.1 1743,1214.2 1735.6,1215 1728.3,1213.7 1722.6,1214.2 1716.9,1213.2 1710.8,1213.5 1704.9,1213.7 1698.8,1214 1692.6,1212.4 1688.8,1213.4 1683.7,1213.1 1679.5,1211.8 1676.8,1212.3Z" fill="#6ad516"/>
<path d="M1694,1212.4 1696,1204 1697.2,1196.8 1699.7,1189.4 1702,1183.5 1706.9,1179.5 1713.7,1173.5 1718.8,1170.5 1725.8,1164.2 1731.5,1159.2 1737.4,1155.2 1743,1149.8 1748.1,1147.3 1754.2,1141.8 1758.7,1137 1766.9,1134.6 1771.4,1129.4 1779.3,1127.2 1785.6,1126.9 1792.6,1125.9 1800.6,1125.8 1808.7,1128.8 1815.2,1129.8 1822,1134.8 1826.3,1137.1 1834.1,1142.9 1839.6,1147.4 1844.3,1150.4 1851.9,1156.2 1856.3,1160.2 1862.6,1165.1 1868.4,1168.7 1875.4,1173.6 1880.8,1177.5 1886.8,1180.8 1892,1184.7 1897.2,1188.9 1898.7,1196.7 1900.3,1204.3 1903.3,1212.4 1898.5,1210.7 1894.2,1212.6 1891.5,1212.4 1887.1,1211.7 1880.2,1211 1875.2,1212.7 1868.5,1212 1862.3,1211.5 1856.9,1212.6 1851.1,1211.8 1842.4,1211.3 1835.1,1211.2 1827.3,1211.4 1821.1,1212.3 1814.4,1212.4 1804.8,1211.6 1798.6,1213.6 1791,1211.8 1782.4,1212.3 1775.1,1211.9 1766.9,1211.2 1761.3,1213.5 1754.4,1212 1746.7,1211.6 1738.5,1211 1732.6,1212.9 1726.8,1211.5 1720.8,1212.1 1714.5,1211.8 1711.1,1211.8 1706.5,1212.3 1700.2,1212.7 1697.7,1211.5Z" fill="#90d516"/>
<path d="M1713.4,1211.9 1702.7,1206.5 1704.8,1199.2 1714.7,1192 1720,1185.8 1724.4,1181.3 1728.7,1176.8 1735.1,1175.4 1741.1,1171 1744.9,1167.5 1749.5,1163.4 1756.3,1160.9 1759.5,1155.8 1766.3,1153.3 1773.1,1149.2 1777,1147.8 1785.1,1145 1791,1145.6 1797.9,1144.2 1804,1146.6 1811.9,1148.1 1818.8,1151.4 1824.1,1153.8 1831.1,1157.2 1836.4,1162.2 1841.6,1165.6 1848.4,1169.6 1852.7,1172.8 1860.3,1178 1864.5,1179.7 1870,1184.3 1876.7,1192.4 1885.1,1199.2 1888,1206 1875.8,1211 1873.3,1211.9 1868.3,1212.4 1865.8,1213.7 1860,1214 1854.2,1213.5 1848.8,1213.1 1842.2,1214 1834.9,1214.2 1827.7,1214.8 1820.4,1214.4 1812.9,1214.8 1805.6,1215.5 1797.8,1215.5 1791,1215.9 1783.5,1213.9 1776.9,1214 1769.9,1214.5 1761.4,1214.6 1754.4,1213.7 1747.4,1213.4 1741.5,1213 1736,1213.4 1731,1213.3 1726.2,1213.1 1721.2,1213.3 1716.6,1211.4Z" fill="#afd516"/>
<path d="M1747.7,1212.5 1743.5,1206.5 1745,1199.9 1750.6,1193.5 1754.3,1186.4 1759.1,1184.6 1765.3,1180.9 1770.7,1179.3 1778.9,1178 1785.5,1177.8 1792.5,1176.7 1798.1,1175.4 1805.8,1176.8 1812,1175.8 1818.7,1178.7 1823.5,1179.2 1830.8,1180.6 1836,1182.6 1841.4,1185.7 1847.3,1192.3 1851.5,1199.2 1853.2,1207 1847.8,1211.4 1844.4,1212.4 1840,1213.4 1834.5,1212.3 1827.2,1212.9 1821.6,1213.4 1814.5,1214 1805,1215 1797.4,1214.3 1790.2,1214.9 1782.8,1214.8 1776.2,1215.3 1768.9,1213.6 1762.4,1213 1757.7,1213 1752.9,1213Z" fill="#c9d516"/>
<path d="M1628,1174.4 1623.7,1167 1620,1161.5 1614.3,1157.7 1606.4,1157.4 1600.4,1157.3 1593.2,1156.3 1584.6,1159.3 1577.3,1159.7 1570.5,1163.6 1563.4,1164.7 1557.1,1168.8 1549.8,1171.7 1544.8,1173.1 1539.3,1173 1530,1176.7 1523.8,1180.7 1518.1,1185.5 1513.5,1188.3 1508,1192.5 1501.4,1195.8 1496.4,1199.3 1493.7,1203.3 1494.3,1209.1 1494.3,1218 1497.1,1225.1 1498.7,1230 1502.8,1237.7 1505.5,1245.1 1502.6,1251.8 1497.3,1259.7 1495.1,1264.7 1491.5,1273.3 1489,1279.3 1489.5,1285.6 1491.5,1290.9 1496.9,1297.7 1500.5,1302.9 1504.4,1307.3 1506.9,1315.3 1509.8,1323.5 1511.2,1328.7 1514.7,1335.5 1515.2,1343.7 1511,1349.6 1506.7,1354.4 1504,1361.5 1504.7,1366.6 1506.5,1373.8 1508.7,1379.7 1513.5,1383.4 1519.3,1386.6 1524.1,1391.6 1528.8,1393.9 1535.6,1396.2 1540.9,1398.5 1546.4,1399.2 1555.1,1398.3 1561,1398.7 1567.3,1398.9 1574.3,1398.8 1582.9,1399 1588.7,1399.8 1596.2,1398.6 1602.7,1399.1 1606,1399.2 1617.2,1407.4 1623.9,1415.6 1628.3,1400.4 1628.6,1395 1628,1392.4 1628.2,1387.3 1629.1,1382.5 1628.5,1378.3 1630.9,1372.8 1631.2,1367.8 1630.9,1362.4 1631.1,1355.6 1631.3,1349.2 1632.7,1340.6 1633.2,1333.7 1632.9,1326.6 1633.5,1320.2 1632.4,1313.7 1633,1306.4 1633.6,1298 1634,1290.8 1634,1282.6 1633.9,1274.6 1633.8,1266.8 1634.3,1260.3 1634,1251.6 1635.9,1245.5 1633.7,1238.9 1635.2,1231.3 1635.5,1224.4 1633.2,1216.6 1632.7,1211.4 1633.4,1206.2 1631.7,1198.7 1631.1,1194 1632.4,1190 1629.5,1185 1628.9,1179.9 1628.2,1176.2Z" fill="#16afd5"/>
<path d="M1627,1185.6 1622.8,1173.6 1614.9,1188.1 1608.5,1187.3 1602.1,1189.2 1593.7,1190.7 1588.3,1192.6 1581.9,1192.9 1574.8,1197.4 1570.9,1201 1564.9,1205.4 1560.4,1209.5 1557.7,1215 1556.7,1220.3 1556,1226.6 1559.1,1233.2 1559.9,1239.7 1556.1,1246.7 1550.3,1252 1546.1,1257.7 1540.3,1263.4 1535.1,1267.1 1531,1270.4 1525.3,1278.5 1523.6,1284 1520.8,1290.5 1516.6,1299.4 1514.4,1306.5 1513.9,1312.7 1514.7,1320.1 1519.9,1327.6 1524.8,1330.3 1529.9,1336.2 1535.2,1338.6 1541,1342.7 1545.2,1347.8 1551.4,1351.9 1555.7,1354.5 1559.9,1361.3 1565.2,1367.6 1570.2,1374.3 1573,1381.5 1575.9,1389.8 1581.3,1394.2 1587.3,1395.4 1594.1,1396.2 1598.8,1396.3 1606.3,1396.9 1611.1,1397.7 1622.4,1410.7 1628.7,1395.7 1628.2,1394.4 1627.2,1389.6 1627.4,1386.6 1628.2,1381.7 1627.9,1376.1 1629.2,1370.1 1628.2,1363.8 1629.2,1358.5 1628.2,1352 1628.6,1344.9 1629.3,1338.2 1628.5,1331.7 1630.4,1325.4 1628.6,1318.4 1630.3,1309.8 1630,1303 1629.4,1296.2 1629.7,1288.1 1630.3,1280.1 1628.3,1271.6 1629.7,1265.3 1630.1,1259.2 1628.5,1250.2 1629.2,1242.8 1628,1236.1 1628.3,1230.4 1628,1224.7 1629.2,1219 1628.6,1213.1 1629.1,1207.6 1627.8,1202.3 1628.8,1196.9 1627.6,1192.1 1628,1188.6Z" fill="#16c9d5"/>
<path d="M1627.4,1195.8 1621.3,1187.2 1614.3,1200.2 1609.4,1202 1602.3,1205.7 1597.5,1208.7 1592.3,1213.5 1587.7,1218.6 1587.2,1225.8 1587.5,1229.9 1589.7,1236.4 1591.3,1243.7 1589.6,1248.2 1586,1252.5 1581,1258 1575.5,1262.1 1571.4,1266.9 1565.4,1270 1560.8,1275.1 1554.1,1282.3 1551.1,1287.5 1545.3,1292.2 1542.4,1297 1539.2,1301.3 1543,1306.8 1549.4,1311.3 1555,1316.1 1560.2,1320.1 1565,1323.8 1571.8,1328.1 1576.2,1332.8 1580.5,1336.6 1587.8,1339.7 1592.6,1344.7 1596.9,1347.7 1601,1353.8 1604,1359.4 1607.6,1364 1614.5,1370.3 1620.8,1382 1627.7,1370.1 1627.3,1366.9 1628,1363.2 1628.9,1358.4 1628,1355.1 1629.3,1348.9 1629.7,1344.3 1628.9,1336.8 1628.1,1331.2 1627.9,1324.3 1628.3,1316.2 1629.3,1309.5 1628,1301.6 1629.8,1294.7 1629.8,1287.7 1627.9,1279.5 1629.4,1271.8 1628.2,1266.2 1628.6,1258 1628.8,1251.6 1628.3,1242.3 1629.2,1237.2 1629.5,1229.3 1627.8,1224.1 1627.9,1217.5 1627.4,1211.9 1628,1207.2 1626.8,1202.7 1628.2,1200.2Z" fill="#16d5c9"/>
<path d="M1627.2,1217.8 1620.5,1210.2 1615.7,1218.6 1609.5,1226.2 1606.6,1234 1606.2,1242.4 1604.3,1248.8 1602,1255.6 1598.2,1260.9 1594.2,1266.5 1588.4,1271.2 1583.3,1276.1 1578.4,1281.4 1581.6,1287.9 1587.4,1296.5 1590.4,1301.9 1595.8,1306.3 1598.5,1312 1602.3,1319 1606.1,1324.2 1614.4,1331 1621.9,1336.9 1627.9,1330.1 1626.7,1326.3 1628.7,1322.6 1629.5,1315.3 1628.7,1310 1628.7,1304.4 1628.8,1296.6 1629.7,1289.9 1629.3,1281.3 1628.2,1273.1 1628.4,1266.2 1629.5,1257 1629.2,1251.3 1629.7,1243 1628.3,1236.7 1628.2,1231.7 1629,1226.1 1629.1,1219.7Z" fill="#16d5af"/>
<path d="M1628.6,1242.4 1616.7,1245.6 1611.5,1248.2 1606.8,1252.8 1600.9,1257.9 1603.6,1265.2 1606.9,1270.8 1609.2,1277.2 1614.3,1281.6 1617.7,1287.3 1627.2,1285.8 1628.8,1282.4 1628.3,1274.6 1628.4,1268.8 1628,1260.5 1629.2,1252.8 1627.3,1247.4Z" fill="#6ad516"/>
<path d="M1628,1296.9 1618.3,1296.4 1614.2,1301.4 1611.7,1308.1 1607.5,1315.7 1607.8,1322.9 1608.2,1329.6 1614.3,1333.7 1618,1338.2 1627.8,1337.1 1627.1,1333.7 1628.3,1326.3 1629.7,1318.1 1629.2,1309.4 1629,1302.7Z" fill="#6ad516"/>
<path d="M1946.4,1184.6 1948.7,1167.9 1953.4,1168.2 1962.4,1178.6 1972.2,1183.3 1975,1182.5 1982.9,1183.4 1988.5,1182.1 1994.7,1181.9 2002.6,1179.2 2010.3,1179 2017.2,1178.9 2022.6,1178.8 2028.2,1177.9 2033.6,1179.2 2039.5,1184.3 2038.8,1191 2037.9,1200 2036.1,1206.3 2034.7,1213.5 2033.2,1220.7 2030.7,1225.8 2028.2,1231.8 2026.9,1238.5 2027.8,1245.5 2030.5,1251.5 2035.1,1256.2 2038.9,1261.1 2042.9,1265.5 2047.6,1271.8 2053.2,1278.2 2058.4,1284.2 2064.8,1288.4 2070.2,1291.6 2074,1296.9 2078.2,1302.9 2081.7,1311.4 2083,1317.9 2081.9,1322.7 2077.1,1329.8 2073.3,1335.4 2071.7,1341.6 2070.3,1347.9 2068.1,1353.5 2069,1359.6 2070.2,1367.6 2073.4,1374.5 2072.7,1380.6 2071.1,1387.8 2068,1394.1 2064.6,1399.5 2061.5,1407 2061.4,1414.3 2052.4,1419.6 2048.6,1421.2 2045.3,1421.2 2038.5,1422.5 2032.8,1422.4 2024.8,1423.6 2017.7,1423.6 2011.2,1424 2004.8,1423.7 1995.9,1424.1 1990.9,1425.3 1982.7,1423.9 1977.6,1425.5 1974.1,1424.2 1963,1431.9 1955.3,1440 1950,1441.5 1946.4,1424.1 1944.8,1421.3 1945.5,1418.7 1944.5,1414.1 1943.6,1409.8 1942.8,1405.3 1944.7,1399.5 1943.3,1394.3 1942.9,1389.4 1942.3,1382.3 1943.3,1376.6 1942.2,1368.6 1943,1361.9 1943.2,1354.7 1943.2,1349.6 1942.2,1342.5 1942.8,1334.7 1941.5,1325.9 1941.1,1318.5 1942.5,1312.4 1943.1,1304.1 1941.7,1297.7 1942.8,1290.5 1941,1282.9 1942,1275.2 1941.6,1267.2 1943,1260.5 1943,1251.9 1943.6,1244.9 1943.5,1239.4 1943.2,1232.1 1943.8,1227.1 1942.7,1221.4 1943.3,1215.5 1943.1,1208.9 1943.3,1202.9 1943.4,1198.3 1944.5,1194.7 1943.8,1191.6 1945.4,1187Z" fill="#16afd5"/>
<path d="M1944.9,1183.5 1950.2,1167.6 1954.4,1170.3 1961.3,1178.9 1970,1184.2 1975.2,1183.5 1981.2,1185.2 1990,1185.3 1996.3,1184 2003.8,1186.3 2011.6,1184.6 2019.1,1187.5 2024.3,1186 2029.6,1188.2 2031.5,1188.7 2033.1,1194.6 2028,1204.9 2025,1209.9 2022.8,1217.1 2022.5,1224.3 2024,1230.5 2024,1238.8 2027.4,1244.3 2030.6,1250 2035.8,1255.1 2039.7,1261.3 2042.7,1264.8 2046.7,1271 2048.9,1278.8 2049.9,1284.9 2048.3,1289.5 2044.8,1298.4 2043.9,1303.8 2040.3,1310.2 2039,1316 2037.7,1322.7 2038.8,1327.4 2042.4,1334.5 2041.7,1340.1 2041.3,1347.2 2036.7,1355 2032,1360.6 2030.3,1368.7 2030.4,1375.6 2027.9,1381 2024.2,1385.7 2018.9,1391.3 2013.9,1394.8 2007.6,1399.4 2001.8,1401.1 1995.5,1403.5 1989.3,1407.3 1982.2,1408.2 1976.5,1409.8 1970.7,1414.7 1962.8,1420.8 1954.4,1426.8 1948.9,1424.7 1945.8,1410.5 1943.9,1406.3 1944.2,1402.2 1943.7,1399.1 1943.8,1393.8 1942.7,1388.9 1943.7,1382.4 1942.7,1377.1 1943,1370.6 1943.8,1365.1 1943.5,1357.7 1942.9,1353 1942.1,1344.7 1942.4,1337.4 1941.4,1331.6 1942.3,1323.2 1941.8,1316.4 1942.4,1307.6 1941.4,1300.3 1940.8,1292.7 1941,1285.6 1941.6,1277.2 1941.4,1269.6 1941.5,1263.7 1942.2,1255.6 1942,1249.4 1942.8,1240.5 1943.2,1233.4 1944.1,1228.6 1942.4,1221.5 1944.3,1216.4 1944.3,1210.2 1943.1,1205 1944.3,1198.8 1943.4,1195.1 1945.7,1190.4 1945.4,1186.1Z" fill="#16c9d5"/>
<path d="M1946.3,1192.4 1950.1,1178.5 1958.6,1179.9 1967.2,1187.4 1973.1,1193.1 1983,1195.5 1989.5,1196.6 1996.8,1199.3 2001.3,1204.8 2005,1211.4 2006.7,1218.9 2007.9,1226.6 2006.5,1232.7 2006.4,1238.4 2006,1244.2 2009.4,1251.8 2010.9,1259.4 2014,1266.1 2019.4,1271.2 2025.2,1277.9 2028.6,1283.4 2027.1,1289.6 2023.7,1294.1 2019.6,1301.1 2016.2,1306 2016.1,1313 2014.2,1320.1 2012.2,1327.2 2008.3,1334.2 2004.6,1342.2 2001.8,1347.1 2000.5,1354.2 1999.2,1362.7 1997.7,1368.6 1994.3,1375.1 1990.8,1380 1987.4,1384.5 1975.9,1388.8 1971.7,1393.6 1963.6,1399.9 1957.2,1404 1949.5,1401.3 1944.9,1389.5 1944.8,1385 1943.7,1382.5 1943.4,1376.6 1943.8,1371.4 1943.2,1366.4 1944,1361.5 1942.8,1355.2 1941.4,1349.7 1943.4,1341 1942.3,1335.9 1942.9,1329.1 1942.9,1321.6 1941,1314.3 1942.9,1305.9 1942.6,1297.2 1941.5,1289.2 1941.7,1283.6 1942.3,1274.6 1941.4,1266.4 1941.8,1259.1 1942.1,1252.4 1942.1,1245.3 1942.3,1238.1 1942.7,1232.2 1943.9,1225.2 1943.8,1218.5 1942.7,1212.8 1943,1208.6 1945.2,1203.4 1943.9,1197.8 1945.6,1194.9Z" fill="#16d5c9"/>
<path d="M1944.5,1184.9 1952.4,1172.5 1961.9,1177.4 1969.5,1184.8 1972.9,1187.2 1977.9,1193.4 1980.5,1198.6 1985.5,1206.9 1987.7,1214.1 1989.9,1220.6 1984.6,1226.8 1981.7,1235.8 1982.6,1240.2 1983.7,1247.1 1984.6,1254.1 1986.5,1259.8 1989.4,1270.8 1986.2,1277.5 1982.5,1285.5 1978.8,1293.6 1978.9,1302.5 1977.6,1308.7 1979.8,1316.7 1983.6,1324.3 1983.3,1329.8 1982.9,1337.9 1975.3,1342.5 1969.9,1346.1 1963.4,1351 1956.2,1355.8 1949,1352.3 1944.5,1342.7 1944.7,1340.5 1944.9,1334.9 1943,1330.9 1944.3,1324.9 1943.8,1319.6 1943.9,1314.8 1941.8,1308 1942.6,1300.2 1942.3,1294.3 1942.1,1286.2 1942,1277.4 1942.6,1270 1943,1262.1 1942.3,1255.1 1942.6,1248.4 1942.9,1241.4 1943.7,1232.4 1942,1226.1 1944,1219.1 1942.5,1212.9 1943,1205.7 1944.6,1200.9 1945,1194.9 1944.2,1190.3 1945.8,1187Z" fill="#16d5af"/>
<path d="M1945.7,1311 1950.3,1309.9 1958.3,1310 1966.6,1312.1 1971.1,1314.6 1975.7,1319.4 1976.4,1328.5 1977.8,1334.8 1972.8,1339.6 1962.9,1341.8 1953.4,1344.4 1945,1343.7 1944,1339.4 1942.4,1330.1 1943.3,1324 1944.2,1316.3Z" fill="#6ad516"/>
<rect x="1377.9" y="761.1" width="818.8" height="659.8" filter="url(#mod)"/>
<rect x="1377.9" y="761.1" width="818.8" height="659.8" filter="url(#mot)"/>
<rect x="1377.9" y="761.1" width="818.8" height="659.8" fill="url(#sp)"/>
<path d="M1615.5,1186.8 1618.5,1187.1 1621.5,1187.2 1624.6,1187.6 1627.6,1187.1 1630.6,1187.5 1633.6,1185.4 1636.6,1186.4 1639.6,1187.6 1642.7,1186.9 1645.7,1187.5 1648.7,1185.6 1651.7,1186.4 1654.7,1185.9 1657.7,1186.6 1660.8,1186.7 1663.8,1185.3 1666.8,1185.8 1669.8,1186 1672.8,1187.5 1675.8,1187.1 1678.9,1185.7 1681.9,1187.2 1684.9,1185.6 1687.9,1186.8 1690.9,1185.6 1693.9,1185.3 1697,1187.4 1700,1185.8 1703,1185.8 1706,1187.7 1709,1187.4 1712,1186 1715.1,1187.6 1718.1,1186.6 1721.1,1186.9 1724.1,1185.8 1727.1,1187.6 1730.1,1187 1733.2,1187.6 1736.2,1187.4 1739.2,1186 1742.2,1186.2 1745.2,1185.7 1748.2,1185.6 1751.3,1185.5 1754.3,1186 1757.3,1186.7 1760.3,1185.3 1763.3,1186.9 1766.3,1186.1 1769.4,1186 1772.4,1187.3 1775.4,1186.5 1778.4,1186.1 1781.4,1186.5 1784.4,1187 1787.5,1185.4 1790.5,1187.6 1793.5,1185.4 1796.5,1187.1 1799.5,1187.3 1802.6,1185.3 1805.6,1187.2 1808.6,1186.2 1811.6,1186.7 1814.6,1185.3 1817.6,1185.4 1820.7,1185.7 1823.7,1187.6 1826.7,1185.8 1829.7,1187.1 1832.7,1187.5 1835.7,1187.6 1838.8,1186.1 1841.8,1186.2 1844.8,1186.6 1847.8,1187.2 1850.8,1185.6 1853.8,1187.1 1856.9,1187.2 1859.9,1187.4 1862.9,1185.4 1865.9,1187.6 1868.9,1185.5 1871.9,1186.1 1875,1186.8 1878,1187.5 1881,1186.1 1884,1187.5 1887,1186.6 1890,1186 1893.1,1186.1 1896.1,1185.7 1899.1,1185.5 1902.1,1185.7 1905.1,1187 1908.1,1187.7 1911.2,1185.7 1914.2,1185.4 1917.2,1187.7 1920.2,1186.6 1923.2,1186.3 1926.2,1185.9 1929.3,1186.7 1932.3,1187.3 1935.3,1186.4 1938.3,1186.3 1941.3,1185.4 1944.3,1187.5 1947.4,1185.4 1950.4,1186.5 1953.4,1187.3 1956.4,1185.6 1959.4,1187.1 1962.4,1187.6 1965.5,1186.8 1968.5,1187.2 1971.5,1185.6 1974.5,1186.5 1975.1,1189.5 1973.6,1192.6 1972,1195.6 1971.5,1198.6 1972.9,1201.6 1973.2,1204.7 1972.3,1207.7 1972.7,1210.7 1973.1,1213.7 1971.5,1216.8 1972,1219.8 1974.9,1222.8 1976,1225.8 1975.6,1228.9 1976.2,1231.9 1976.6,1234.9 1974.6,1237.9 1973.1,1241 1974,1244 1974.3,1247 1972.6,1250.1 1973.3,1253.1 1974.3,1256.1 1973.5,1259.1 1971.7,1262.2 1971.6,1265.2 1971.8,1268.2 1972.3,1271.2 1972.2,1274.3 1974.7,1277.3 1976.6,1280.3 1975.8,1283.3 1974.6,1286.4 1976.1,1289.4 1975,1292.4 1973.8,1295.4 1973.5,1298.5 1975.5,1301.5 1974.3,1304.5 1973.6,1307.6 1973,1310.6 1972.9,1313.6 1970.9,1316.6 1971,1319.7 1972.1,1322.7 1973.5,1325.7 1973.7,1328.7 1974.8,1331.8 1975,1334.8 1974.8,1337.8 1974,1340.8 1974.9,1343.9 1976.4,1346.9 1976,1349.9 1975.5,1352.9 1976.2,1356 1974.4,1359 1973.1,1362 1972.5,1365.1 1972.1,1368.1 1971.9,1371.1 1971.9,1374.1 1973.5,1377.2 1973.4,1380.2 1973.3,1383.2 1972.5,1386.2 1973.7,1389.3 1973.5,1392.3 1973.7,1395.3 1975.6,1398.3 1977.2,1401.4 1976.8,1404.4 1974.5,1407.4 1974.5,1410.4 1974.2,1413.5 1972.7,1416.5 1971.5,1416.1 1968.5,1416.8 1965.5,1416.7 1962.4,1415.8 1959.4,1416.5 1956.4,1416.1 1953.4,1415.8 1950.4,1415.9 1947.4,1416.2 1944.3,1416 1941.3,1416 1938.3,1415.8 1935.3,1416.4 1932.3,1416.3 1929.3,1416.7 1926.2,1416.6 1923.2,1416.1 1920.2,1417.1 1917.2,1415.7 1914.2,1416.3 1911.2,1416.1 1908.1,1416.4 1905.1,1415.9 1902.1,1417 1899.1,1416.3 1896.1,1415.8 1893.1,1416.7 1890,1415.9 1887,1416.6 1884,1416.2 1881,1416.6 1878,1417.2 1875,1417 1871.9,1416.4 1868.9,1417 1865.9,1416.7 1862.9,1416.3 1859.9,1415.9 1856.9,1416.7 1853.8,1416.6 1850.8,1417.2 1847.8,1417.2 1844.8,1416.7 1841.8,1416.3 1838.8,1417.1 1835.7,1415.7 1832.7,1415.9 1829.7,1416.6 1826.7,1416.7 1823.7,1415.9 1820.7,1416.7 1817.6,1417.1 1814.6,1416.3 1811.6,1416.4 1808.6,1416.1 1805.6,1416.2 1802.6,1417.3 1799.5,1416.3 1796.5,1417.2 1793.5,1417.2 1790.5,1416.7 1787.5,1416.1 1784.4,1417.3 1781.4,1416.5 1778.4,1416.4 1775.4,1416.2 1772.4,1417.3 1769.4,1416.5 1766.3,1416.2 1763.3,1416.5 1760.3,1415.9 1757.3,1416.7 1754.3,1416.4 1751.3,1416.2 1748.2,1417 1745.2,1417 1742.2,1415.7 1739.2,1416.6 1736.2,1416.1 1733.2,1417.2 1730.1,1417 1727.1,1416.1 1724.1,1416.1 1721.1,1415.9 1718.1,1417.3 1715.1,1416.2 1712,1416.7 1709,1416.5 1706,1416.7 1703,1416.7 1700,1416.9 1697,1415.9 1693.9,1416.9 1690.9,1416.2 1687.9,1416.6 1684.9,1416.2 1681.9,1416.2 1678.9,1416.5 1675.8,1416.4 1672.8,1416.3 1669.8,1416.9 1666.8,1416.6 1663.8,1415.8 1660.8,1416.1 1657.7,1416.4 1654.7,1417.2 1651.7,1417.1 1648.7,1416.6 1645.7,1415.7 1642.7,1416.9 1639.6,1416.4 1636.6,1416.6 1633.6,1416.8 1630.6,1416.7 1627.6,1416.5 1624.6,1417.2 1621.5,1416.3 1618.5,1416.3 1615.5,1417.1 1614.7,1416.5 1614.1,1413.5 1614.3,1410.4 1614.6,1407.4 1614.6,1404.4 1614.3,1401.4 1614.4,1398.3 1616.2,1395.3 1616.4,1392.3 1616.8,1389.3 1617.4,1386.2 1616.2,1383.2 1615,1380.2 1614.9,1377.2 1613.9,1374.1 1613.5,1371.1 1614.2,1368.1 1615.1,1365.1 1615.1,1362 1612.7,1359 1613.2,1356 1614.3,1352.9 1614.5,1349.9 1614.1,1346.9 1614.7,1343.9 1617.7,1340.8 1616.5,1337.8 1616.4,1334.8 1617.1,1331.8 1616.4,1328.7 1614.2,1325.7 1614.4,1322.7 1616.5,1319.7 1615.2,1316.6 1614.7,1313.6 1614.1,1310.6 1613.5,1307.6 1612.8,1304.5 1611.2,1301.5 1612.7,1298.5 1614.4,1295.4 1614,1292.4 1614.7,1289.4 1616.6,1286.4 1616.5,1283.3 1615.6,1280.3 1614.8,1277.3 1616.2,1274.3 1615.9,1271.2 1616.2,1268.2 1616.7,1265.2 1616.9,1262.2 1614,1259.1 1612.4,1256.1 1613.6,1253.1 1612.5,1250.1 1612.9,1247 1614,1244 1615.9,1241 1614.8,1237.9 1614.3,1234.9 1614.4,1231.9 1615.3,1228.9 1614.4,1225.8 1616.1,1222.8 1617.4,1219.8 1616.9,1216.8 1615.9,1213.7 1615.8,1210.7 1615.9,1207.7 1613.4,1204.7 1613.4,1201.6 1614.2,1198.6 1613.9,1195.6 1614.2,1192.6 1613.2,1189.5 1613.8,1186.5Z" fill="#fff"/>
<circle cx="1955.0" cy="1337.5" r="1.5" fill="#b8c428"/>
<circle cx="1958.2" cy="1243.7" r="1.6" fill="#d8a020"/>
<circle cx="1961.5" cy="1288.0" r="1.7" fill="#a8c830"/>
<circle cx="1967.8" cy="1214.9" r="1.1" fill="#d09020"/>
<circle cx="1959.8" cy="1244.7" r="1.6" fill="#d8a020"/>
<circle cx="1962.8" cy="1223.8" r="1.5" fill="#d09020"/>
<circle cx="1956.1" cy="1326.9" r="1.0" fill="#d09020"/>
<circle cx="1953.5" cy="1247.6" r="1.7" fill="#a8c830"/>
<circle cx="1960.7" cy="1398.0" r="1.3" fill="#c8b020"/>
<circle cx="1954.8" cy="1324.6" r="1.7" fill="#c8b020"/>
<circle cx="1964.2" cy="1323.1" r="1.1" fill="#c8c020"/>
<circle cx="1967.2" cy="1292.2" r="1.5" fill="#d09020"/>
<circle cx="1961.6" cy="1235.8" r="1.6" fill="#c8b020"/>
<circle cx="1957.8" cy="1215.4" r="1.8" fill="#d09020"/>
<circle cx="1958.3" cy="1195.9" r="1.6" fill="#c8c020"/>
<circle cx="1966.0" cy="1313.0" r="1.3" fill="#d8a020"/>
<circle cx="1956.2" cy="1271.2" r="1.2" fill="#a8c830"/>
<circle cx="1961.3" cy="1315.0" r="1.0" fill="#a8c830"/>
<circle cx="1960.5" cy="1284.3" r="1.5" fill="#a8c830"/>
<circle cx="1954.3" cy="1220.1" r="1.5" fill="#c8b020"/>
<circle cx="1961.4" cy="1363.3" r="1.3" fill="#a8c830"/>
<circle cx="1953.4" cy="1339.0" r="1.2" fill="#a8c830"/>
<circle cx="1958.0" cy="1253.5" r="1.1" fill="#d8a020"/>
<circle cx="1963.6" cy="1357.5" r="1.0" fill="#c8c020"/>
<circle cx="1953.7" cy="1255.6" r="1.8" fill="#c8b020"/>
<circle cx="1962.6" cy="1299.5" r="1.6" fill="#d09020"/>
<circle cx="1955.2" cy="1390.9" r="1.6" fill="#c8c020"/>
<circle cx="1957.4" cy="1373.3" r="1.1" fill="#b8c428"/>
<circle cx="1956.9" cy="1332.8" r="1.2" fill="#d8a020"/>
<circle cx="1967.5" cy="1267.4" r="1.4" fill="#c8b020"/>
<circle cx="1967.1" cy="1355.3" r="1.0" fill="#d8a020"/>
<circle cx="1969.0" cy="1267.0" r="1.2" fill="#a8c830"/>
<circle cx="1963.4" cy="1352.4" r="1.2" fill="#c8b020"/>
<circle cx="1953.6" cy="1325.1" r="1.3" fill="#90c830"/>
<circle cx="1959.4" cy="1245.2" r="1.0" fill="#b8c428"/>
<circle cx="1954.0" cy="1385.0" r="1.1" fill="#a8c830"/>
<circle cx="1961.5" cy="1304.4" r="1.2" fill="#90c830"/>
<circle cx="1955.0" cy="1337.8" r="1.4" fill="#a8c830"/>
<circle cx="1955.4" cy="1236.7" r="1.0" fill="#d8a020"/>
<circle cx="1956.3" cy="1193.6" r="1.7" fill="#d8a020"/>
<circle cx="1969.3" cy="1362.2" r="1.8" fill="#c8b020"/>
<circle cx="1965.5" cy="1307.0" r="0.9" fill="#a8c830"/>
<circle cx="1961.9" cy="1391.4" r="1.2" fill="#c8c020"/>
<circle cx="1969.4" cy="1203.0" r="1.5" fill="#d8a020"/>
<circle cx="1963.3" cy="1210.3" r="1.7" fill="#a8c830"/>
<circle cx="1969.0" cy="1214.2" r="0.9" fill="#d8a020"/>
<circle cx="1970.7" cy="1204.3" r="1.6" fill="#d09020"/>
<circle cx="1953.9" cy="1396.7" r="1.7" fill="#b8c428"/>
<circle cx="1953.1" cy="1284.4" r="1.6" fill="#a8c830"/>
<circle cx="1966.6" cy="1194.2" r="1.0" fill="#d09020"/>
<circle cx="1957.7" cy="1333.0" r="1.5" fill="#c8c020"/>
<circle cx="1963.4" cy="1357.2" r="1.6" fill="#c8c020"/>
<circle cx="1970.6" cy="1379.2" r="1.7" fill="#a8c830"/>
<circle cx="1960.3" cy="1251.6" r="1.6" fill="#d09020"/>
<circle cx="1953.6" cy="1218.7" r="1.8" fill="#90c830"/>
<circle cx="1967.6" cy="1255.3" r="1.1" fill="#c8b020"/>
<circle cx="1968.9" cy="1283.0" r="1.7" fill="#c8c020"/>
<circle cx="1972.0" cy="1261.4" r="1.2" fill="#c8b020"/>
<circle cx="1961.0" cy="1332.9" r="1.8" fill="#a8c830"/>
<circle cx="1971.5" cy="1354.2" r="1.2" fill="#d8a020"/>
<circle cx="1962.0" cy="1271.5" r="1.4" fill="#c8c020"/>
<circle cx="1967.4" cy="1363.8" r="1.1" fill="#90c830"/>
<circle cx="1969.3" cy="1241.8" r="1.0" fill="#90c830"/>
<circle cx="1965.6" cy="1200.6" r="1.1" fill="#90c830"/>
<circle cx="1966.0" cy="1326.4" r="1.6" fill="#a8c830"/>
<circle cx="1961.7" cy="1378.9" r="1.0" fill="#c8c020"/>
<circle cx="1966.4" cy="1228.6" r="1.2" fill="#d8a020"/>
<circle cx="1956.8" cy="1212.5" r="1.2" fill="#b8c428"/>
<circle cx="1967.3" cy="1263.2" r="1.3" fill="#90c830"/>
<circle cx="1971.6" cy="1200.5" r="1.4" fill="#a8c830"/>
<circle cx="1955.5" cy="1370.0" r="1.1" fill="#d09020"/>
<circle cx="1963.1" cy="1222.4" r="1.4" fill="#d8a020"/>
<circle cx="1958.8" cy="1266.7" r="1.2" fill="#d8a020"/>
<circle cx="1971.2" cy="1226.6" r="1.6" fill="#c8c020"/>
<circle cx="1957.0" cy="1351.7" r="1.8" fill="#c8b020"/>
<circle cx="1957.3" cy="1371.4" r="1.7" fill="#c8b020"/>
<circle cx="1962.0" cy="1317.1" r="1.2" fill="#d09020"/>
<circle cx="1957.7" cy="1371.3" r="1.5" fill="#d09020"/>
<circle cx="1968.5" cy="1399.8" r="1.3" fill="#c8c020"/>
<circle cx="1953.8" cy="1372.9" r="1.1" fill="#d09020"/>
<circle cx="1956.8" cy="1356.4" r="1.0" fill="#90c830"/>
<circle cx="1967.0" cy="1385.8" r="1.2" fill="#a8c830"/>
<circle cx="1955.1" cy="1352.7" r="1.3" fill="#90c830"/>
<circle cx="1964.5" cy="1360.2" r="1.5" fill="#c8b020"/>
<circle cx="1968.6" cy="1240.8" r="1.4" fill="#b8c428"/>
<circle cx="1963.3" cy="1396.1" r="1.4" fill="#b8c428"/>
<circle cx="1963.1" cy="1217.6" r="1.7" fill="#d8a020"/>
<circle cx="1962.1" cy="1215.0" r="1.6" fill="#c8c020"/>
<circle cx="1969.6" cy="1312.2" r="1.1" fill="#c8c020"/>
<circle cx="1955.5" cy="1306.6" r="1.2" fill="#c8b020"/>
<circle cx="1612.6" cy="1323.3" r="1.7" fill="#90c830"/>
<circle cx="1613.2" cy="1300.7" r="1.6" fill="#c8c020"/>
<circle cx="1616.5" cy="1366.2" r="1.5" fill="#90c830"/>
<circle cx="1612.4" cy="1293.2" r="0.9" fill="#a8c830"/>
<circle cx="1617.4" cy="1258.4" r="1.3" fill="#90c830"/>
<circle cx="1617.1" cy="1339.5" r="1.6" fill="#90c830"/>
<circle cx="1616.3" cy="1255.0" r="1.7" fill="#70c830"/>
<circle cx="1618.3" cy="1297.4" r="1.1" fill="#70c830"/>
<circle cx="1613.5" cy="1362.1" r="1.3" fill="#70c830"/>
<circle cx="1615.0" cy="1264.2" r="1.1" fill="#c8c020"/>
<circle cx="1619.0" cy="1321.5" r="1.1" fill="#a8c830"/>
<circle cx="1614.0" cy="1259.9" r="1.1" fill="#c8c020"/>
<circle cx="1614.3" cy="1257.5" r="1.4" fill="#90c830"/>
<circle cx="1612.3" cy="1268.6" r="1.1" fill="#90c830"/>
<circle cx="1621.7" cy="1262.2" r="1.5" fill="#c8c020"/>
<circle cx="1612.0" cy="1348.6" r="1.2" fill="#90c830"/>
<circle cx="1621.5" cy="1293.2" r="1.1" fill="#a8c830"/>
<circle cx="1616.9" cy="1251.1" r="1.1" fill="#90c830"/>
<circle cx="1621.8" cy="1361.1" r="1.6" fill="#90c830"/>
<circle cx="1621.2" cy="1299.1" r="1.2" fill="#70c830"/>
<circle cx="1621.7" cy="1275.5" r="1.2" fill="#90c830"/>
<circle cx="1617.4" cy="1347.1" r="1.0" fill="#a8c830"/>
<circle cx="1621.9" cy="1238.9" r="1.0" fill="#c8c020"/>
<circle cx="1616.4" cy="1292.2" r="1.6" fill="#70c830"/>
<circle cx="1619.6" cy="1230.5" r="1.4" fill="#a8c830"/>
<circle cx="1614.9" cy="1301.3" r="1.4" fill="#70c830"/>
<circle cx="1621.5" cy="1342.5" r="1.6" fill="#70c830"/>
<circle cx="1619.1" cy="1293.6" r="1.2" fill="#70c830"/>
<circle cx="1619.1" cy="1267.1" r="1.1" fill="#c8c020"/>
<circle cx="1612.2" cy="1332.2" r="1.1" fill="#70c830"/>
<circle cx="1620.2" cy="1359.9" r="1.4" fill="#70c830"/>
<circle cx="1618.6" cy="1262.6" r="1.6" fill="#a8c830"/>
<circle cx="1613.4" cy="1319.7" r="1.5" fill="#c8c020"/>
<circle cx="1617.9" cy="1351.6" r="1.0" fill="#a8c830"/>
<circle cx="1614.1" cy="1247.9" r="1.6" fill="#90c830"/>
<circle cx="1615.3" cy="1301.1" r="1.1" fill="#a8c830"/>
<circle cx="1613.1" cy="1242.0" r="1.7" fill="#a8c830"/>
<circle cx="1619.6" cy="1308.5" r="1.0" fill="#a8c830"/>
<circle cx="1615.4" cy="1309.8" r="1.5" fill="#70c830"/>
<circle cx="1620.3" cy="1232.3" r="1.3" fill="#a8c830"/>
<circle cx="1621.0" cy="1237.3" r="1.7" fill="#70c830"/>
<circle cx="1613.9" cy="1313.5" r="1.5" fill="#c8c020"/>
<circle cx="1613.0" cy="1275.3" r="0.9" fill="#c8c020"/>
<circle cx="1620.3" cy="1337.8" r="1.2" fill="#c8c020"/>
<circle cx="1614.8" cy="1268.2" r="1.7" fill="#70c830"/>
<circle cx="1616.1" cy="1353.2" r="1.4" fill="#c8c020"/>
<circle cx="1617.1" cy="1339.8" r="1.3" fill="#90c830"/>
<circle cx="1621.9" cy="1252.5" r="1.0" fill="#70c830"/>
<circle cx="1615.3" cy="1255.3" r="1.5" fill="#70c830"/>
<circle cx="1615.2" cy="1359.2" r="1.7" fill="#70c830"/>
<circle cx="1876.3" cy="1188.7" r="0.9" fill="#c8c020"/>
<circle cx="1927.0" cy="1189.6" r="1.5" fill="#c8c020"/>
<circle cx="1821.4" cy="1191.6" r="1.1" fill="#c8b020"/>
<circle cx="1871.2" cy="1191.9" r="1.4" fill="#c8b020"/>
<circle cx="1806.5" cy="1190.7" r="1.2" fill="#d09020"/>
<circle cx="1785.3" cy="1187.6" r="1.4" fill="#c8b020"/>
<circle cx="1905.1" cy="1189.0" r="1.0" fill="#c8c020"/>
<circle cx="1899.3" cy="1190.6" r="1.3" fill="#c8b020"/>
<circle cx="1764.2" cy="1189.5" r="1.1" fill="#d8a020"/>
<circle cx="1824.1" cy="1191.8" r="1.0" fill="#d8a020"/>
<circle cx="1902.0" cy="1190.2" r="1.0" fill="#c8c020"/>
<circle cx="1780.9" cy="1188.7" r="1.5" fill="#c8c020"/>
<circle cx="1760.6" cy="1190.7" r="1.1" fill="#90c830"/>
<circle cx="1741.9" cy="1187.5" r="1.2" fill="#a8c830"/>
<circle cx="1911.1" cy="1187.3" r="1.2" fill="#c8b020"/>
<circle cx="1760.5" cy="1189.8" r="1.0" fill="#c8b020"/>
<circle cx="1919.9" cy="1191.6" r="1.1" fill="#d8a020"/>
<circle cx="1805.3" cy="1187.5" r="1.2" fill="#90c830"/>
<circle cx="1755.2" cy="1188.5" r="1.5" fill="#a8c830"/>
<circle cx="1757.1" cy="1188.6" r="1.3" fill="#b8c428"/>
<circle cx="1710.5" cy="1190.0" r="1.4" fill="#90c830"/>
<circle cx="1730.2" cy="1188.0" r="1.2" fill="#90c830"/>
<circle cx="1915.6" cy="1190.6" r="1.4" fill="#a8c830"/>
<circle cx="1756.7" cy="1189.1" r="1.4" fill="#c8c020"/>
<circle cx="1914.6" cy="1189.5" r="1.1" fill="#b8c428"/>
<circle cx="1789.4" cy="1187.9" r="1.1" fill="#c8c020"/>
<circle cx="1912.6" cy="1190.7" r="1.3" fill="#d8a020"/>
<circle cx="1913.9" cy="1188.3" r="1.4" fill="#d09020"/>
<circle cx="1836.2" cy="1188.6" r="1.2" fill="#a8c830"/>
<circle cx="1756.2" cy="1188.3" r="1.4" fill="#a8c830"/>
<circle cx="1733.2" cy="1190.6" r="1.0" fill="#a8c830"/>
<circle cx="1865.7" cy="1192.0" r="1.2" fill="#a8c830"/>
<circle cx="1756.0" cy="1191.7" r="0.9" fill="#a8c830"/>
<circle cx="1758.9" cy="1191.8" r="1.2" fill="#c8c020"/>
<circle cx="1916.8" cy="1187.1" r="1.3" fill="#c8b020"/>
<circle cx="1916.7" cy="1191.6" r="1.4" fill="#c8b020"/>
<circle cx="1911.8" cy="1187.7" r="1.0" fill="#b8c428"/>
<circle cx="1806.3" cy="1188.0" r="1.0" fill="#90c830"/>
<circle cx="1741.7" cy="1189.4" r="1.1" fill="#c8c020"/>
<circle cx="1826.4" cy="1190.5" r="1.2" fill="#c8c020"/>
<circle cx="1951.0" cy="1410.0" r="1.3" fill="#e02020"/>
<circle cx="1951.0" cy="1405.0" r="1.2" fill="#e02020"/>
</g>
<path d="M1735.0,785.5L1735.0,1189.0M1858.0,785.5L1858.0,1189.0M1642.4,1028.0L1642.4,1189.0M1704.3,1032.0L1704.3,1189.0M1765.4,1032.0L1765.4,1189.0M1826.2,1032.0L1826.2,1189.0M1887.0,1031.0L1887.0,1189.0M1949.2,1028.0L1949.2,1189.0M1459.5,1240.7L1618.0,1240.7M1459.5,1293.6L1618.0,1293.6M1459.5,1345.4L1618.0,1345.4M1459.5,1398.1L1618.0,1398.1M1969.0,1187.6L2126.5,1187.6M1969.0,1240.7L2126.5,1240.7M1969.0,1293.6L2126.5,1293.6M1969.0,1345.4L2126.5,1345.4M1969.0,1398.1L2126.5,1398.1" stroke="#0a0a0a" stroke-width="2.6" fill="none" stroke-linecap="butt"/>
<path d="M1459.5,1187.6 1598,1188.3 1606,1186 1614,1183.5" stroke="#0a0a0a" stroke-width="2.6" fill="none"/>
<rect x="1221.4" y="779.8" width="23.4" height="47.6" fill="#ff0000"/>
<rect x="1221.4" y="826.9" width="23.4" height="31.6" fill="#ff3900"/>
<rect x="1221.4" y="858.0" width="23.4" height="31.6" fill="#ff7100"/>
<rect x="1221.4" y="889.1" width="23.4" height="31.6" fill="#ffaa00"/>
<rect x="1221.4" y="920.2" width="23.4" height="31.6" fill="#ffe300"/>
<rect x="1221.4" y="951.3" width="23.4" height="31.6" fill="#e3ff00"/>
<rect x="1221.4" y="982.3" width="23.4" height="31.6" fill="#aaff00"/>
<rect x="1221.4" y="1013.4" width="23.4" height="31.6" fill="#71ff00"/>
<rect x="1221.4" y="1044.5" width="23.4" height="31.6" fill="#39ff00"/>
<rect x="1221.4" y="1075.6" width="23.4" height="31.6" fill="#00ff00"/>
<rect x="1221.4" y="1106.7" width="23.4" height="31.6" fill="#00ff39"/>
<rect x="1221.4" y="1137.8" width="23.4" height="31.6" fill="#00ff71"/>
<rect x="1221.4" y="1168.9" width="23.4" height="31.6" fill="#00ffaa"/>
<rect x="1221.4" y="1200.0" width="23.4" height="31.6" fill="#00ffe3"/>
<rect x="1221.4" y="1231.1" width="23.4" height="31.6" fill="#00e3ff"/>
<rect x="1221.4" y="1262.2" width="23.4" height="31.6" fill="#00aaff"/>
<rect x="1221.4" y="1293.2" width="23.4" height="31.6" fill="#0071ff"/>
<rect x="1221.4" y="1324.3" width="23.4" height="31.6" fill="#0039ff"/>
<rect x="1221.4" y="1355.4" width="23.4" height="48.6" fill="#0000ff"/>
<text class="lab" x="1303.0" y="803.4">450.54</text>
<text class="lab" x="1303.0" y="838.4">425.00</text>
<text class="lab" x="1303.0" y="873.3">400.00</text>
<text class="lab" x="1303.0" y="908.3">375.89</text>
<text class="lab" x="1303.0" y="943.2">325.00</text>
<text class="lab" x="1303.0" y="978.2">300.00</text>
<text class="lab" x="1303.0" y="1013.2">275.00</text>
<text class="lab" x="1303.0" y="1048.1">250.00</text>
<text class="lab" x="1303.0" y="1083.1">225.00</text>
<text class="lab" x="1303.0" y="1118.0">200.00</text>
<text class="lab" x="1303.0" y="1153.0">175.00</text>
<text class="lab" x="1303.0" y="1188.0">150.00</text>
<text class="lab" x="1303.0" y="1222.9">125.00</text>
<text class="lab" x="1303.0" y="1257.9">100.00</text>
<text class="lab" x="1303.0" y="1292.8">75.00</text>
<text class="lab" x="1303.0" y="1327.8">50.00</text>
<text class="lab" x="1303.0" y="1362.8">25.00</text>
<text class="lab" x="1303.0" y="1397.7">0.000</text>
<text class="ttl" transform="translate(1196.9,1064.0) rotate(-90)">displacement/mm</text>
<text class="cap" x="1676.0" y="1487.6">(<tspan class="b" dx="-0.35">d</tspan><tspan dx="-0.35">)</tspan></text>
</svg></body></html>
